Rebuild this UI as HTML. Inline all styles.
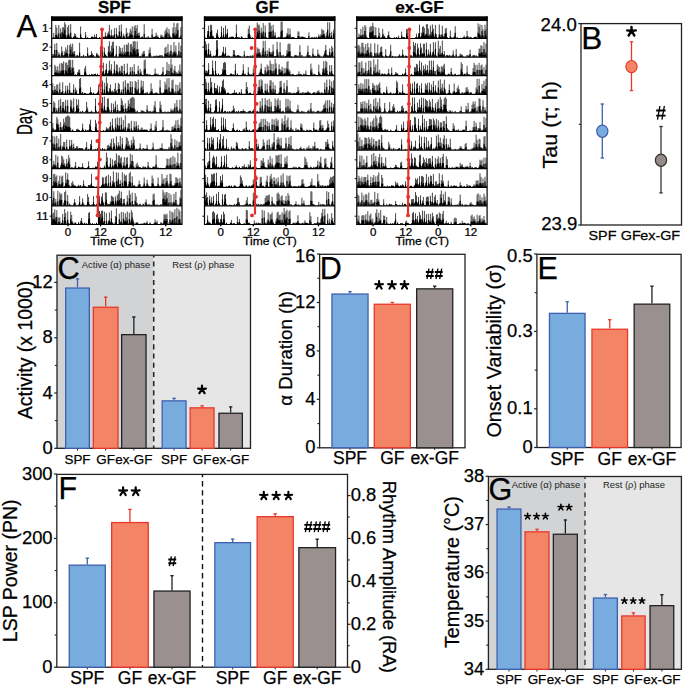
<!DOCTYPE html>
<html><head><meta charset="utf-8"><style>
html,body{margin:0;padding:0;background:#fff;}
svg{display:block;}
text{font-family:"Liberation Sans", sans-serif;stroke:#000;stroke-width:0.25px;paint-order:stroke;}
</style></head><body>
<svg width="685" height="687" viewBox="0 0 685 687"><rect x="0.00" y="0.00" width="685.00" height="687.00" fill="#fff" /><text x="16.60" y="36.80" font-size="30.8" text-anchor="start" >A</text><text transform="translate(32.2,121.6) rotate(-90) scale(0.74,1.04)" font-size="20.5" text-anchor="middle">Day</text><text transform="translate(114.45,13.4) scale(1.08,1)" font-size="15.6" font-weight="bold" text-anchor="middle">SPF</text><rect x="51.10" y="16.30" width="131.50" height="4.70" fill="#000" /><path d="M52.8 38.2m0 0v-.7m1 .7v-5.3m2 5.3v-13.3m1 13.3v-10.7m1 10.7v-1.9m1 1.9v-13.1m1.9 13.1v-9.8m1 9.8v-6m1 6v-10.9m1 10.9v-11m1 11v-16.1m1 16.1v-13.8m1 13.8v-1.5m1 1.5v-11.1m1 11.1v-13.3m1 13.3v-2.3m1 2.3v-14.1m1 14.1v-1.3m2 1.3v-1.7m.9 1.7v-4.8m1 4.8v-4.1m1 4.1v-.8m1 .8v-.8m3 .8v-11.7m1 11.7v-.9m4 .9v-6.2m2 6.2v-.9m3.9 .9v-1.8m1 1.8v-1.6m1 1.6v-.9m1 .9v-3.6m1 3.6v-1.5m1 1.5v-4.2m3 4.2v-1.2m2 1.2v-1.6m1 1.6v-.8m.9 .8v-1.5m1 1.5v-1.3m1 1.3v-5.9m1 5.9v-1.9m1 1.9v-4.8m1 4.8v-6.7m1 6.7v-13.3m1 13.3v-2.6m1 2.6v-8.6m1 8.6v-2.9m1 2.9v-2.7m1 2.7v-10m2 10v-10.4m.9 10.4v-2.9m1 2.9v-2.8m1 2.8v-13m1 13v-2.3m1 2.3v-13.8m1 13.8v-.9m1 .9v-4.5m1 4.5v-2.7m2 2.7v-10.3m1 10.3v-5.6m1 5.6v-1.8m1 1.8v-5.4m1 5.4v-9.4m1 9.4v-7.1m.9 7.1v-11.8m2 11.8v-11.5m1 11.5v-13.1m1 13.1v-10m1 10v-13.2m1 13.2v-5.1m1 5.1v-5.7m2 5.7v-1.4m1 1.4v-1.8m1 1.8v-.7m1 .7v-14m1.9 14v-.9m2 .9v-2m2 2v-.8m2 .8v-9.4m1 9.4v-1.4m1 1.4v-1.3m1 1.3v-1.7m1 1.7v-5.6m1 5.6v-3.3m1 3.3v-1.6m2.9 1.6v-3.6m1 3.6v-3.2m1 3.2v-1.5m2 1.5v-7.1m1 7.1v-8.8m1 8.8v-10.8m1 10.8v-.8m1 .8v-9.2m1 9.2v-2.8m1 2.8v-1.2m2 1.2v-10.6m1 10.6v-15.5m.9 15.5v-5.7m1 5.7v-11m1 11v-14.7m1 14.7v-15.3m1 15.3v-.6m1 .6v-1.3m1 1.3v-11M52.8 56.8m0 0v-2.9m1 2.9v-2.8m1 2.8v-13m1 13v-2.3m1 2.3v-13.8m1 13.8v-.9m1 .9v-4.5m1 4.5v-2.7m1.9 2.7v-10.3m1 10.3v-5.6m1 5.6v-1.8m1 1.8v-5.4m1 5.4v-9.4m1 9.4v-7.1m1 7.1v-11.8m2 11.8v-11.5m1 11.5v-13.1m1 13.1v-10m1 10v-13.2m1 13.2v-5.1m.9 5.1v-5.7m2 5.7v-1.4m1 1.4v-1.8m1 1.8v-.7m1 .7v-14m2 14v-.9m2 .9v-2m2 2v-.8m2 .8v-9.4m1 9.4v-1.4m.9 1.4v-1.3m1 1.3v-1.7m1 1.7v-5.6m1 5.6v-3.3m1 3.3v-1.6m3 1.6v-3.6m1 3.6v-3.2m1 3.2v-1.5m2 1.5v-7.1m1 7.1v-8.8m1 8.8v-10.8m.9 10.8v-.8m1 .8v-9.2m1 9.2v-2.8m1 2.8v-1.2m2 1.2v-10.6m1 10.6v-15.5m1 15.5v-5.7m1 5.7v-11m1 11v-14.7m1 14.7v-15.3m1 15.3v-.6m1 .6v-1.3m1 1.3v-11m2.9 11v-10.6m1 10.6v-9m1 9v-5.4m1 5.4v-9.1m1 9.1v-4.6m1 4.6v-11.9m1 11.9v-5m1 5v-12.4m1 12.4v-11.7m1 11.7v-14.1m1 14.1v-2m1 2v-12.6m1 12.6v-12.9m.9 12.9v-10.3m1 10.3v-15.3m1 15.3v-15.8m1 15.8v-15.3m1 15.3v-7.8m1 7.8v-15.5m1 15.5v-7.8m2 7.8v-1.1m2 1.1v-3.4m1 3.4v-5.5m1 5.5v-5.9m2.9 5.9v-.5m2 .5v-7.1m1 7.1v-9.5m1 9.5v-1.3m3 1.3v-1.1m2 1.1v-1.3m1 1.3v-1.3m1 1.3v-.9m1 .9v-1.2m1 1.2v-1.8m1.9 1.8v-1.7m3 1.7v-9m1 9v-10.1m1 10.1v-4m1 4v-12.7m1 12.7v-1.6m1 1.6v-5.4m1 5.4v-11.8m1 11.8v-2.3m1 2.3v-4.7m1 4.7v-14.8m.9 14.8v-5.8m1 5.8v-11.2m1 11.2v-1.7m1 1.7v-2.4m1 2.4v-14.3m1 14.3v-2.4m1 2.4v-11M52.8 75.4m2 0v-10.6m1 10.6v-9m1 9v-5.4m1 5.4v-9.1m1 9.1v-4.6m1 4.6v-11.9m.9 11.9v-5m1 5v-12.4m1 12.4v-11.7m1 11.7v-14.1m1 14.1v-2m1 2v-12.6m1 12.6v-12.9m1 12.9v-10.3m1 10.3v-15.3m1 15.3v-15.8m1 15.8v-15.3m1 15.3v-7.8m1 7.8v-15.5m1 15.5v-7.8m1.9 7.8v-1.1m2 1.1v-3.4m1 3.4v-5.5m1 5.5v-5.9m3 5.9v-.5m2 .5v-7.1m1 7.1v-9.5m1 9.5v-1.3m2.9 1.3v-1.1m2 1.1v-1.3m1 1.3v-1.3m1 1.3v-.9m1 .9v-1.2m1 1.2v-1.8m2 1.8v-1.7m3 1.7v-9m1 9v-10.1m1 10.1v-4m.9 4v-12.7m1 12.7v-1.6m1 1.6v-5.4m1 5.4v-11.8m1 11.8v-2.3m1 2.3v-4.7m1 4.7v-14.8m1 14.8v-5.8m1 5.8v-11.2m1 11.2v-1.7m1 1.7v-2.4m1 2.4v-14.3m1 14.3v-2.4m1 2.4v-11m.9 11v-10.6m1 10.6v-2.6m1 2.6v-8m1 8v-4.8m1 4.8v-9.6m1 9.6v-9.5m1 9.5v-.8m1 .8v-11.5m1 11.5v-1.4m1 1.4v-2m1 2v-11.8m1 11.8v-.6m1 .6v-1.4m1 1.4v-8.3m1 8.3v-.6m.9 .6v-8.4m1 8.4v-1.1m1 1.1v-11.2m1 11.2v-.8m1 .8v-1.6m1 1.6v-1.3m1 1.3v-9.7m1 9.7v-.7m1 .7v-6.4m1 6.4v-4m3 4v-15m1 15v-16m.9 16v-1.1m1 1.1v-2m2 2v-1.2m1 1.2v-.8m4 .8v-1m1 1v-6.8m1 6.8v-1.9m2 1.9v-1.6m2.9 1.6v-.6m1 .6v-1.9m1 1.9v-8.4m3 8.4v-1.6m1 1.6v-13.4m1 13.4v-1.1m1 1.1v-11.2m1 11.2v-1.3m1 1.3v-16.8m1 16.8v-10.9m1 10.9v-2.2m1 2.2v-5.9m.9 5.9v-9.5m1 9.5v-2.7m1 2.7v-3.5m1 3.5v-2.4m1 2.4v-5.2m1 5.2v-11m1 11v-4M52.8 94.0m0 0v-10.6m1 10.6v-2.6m1 2.6v-8m1 8v-4.8m1 4.8v-9.6m1 9.6v-9.5m1 9.5v-.8m1 .8v-11.5m.9 11.5v-1.4m1 1.4v-2m1 2v-11.8m1 11.8v-.6m1 .6v-1.4m1 1.4v-8.3m1 8.3v-.6m1 .6v-8.4m1 8.4v-1.1m1 1.1v-11.2m1 11.2v-.8m1 .8v-1.6m1 1.6v-1.3m1 1.3v-9.7m.9 9.7v-.7m1 .7v-6.4m1 6.4v-4m3 4v-15m1 15v-16m1 16v-1.1m1 1.1v-2m2 2v-1.2m1 1.2v-.8m3.9 .8v-1m1 1v-6.8m1 6.8v-1.9m2 1.9v-1.6m3 1.6v-.6m1 .6v-1.9m1 1.9v-8.4m3 8.4v-1.6m1 1.6v-13.4m.9 13.4v-1.1m1 1.1v-11.2m1 11.2v-1.3m1 1.3v-16.8m1 16.8v-10.9m1 10.9v-2.2m1 2.2v-5.9m1 5.9v-9.5m1 9.5v-2.7m1 2.7v-3.5m1 3.5v-2.4m1 2.4v-5.2m1 5.2v-11m1 11v-4m.9 4v-1m1 1v-11.2m1 11.2v-9.9m1 9.9v-.7m1 .7v-4.3m1 4.3v-.9m1 .9v-12.6m2 12.6v-13.9m1 13.9v-2.1m1 2.1v-10.6m1 10.6v-10.8m1 10.8v-2.6m1 2.6v-12.9m1 12.9v-1.4m.9 1.4v-12.6m3 12.6v-13.1m1 13.1v-12m1 12v-3.4m1 3.4v-14.3m2 14.3v-1.3m1 1.3v-13.6m1 13.6v-7.8m1 7.8v-13m2 13v-1.3m1.9 1.3v-2m3 2v-1.5m1 1.5v-10.7m1 10.7v-5.2m1 5.2v-.6m1 .6v-.8m1 .8v-.9m1 .9v-1.9m1 1.9v-1m3 1v-14.1m.9 14.1v-1.9m2 1.9v-1.2m1 1.2v-1.9m1 1.9v-12.3m1 12.3v-9.5m1 9.5v-15.6m1 15.6v-3m1 3v-15.9m1 15.9v-2.9m1 2.9v-2.4m1 2.4v-13.8m1 13.8v-14.4m1 14.4v-3m.9 3v-.5m1 .5v-9.4m2 9.4v-9m1 9v-3.7m1 3.7v-11.7m1 11.7v-1M52.8 112.6m0 0v-1m1 1v-11.2m1 11.2v-9.9m1 9.9v-.7m1 .7v-4.3m1 4.3v-.9m1 .9v-12.6m1.9 12.6v-13.9m1 13.9v-2.1m1 2.1v-10.6m1 10.6v-10.8m1 10.8v-2.6m1 2.6v-12.9m1 12.9v-1.4m1 1.4v-12.6m3 12.6v-13.1m1 13.1v-12m1 12v-3.4m1 3.4v-14.3m1.9 14.3v-1.3m1 1.3v-13.6m1 13.6v-7.8m1 7.8v-13m2 13v-1.3m2 1.3v-2m3 2v-1.5m1 1.5v-10.7m1 10.7v-5.2m1 5.2v-.6m.9 .6v-.8m1 .8v-.9m1 .9v-1.9m1 1.9v-1m3 1v-14.1m1 14.1v-1.9m2 1.9v-1.2m1 1.2v-1.9m1 1.9v-12.3m1 12.3v-9.5m1 9.5v-15.6m.9 15.6v-3m1 3v-15.9m1 15.9v-2.9m1 2.9v-2.4m1 2.4v-13.8m1 13.8v-14.4m1 14.4v-3m1 3v-.5m1 .5v-9.4m2 9.4v-9m1 9v-3.7m1 3.7v-11.7m1 11.7v-1m.9 1v-8.1m1 8.1v-2.8m1 2.8v-1.4m1 1.4v-1.8m1 1.8v-14.3m1 14.3v-12m1 12v-7.5m1 7.5v-.7m1 .7v-9.2m1 9.2v-3.6m1 3.6v-4.5m1 4.5v-12.5m1 12.5v-8.9m1 8.9v-14.1m1 14.1v-14.6m.9 14.6v-15.8m1 15.8v-15.5m1 15.5v-14.2m1 14.2v-3m2 3v-1.9m4 1.9v-2.2m1 2.2v-2.6m1 2.6v-1.7m1 1.7v-1.1m1.9 1.1v-.8m1 .8v-7.5m1 7.5v-1.4m2 1.4v-1.8m1 1.8v-.6m1 .6v-1.2m1 1.2v-1.1m1 1.1v-7.2m1 7.2v-11.5m1 11.5v-1.1m4 1.1v-11.3m.9 11.3v-7.8m1 7.8v-1m1 1v-.7m2 .7v-1.2m3 1.2v-1.1m2 1.1v-.8m1 .8v-4m1 4v-2.9m1 2.9v-2.7m1 2.7v-4.1m.9 4.1v-9.3m1 9.3v-1.1m1 1.1v-12.6m1 12.6v-2.9m1 2.9v-1.1m1 1.1v-12.9m1 12.9v-2.6M52.8 131.2m0 0v-8.1m1 8.1v-2.8m1 2.8v-1.4m1 1.4v-1.8m1 1.8v-14.3m1 14.3v-12m1 12v-7.5m1 7.5v-.7m.9 .7v-9.2m1 9.2v-3.6m1 3.6v-4.5m1 4.5v-12.5m1 12.5v-8.9m1 8.9v-14.1m1 14.1v-14.6m1 14.6v-15.8m1 15.8v-15.5m1 15.5v-14.2m1 14.2v-3m2 3v-1.9m3.9 1.9v-2.2m1 2.2v-2.6m1 2.6v-1.7m1 1.7v-1.1m2 1.1v-.8m1 .8v-7.5m1 7.5v-1.4m2 1.4v-1.8m1 1.8v-.6m1 .6v-1.2m1 1.2v-1.1m.9 1.1v-7.2m1 7.2v-11.5m1 11.5v-1.1m4 1.1v-11.3m1 11.3v-7.8m1 7.8v-1m1 1v-.7m2 .7v-1.2m2.9 1.2v-1.1m2 1.1v-.8m1 .8v-4m1 4v-2.9m1 2.9v-2.7m1 2.7v-4.1m1 4.1v-9.3m1 9.3v-1.1m1 1.1v-12.6m1 12.6v-2.9m1 2.9v-1.1m1 1.1v-12.9m1 12.9v-2.6m.9 2.6v-14m1 14v-5.7m1 5.7v-13.3m1 13.3v-1.5m1 1.5v-13.9m1 13.9v-2m1 2v-11.1m1 11.1v-2.5m1 2.5v-15.9m2 15.9v-3.7m1 3.7v-7.9m1 7.9v-7.8m1 7.8v-.6m1 .6v-10.3m.9 10.3v-1.2m1 1.2v-.7m1 .7v-9.9m1 9.9v-3.4m1 3.4v-9.9m1 9.9v-1.8m1 1.8v-6.2m1 6.2v-.9m1 .9v-1.7m1 1.7v-3.6m1 3.6v-3.5m1 3.5v-1.5m1 1.5v-1.9m1 1.9v-1.7m.9 1.7v-1.6m1 1.6v-1.6m3 1.6v-2.3m1 2.3v-7.7m2 7.7v-1m2 1v-5.9m1 5.9v-10m4 10v-.9m1.9 .9v-1.6m1 1.6v-11.1m2 11.1v-1.1m2 1.1v-1.7m2 1.7v-1.2m3 1.2v-4.3m1 4.3v-5m1 5v-3.7m.9 3.7v-6.6m1 6.6v-10.8m1 10.8v-1m1 1v-11.4m1 11.4v-6.6m1 6.6v-.8m1 .8v-13.4M52.8 149.8m0 0v-14m1 14v-5.7m1 5.7v-13.3m1 13.3v-1.5m1 1.5v-13.9m1 13.9v-2m1 2v-11.1m1 11.1v-2.5m.9 2.5v-15.9m2 15.9v-3.7m1 3.7v-7.9m1 7.9v-7.8m1 7.8v-.6m1 .6v-10.3m1 10.3v-1.2m1 1.2v-.7m1 .7v-9.9m1 9.9v-3.4m1 3.4v-9.9m1 9.9v-1.8m1 1.8v-6.2m.9 6.2v-.9m1 .9v-1.7m1 1.7v-3.6m1 3.6v-3.5m1 3.5v-1.5m1 1.5v-1.9m1 1.9v-1.7m1 1.7v-1.6m1 1.6v-1.6m3 1.6v-2.3m1 2.3v-7.7m2 7.7v-1m1.9 1v-5.9m1 5.9v-10m4 10v-.9m2 .9v-1.6m1 1.6v-11.1m2 11.1v-1.1m2 1.1v-1.7m1.9 1.7v-1.2m3 1.2v-4.3m1 4.3v-5m1 5v-3.7m1 3.7v-6.6m1 6.6v-10.8m1 10.8v-1m1 1v-11.4m1 11.4v-6.6m1 6.6v-.8m1 .8v-13.4m.9 13.4v-2.9m1 2.9v-7.6m1 7.6v-4.5m1 4.5v-13.6m1 13.6v-1.6m1 1.6v-12m1 12v-1.2m2 1.2v-3.4m1 3.4v-12.8m1 12.8v-11.7m1 11.7v-9m1 9v-5.1m1 5.1v-2m1 2v-9.6m.9 9.6v-5.4m1 5.4v-13.3m1 13.3v-10.2m2 10.2v-1.2m1 1.2v-.9m2 .9v-1.9m1 1.9v-6.3m2 6.3v-.6m1 .6v-1.9m1 1.9v-1.2m1 1.2v-.9m.9 .9v-1.3m1 1.3v-5m1 5v-.8m4 .8v-1.2m1 1.2v-7.1m1 7.1v-.7m3 .7v-.7m1 .7v-.8m2 .8v-2m.9 2v-1.8m1 1.8v-6.5m1 6.5v-1.1m2 1.1v-1m2 1v-.8m2 .8v-3m1 3v-1.1m1 1.1v-15.7m1 15.7v-11m1 11v-1.8m1 1.8v-2.1m.9 2.1v-10.5m1 10.5v-1.2m1 1.2v-9.1m1 9.1v-3m1 3v-7.6m1 7.6v-8m1 8v-15M52.8 168.4m0 0v-2.9m1 2.9v-7.6m1 7.6v-4.5m1 4.5v-13.6m1 13.6v-1.6m1 1.6v-12m1 12v-1.2m1.9 1.2v-3.4m1 3.4v-12.8m1 12.8v-11.7m1 11.7v-9m1 9v-5.1m1 5.1v-2m1 2v-9.6m1 9.6v-5.4m1 5.4v-13.3m1 13.3v-10.2m2 10.2v-1.2m1 1.2v-.9m1.9 .9v-1.9m1 1.9v-6.3m2 6.3v-.6m1 .6v-1.9m1 1.9v-1.2m1 1.2v-.9m1 .9v-1.3m1 1.3v-5m1 5v-.8m4 .8v-1.2m1 1.2v-7.1m.9 7.1v-.7m3 .7v-.7m1 .7v-.8m2 .8v-2m1 2v-1.8m1 1.8v-6.5m1 6.5v-1.1m2 1.1v-1m2 1v-.8m1.9 .8v-3m1 3v-1.1m1 1.1v-15.7m1 15.7v-11m1 11v-1.8m1 1.8v-2.1m1 2.1v-10.5m1 10.5v-1.2m1 1.2v-9.1m1 9.1v-3m1 3v-7.6m1 7.6v-8m1 8v-15m.9 15v-1.6m1 1.6v-12.9m1 12.9v-13.1m1 13.1v-10.2m1 10.2v-11.6m1 11.6v-1.1m1 1.1v-6.1m1 6.1v-11.3m1 11.3v-2.3m1 2.3v-10.5m1 10.5v-11.4m2 11.4v-1.1m1 1.1v-14.7m1 14.7v-7.5m.9 7.5v-13.6m1 13.6v-6.9m1 6.9v-1.8m2 1.8v-4.2m1 4.2v-5.8m1 5.8v-3.3m1 3.3v-1.4m1 1.4v-1.3m2 1.3v-.8m1 .8v-2.3m1 2.3v-1.2m1 1.2v-1.9m1.9 1.9v-.8m1 .8v-6.6m1 6.6v-1m1 1v-.9m3 .9v-2m1 2v-1.7m1 1.7v-2.5m1 2.5v-13.1m1 13.1v-.8m1 .8v-.9m2.9 .9v-.7m5 .7v-1.9m1 1.9v-9.9m1 9.9v-9.4m1 9.4v-3m1 3v-10m1 10v-11.1m1 11.1v-1.5m1 1.5v-12.4m1 12.4v-.5m.9 .5v-10.9m1 10.9v-.8m1 .8v-6.1m1 6.1v-15.6m1 15.6v-5.1m2 5.1v-14.6M52.8 187.0m0 0v-1.6m1 1.6v-12.9m1 12.9v-13.1m1 13.1v-10.2m1 10.2v-11.6m1 11.6v-1.1m1 1.1v-6.1m1 6.1v-11.3m.9 11.3v-2.3m1 2.3v-10.5m1 10.5v-11.4m2 11.4v-1.1m1 1.1v-14.7m1 14.7v-7.5m1 7.5v-13.6m1 13.6v-6.9m1 6.9v-1.8m2 1.8v-4.2m1 4.2v-5.8m1 5.8v-3.3m.9 3.3v-1.4m1 1.4v-1.3m2 1.3v-.8m1 .8v-2.3m1 2.3v-1.2m1 1.2v-1.9m2 1.9v-.8m1 .8v-6.6m1 6.6v-1m1 1v-.9m3 .9v-2m.9 2v-1.7m1 1.7v-2.5m1 2.5v-13.1m1 13.1v-.8m1 .8v-.9m3 .9v-.7m5 .7v-1.9m1 1.9v-9.9m.9 9.9v-9.4m1 9.4v-3m1 3v-10m1 10v-11.1m1 11.1v-1.5m1 1.5v-12.4m1 12.4v-.5m1 .5v-10.9m1 10.9v-.8m1 .8v-6.1m1 6.1v-15.6m1 15.6v-5.1m2 5.1v-14.6m.9 14.6v-5.7m1 5.7v-14.4m1 14.4v-3.1m1 3.1v-6.7m1 6.7v-.7m1 .7v-14.8m1 14.8v-1.1m1 1.1v-13.1m1 13.1v-11.1m1 11.1v-12m1 12v-.8m1 .8v-2.8m1 2.8v-13.6m1 13.6v-15.2m1 15.2v-.8m.9 .8v-10.7m1 10.7v-.8m1 .8v-2m1 2v-.6m1 .6v-.6m2 .6v-2.2m1 2.2v-6.4m1 6.4v-2.8m3 2.8v-1.3m1 1.3v-9.5m1 9.5v-.9m.9 .9v-1.3m1 1.3v-7.2m1 7.2v-2.3m1 2.3v-.9m2 .9v-1m1 1v-11.5m1 11.5v-8.6m1 8.6v-1.3m1 1.3v-.7m1 .7v-1m1 1v-1.2m1 1.2v-9.5m1 9.5v-1.4m1.9 1.4v-1.4m1 1.4v-13m1 13v-7.1m1 7.1v-8.8m1 8.8v-1.6m1 1.6v-9m1 9v-12.2m1 12.2v-3.6m2 3.6v-13.3m1 13.3v-12.9m1 12.9v-2.3m1 2.3v-1.6m1 1.6v-1.5m.9 1.5v-4.1m1 4.1v-9.9m1 9.9v-9.2m1 9.2v-8.2m1 8.2v-1.9m1 1.9v-9.2m1 9.2v-2.9M52.8 205.6m0 0v-5.7m1 5.7v-14.4m1 14.4v-3.1m1 3.1v-6.7m1 6.7v-.7m1 .7v-14.8m1 14.8v-1.1m1 1.1v-13.1m.9 13.1v-11.1m1 11.1v-12m1 12v-.8m1 .8v-2.8m1 2.8v-13.6m1 13.6v-15.2m1 15.2v-.8m1 .8v-10.7m1 10.7v-.8m1 .8v-2m1 2v-.6m1 .6v-.6m2 .6v-2.2m.9 2.2v-6.4m1 6.4v-2.8m3 2.8v-1.3m1 1.3v-9.5m1 9.5v-.9m1 .9v-1.3m1 1.3v-7.2m1 7.2v-2.3m1 2.3v-.9m2 .9v-1m1 1v-11.5m1 11.5v-8.6m.9 8.6v-1.3m1 1.3v-.7m1 .7v-1m1 1v-1.2m1 1.2v-9.5m1 9.5v-1.4m2 1.4v-1.4m1 1.4v-13m1 13v-7.1m1 7.1v-8.8m1 8.8v-1.6m1 1.6v-9m1 9v-12.2m.9 12.2v-3.6m2 3.6v-13.3m1 13.3v-12.9m1 12.9v-2.3m1 2.3v-1.6m1 1.6v-1.5m1 1.5v-4.1m1 4.1v-9.9m1 9.9v-9.2m1 9.2v-8.2m1 8.2v-1.9m1 1.9v-9.2m1 9.2v-2.9m.9 2.9v-10.3m1 10.3v-11.8m1 11.8v-15m1 15v-7.4m1 7.4v-14m1 14v-1.3m1 1.3v-6.6m1 6.6v-6.8m2 6.8v-1.3m1 1.3v-10.2m1 10.2v-1.4m1 1.4v-15.2m1 15.2v-11.2m1 11.2v-.7m.9 .7v-12.9m1 12.9v-1.4m2 1.4v-12.5m1 12.5v-9.2m1 9.2v-2.8m1 2.8v-.6m1 .6v-1.7m1 1.7v-1.9m3 1.9v-2m2 2v-3.4m.9 3.4v-6.2m1 6.2v-1.3m2 1.3v-1.7m2 1.7v-1m2 1v-11.2m1 11.2v-12.2m1 12.2v-1.5m2 1.5v-1.2m2 1.2v-.7m1.9 .7v-1.6m2 1.6v-15.9m1 15.9v-13.2m1 13.2v-10.4m1 10.4v-13.3m1 13.3v-13.6m1 13.6v-2.9m1 2.9v-12.5m2 12.5v-11.1m1 11.1v-.6m1 .6v-3.7m1 3.7v-11.7m.9 11.7v-2.7m1 2.7v-13.7m1 13.7v-2.1m1 2.1v-.7m1 .7v-.6m1 .6v-8.2m1 8.2v-15.8M52.8 224.2m0 0v-10.3m1 10.3v-11.8m1 11.8v-15m1 15v-7.4m1 7.4v-14m1 14v-1.3m1 1.3v-6.6m1 6.6v-6.8m1.9 6.8v-1.3m1 1.3v-10.2m1 10.2v-1.4m1 1.4v-15.2m1 15.2v-11.2m1 11.2v-.7m1 .7v-12.9m1 12.9v-1.4m2 1.4v-12.5m1 12.5v-9.2m1 9.2v-2.8m1 2.8v-.6m.9 .6v-1.7m1 1.7v-1.9m3 1.9v-2m2 2v-3.4m1 3.4v-6.2m1 6.2v-1.3m2 1.3v-1.7m2 1.7v-1m2 1v-11.2m.9 11.2v-12.2m1 12.2v-1.5m2 1.5v-1.2m2 1.2v-.7m2 .7v-1.6m2 1.6v-15.9m1 15.9v-13.2m1 13.2v-10.4m1 10.4v-13.3m1 13.3v-13.6m.9 13.6v-2.9m1 2.9v-12.5m2 12.5v-11.1m1 11.1v-.6m1 .6v-3.7m1 3.7v-11.7m1 11.7v-2.7m1 2.7v-13.7m1 13.7v-2.1m1 2.1v-.7m1 .7v-.6m1 .6v-8.2m1 8.2v-15.8m2.9 15.8v-10.4m1 10.4v-2.7m1 2.7v-12.2m1 12.2v-1.2m1 1.2v-12.1m1 12.1v-4.4m1 4.4v-10.9m1 10.9v-7m1 7v-12.7m1 12.7v-1m1 1v-11.5m1 11.5v-2.5m1 2.5v-14m.9 14v-12m1 12v-4.7m1 4.7v-1.5m2 1.5v-1.9m1 1.9v-2m1 2v-.9m2 .9v-.6m1 .6v-.6m1 .6v-.7m1 .7v-.6m1 .6v-1.7m1.9 1.7v-1.5m1 1.5v-3.3m3 3.3v-1.8m4 1.8v-.9m1 .9v-4.8m1 4.8v-2.2m1 2.2v-3.5m3.9 3.5v-2m2 2v-1.2m1 1.2v-9.7m1 9.7v-10.3m1 10.3v-9.1m1 9.1v-10.5m1 10.5v-.6m1 .6v-2.1m1 2.1v-13.6m1 13.6v-2m1 2v-12.5m1 12.5v-11.6m1 11.6v-1.1m.9 1.1v-14.9m1 14.9v-2.2m1 2.2v-16.4m1 16.4v-1.3m1 1.3v-15m1 15v-13m1 13v-1.8" stroke="#1a1a1a" stroke-width="0.8" fill="none"/><path d="M52.8 38.2m1 0v-1.3m2 1.3v-3.3m1 3.3v-3.5m1 3.5v-1m1 1v-4.9m1.9 4.9v-4.5m1 4.5v-1.5m1 1.5v-5.7m1 5.7v-4.1m1 4.1v-8.5m1 8.5v-3.1m2 3.1v-2.9m1 2.9v-4.4m1 4.4v-.9m1 .9v-5.5m3 5.5v-1.2m.9 1.2v-2m1 2v-2m1 2v-.5m1 .5v-.5m3 .5v-3.9m1 3.9v-.7m4 .7v-2.8m2 2.8v-.6m3.9 .6v-1.3m1 1.3v-1.1m1 1.1v-.6m1 .6v-.9m2 .9v-1.5m3 1.5v-.8m2 .8v-1.1m1 1.1v-.6m.9 .6v-1.1m1 1.1v-.6m1 .6v-2.1m1 2.1v-.7m1 .7v-1.9m1 1.9v-3.5m1 3.5v-3.8m1 3.8v-1.1m1 1.1v-2.8m1 2.8v-.9m1 .9v-1m1 1v-3.6m2 3.6v-4.1m.9 4.1v-1.1m1 1.1v-1.1m1 1.1v-6.7m1 6.7v-1.1m1 1.1v-6.8m2 6.8v-2m1 2v-1.2m2 1.2v-4.1m1 4.1v-1.3m1 1.3v-.6m1 .6v-2.1m1 2.1v-3.8m1 3.8v-3.7m.9 3.7v-3.1m2 3.1v-2.6m1 2.6v-7.1m1 7.1v-2.2m1 2.2v-4m1 4v-2.1m1 2.1v-2.6m2 2.6v-1m1 1v-1.3m2 1.3v-4.3m1.9 4.3v-.6m2 .6v-1.4m2 1.4v-.5m2 .5v-3.6m1 3.6v-.6m1 .6v-.9m1 .9v-1.2m1 1.2v-2.1m1 2.1v-.9m1 .9v-1.2m2.9 1.2v-1.7m1 1.7v-.9m1 .9v-1.1m2 1.1v-2.8m1 2.8v-4.1m1 4.1v-5.7m2 5.7v-4.6m1 4.6v-1.5m1 1.5v-.8m2 .8v-4.9m1 4.9v-4.1m.9 4.1v-2m1 2v-3.2m1 3.2v-4.7m1 4.7v-8.3m3 8.3v-2.7M52.8 56.8m0 0v-1.1m1 1.1v-1.1m1 1.1v-6.7m1 6.7v-1.1m1 1.1v-6.8m2 6.8v-2m1 2v-1.2m1.9 1.2v-4.1m1 4.1v-1.3m1 1.3v-.6m1 .6v-2.1m1 2.1v-3.8m1 3.8v-3.7m1 3.7v-3.1m2 3.1v-2.6m1 2.6v-7.1m1 7.1v-2.2m1 2.2v-4m1 4v-2.1m.9 2.1v-2.6m2 2.6v-1m1 1v-1.3m2 1.3v-4.3m2 4.3v-.6m2 .6v-1.4m2 1.4v-.5m2 .5v-3.6m1 3.6v-.6m.9 .6v-.9m1 .9v-1.2m1 1.2v-2.1m1 2.1v-.9m1 .9v-1.2m3 1.2v-1.7m1 1.7v-.9m1 .9v-1.1m2 1.1v-2.8m1 2.8v-4.1m1 4.1v-5.7m1.9 5.7v-4.6m1 4.6v-1.5m1 1.5v-.8m2 .8v-4.9m1 4.9v-4.1m1 4.1v-2m1 2v-3.2m1 3.2v-4.7m1 4.7v-8.3m3 8.3v-2.7m2.9 2.7v-2.7m1 2.7v-3.3m1 3.3v-2.3m1 2.3v-2.8m1 2.8v-1.6m1 1.6v-3m1 3v-2m1 2v-4.3m1 4.3v-5m1 5v-5.1m1 5.1v-.7m1 .7v-5.1m1 5.1v-4.1m.9 4.1v-2.4m1 2.4v-7.1m1 7.1v-8.4m1 8.4v-5.5m1 5.5v-2.3m1 2.3v-7.1m1 7.1v-3.8m2 3.8v-.7m2 .7v-1.2m1 1.2v-2.3m1 2.3v-2.7m4.9 2.7v-3m1 3v-3.9m4 3.9v-.7m2 .7v-.9m2 .9v-.7m1 .7v-.8m1 .8v-1.3m1.9 1.3v-1.2m3 1.2v-3.1m1 3.1v-3.4m1 3.4v-1.8m1 1.8v-4.2m1 4.2v-.7m1 .7v-2.6m1 2.6v-6.1m1 6.1v-.9m1 .9v-2.4m1 2.4v-4.8m.9 4.8v-3m1 3v-4.4m2 4.4v-.9m1 .9v-5.9m1 5.9v-.8m1 .8v-4.6M52.8 75.4m2 0v-2.7m1 2.7v-3.3m1 3.3v-2.3m1 2.3v-2.8m1 2.8v-1.6m1 1.6v-3m.9 3v-2m1 2v-4.3m1 4.3v-5m1 5v-5.1m1 5.1v-.7m1 .7v-5.1m1 5.1v-4.1m1 4.1v-2.4m1 2.4v-7.1m1 7.1v-8.4m1 8.4v-5.5m1 5.5v-2.3m1 2.3v-7.1m1 7.1v-3.8m1.9 3.8v-.7m2 .7v-1.2m1 1.2v-2.3m1 2.3v-2.7m5 2.7v-3m1 3v-3.9m3.9 3.9v-.7m2 .7v-.9m2 .9v-.7m1 .7v-.8m1 .8v-1.3m2 1.3v-1.2m3 1.2v-3.1m1 3.1v-3.4m1 3.4v-1.8m.9 1.8v-4.2m1 4.2v-.7m1 .7v-2.6m1 2.6v-6.1m1 6.1v-.9m1 .9v-2.4m1 2.4v-4.8m1 4.8v-3m1 3v-4.4m2 4.4v-.9m1 .9v-5.9m1 5.9v-.8m1 .8v-4.6m.9 4.6v-3.9m1 3.9v-.8m1 .8v-4m1 4v-1.5m1 1.5v-3m1 3v-2.2m2 2.2v-4.4m2 4.4v-1.4m1 1.4v-2.9m3 2.9v-3.1m1.9 3.1v-4.4m2 4.4v-3.7m1 3.7v-.6m1 .6v-1.1m2 1.1v-4.6m2 4.6v-2.6m1 2.6v-1.3m3 1.3v-5.6m1 5.6v-6.6m1.9 6.6v-1.4m2 1.4v-.9m1 .9v-.6m4 .6v-.7m1 .7v-2m1 2v-1.3m2 1.3v-1.1m3.9 1.1v-1.3m1 1.3v-3.6m3 3.6v-1.1m1 1.1v-4.8m2 4.8v-4.3m2 4.3v-7.4m1 7.4v-2.9m1 2.9v-1m1 1v-2.2m.9 2.2v-4.5m1 4.5v-1.2m1 1.2v-1.5m1 1.5v-1.3m1 1.3v-1.3m1 1.3v-2.8m1 2.8v-1.5M52.8 94.0m0 0v-3.9m1 3.9v-.8m1 .8v-4m1 4v-1.5m1 1.5v-3m1 3v-2.2m2 2.2v-4.4m1.9 4.4v-1.4m1 1.4v-2.9m3 2.9v-3.1m2 3.1v-4.4m2 4.4v-3.7m1 3.7v-.6m1 .6v-1.1m2 1.1v-4.6m1.9 4.6v-2.6m1 2.6v-1.3m3 1.3v-5.6m1 5.6v-6.6m2 6.6v-1.4m2 1.4v-.9m1 .9v-.6m3.9 .6v-.7m1 .7v-2m1 2v-1.3m2 1.3v-1.1m4 1.1v-1.3m1 1.3v-3.6m3 3.6v-1.1m1 1.1v-4.8m1.9 4.8v-4.3m2 4.3v-7.4m1 7.4v-2.9m1 2.9v-1m1 1v-2.2m1 2.2v-4.5m1 4.5v-1.2m1 1.2v-1.5m1 1.5v-1.3m1 1.3v-1.3m1 1.3v-2.8m1 2.8v-1.5m.9 1.5v-.7m1 .7v-5.1m1 5.1v-4.9m2 4.9v-2.1m2 2.1v-4.8m2 4.8v-6.7m2 6.7v-4.6m1 4.6v-4.2m1 4.2v-1.1m1 1.1v-6.7m1 6.7v-.5m.9 .5v-6.9m3 6.9v-6.2m1 6.2v-4.3m1 4.3v-1.7m1 1.7v-5.3m2 5.3v-.9m1 .9v-6.5m1 6.5v-3.8m1 3.8v-4.4m2 4.4v-.9m1.9 .9v-1.4m3 1.4v-1m1 1v-3.1m1 3.1v-2m2 2v-.6m1 .6v-.6m1 .6v-.7m1 .7v-.7m3 .7v-6.5m.9 6.5v-.7m2 .7v-.9m1 .9v-1.3m1 1.3v-4.4m1 4.4v-4.2m1 4.2v-4.7m1 4.7v-1.1m1 1.1v-6.4m1 6.4v-1.5m1 1.5v-1.2m1 1.2v-5.6m1 5.6v-5.2m1 5.2v-1.2m1.9 1.2v-2.3m2 2.3v-2.9m1 2.9v-1.2m1 1.2v-5.6m1 5.6v-.5M52.8 112.6m0 0v-.7m1 .7v-5.1m1 5.1v-4.9m2 4.9v-2.1m2 2.1v-4.8m1.9 4.8v-6.7m2 6.7v-4.6m1 4.6v-4.2m1 4.2v-1.1m1 1.1v-6.7m1 6.7v-.5m1 .5v-6.9m3 6.9v-6.2m1 6.2v-4.3m1 4.3v-1.7m1 1.7v-5.3m1.9 5.3v-.9m1 .9v-6.5m1 6.5v-3.8m1 3.8v-4.4m2 4.4v-.9m2 .9v-1.4m3 1.4v-1m1 1v-3.1m1 3.1v-2m1.9 2v-.6m1 .6v-.6m1 .6v-.7m1 .7v-.7m3 .7v-6.5m1 6.5v-.7m2 .7v-.9m1 .9v-1.3m1 1.3v-4.4m1 4.4v-4.2m1 4.2v-4.7m.9 4.7v-1.1m1 1.1v-6.4m1 6.4v-1.5m1 1.5v-1.2m1 1.2v-5.6m1 5.6v-5.2m1 5.2v-1.2m2 1.2v-2.3m2 2.3v-2.9m1 2.9v-1.2m1 1.2v-5.6m1 5.6v-.5m.9 .5v-2.6m1 2.6v-.6m1 .6v-1m1 1v-1.3m1 1.3v-7.7m1 7.7v-6.1m1 6.1v-3.6m2 3.6v-4.2m1 4.2v-1.1m1 1.1v-1.2m1 1.2v-6.4m1 6.4v-2.4m1 2.4v-5.6m1 5.6v-4.6m.9 4.6v-3.9m1 3.9v-4.7m1 4.7v-4m1 4v-.7m2 .7v-1.3m4 1.3v-.8m1 .8v-1m1 1v-1.2m1 1.2v-.8m1.9 .8v-.5m1 .5v-3m1 3v-1m2 1v-1.3m2 1.3v-.8m1 .8v-.8m1 .8v-2.1m1 2.1v-5m1 5v-.7m4 .7v-4.3m.9 4.3v-2.9m1 2.9v-.7m3 .7v-.8m3 .8v-.8m2 .8v-.5m1 .5v-1.4m1 1.4v-1.4m1 1.4v-.8m1 .8v-1m.9 1v-5m2 5v-5.8m1 5.8v-1.5m2 1.5v-3.9m1 3.9v-1M52.8 131.2m0 0v-2.6m1 2.6v-.6m1 .6v-1m1 1v-1.3m1 1.3v-7.7m1 7.7v-6.1m1 6.1v-3.6m1.9 3.6v-4.2m1 4.2v-1.1m1 1.1v-1.2m1 1.2v-6.4m1 6.4v-2.4m1 2.4v-5.6m1 5.6v-4.6m1 4.6v-3.9m1 3.9v-4.7m1 4.7v-4m1 4v-.7m2 .7v-1.3m3.9 1.3v-.8m1 .8v-1m1 1v-1.2m1 1.2v-.8m2 .8v-.5m1 .5v-3m1 3v-1m2 1v-1.3m2 1.3v-.8m1 .8v-.8m.9 .8v-2.1m1 2.1v-5m1 5v-.7m4 .7v-4.3m1 4.3v-2.9m1 2.9v-.7m3 .7v-.8m2.9 .8v-.8m2 .8v-.5m1 .5v-1.4m1 1.4v-1.4m1 1.4v-.8m1 .8v-1m1 1v-5m2 5v-5.8m1 5.8v-1.5m2 1.5v-3.9m1 3.9v-1m.9 1v-6.6m1 6.6v-2.4m1 2.4v-5.3m1 5.3v-1.1m1 1.1v-6.5m1 6.5v-.9m1 .9v-2.7m1 2.7v-.7m1 .7v-4.1m2 4.1v-1.7m1 1.7v-2.8m1 2.8v-2.1m2 2.1v-2.7m.9 2.7v-.5m2 .5v-3.9m1 3.9v-1.2m1 1.2v-5m2 5v-2.7m1 2.7v-.7m1 .7v-1.2m1 1.2v-1.3m1 1.3v-1.2m1 1.2v-1.1m1 1.1v-1.3m1 1.3v-1.2m.9 1.2v-1.1m1 1.1v-1.1m3 1.1v-1m1 1v-2.6m2 2.6v-.7m2 .7v-1.5m1 1.5v-3.9m4 3.9v-.6m1.9 .6v-1.1m1 1.1v-3.9m2 3.9v-.8m2 .8v-1.2m2 1.2v-.8m3 .8v-1.1m1 1.1v-1.6m1 1.6v-1.8m.9 1.8v-3.2m1 3.2v-2.4m2 2.4v-3.1m1 3.1v-3.2m1 3.2v-.6m1 .6v-4.6M52.8 149.8m0 0v-6.6m1 6.6v-2.4m1 2.4v-5.3m1 5.3v-1.1m1 1.1v-6.5m1 6.5v-.9m1 .9v-2.7m1 2.7v-.7m.9 .7v-4.1m2 4.1v-1.7m1 1.7v-2.8m1 2.8v-2.1m2 2.1v-2.7m1 2.7v-.5m2 .5v-3.9m1 3.9v-1.2m1 1.2v-5m2 5v-2.7m.9 2.7v-.7m1 .7v-1.2m1 1.2v-1.3m1 1.3v-1.2m1 1.2v-1.1m1 1.1v-1.3m1 1.3v-1.2m1 1.2v-1.1m1 1.1v-1.1m3 1.1v-1m1 1v-2.6m2 2.6v-.7m1.9 .7v-1.5m1 1.5v-3.9m4 3.9v-.6m2 .6v-1.1m1 1.1v-3.9m2 3.9v-.8m2 .8v-1.2m1.9 1.2v-.8m3 .8v-1.1m1 1.1v-1.6m1 1.6v-1.8m1 1.8v-3.2m1 3.2v-2.4m2 2.4v-3.1m1 3.1v-3.2m1 3.2v-.6m1 .6v-4.6m.9 4.6v-1.3m1 1.3v-3.7m1 3.7v-2.3m1 2.3v-3.2m1 3.2v-.6m1 .6v-5.6m3 5.6v-1.4m1 1.4v-5.5m1 5.5v-3.6m1 3.6v-3.8m1 3.8v-2.8m1 2.8v-1.4m1 1.4v-4.2m.9 4.2v-1.4m1 1.4v-6.8m1 6.8v-4m2 4v-.8m1 .8v-.6m2 .6v-.5m1 .5v-1.9m3 1.9v-1.4m1 1.4v-.8m1 .8v-.6m.9 .6v-.9m1 .9v-1.3m1 1.3v-.6m4 .6v-.8m1 .8v-2.4m5 2.4v-.5m2 .5v-1.4m.9 1.4v-1.3m1 1.3v-1.7m1 1.7v-.8m2 .8v-.7m2 .7v-.5m2 .5v-1.3m1 1.3v-.5m1 .5v-6.7m1 6.7v-3.6m1 3.6v-.6m1 .6v-.8m.9 .8v-4.6m2 4.6v-2.6m1 2.6v-1m1 1v-2.7m1 2.7v-4.3m1 4.3v-3.8M52.8 168.4m0 0v-1.3m1 1.3v-3.7m1 3.7v-2.3m1 2.3v-3.2m1 3.2v-.6m1 .6v-5.6m2.9 5.6v-1.4m1 1.4v-5.5m1 5.5v-3.6m1 3.6v-3.8m1 3.8v-2.8m1 2.8v-1.4m1 1.4v-4.2m1 4.2v-1.4m1 1.4v-6.8m1 6.8v-4m2 4v-.8m1 .8v-.6m1.9 .6v-.5m1 .5v-1.9m3 1.9v-1.4m1 1.4v-.8m1 .8v-.6m1 .6v-.9m1 .9v-1.3m1 1.3v-.6m4 .6v-.8m1 .8v-2.4m4.9 2.4v-.5m2 .5v-1.4m1 1.4v-1.3m1 1.3v-1.7m1 1.7v-.8m2 .8v-.7m2 .7v-.5m1.9 .5v-1.3m1 1.3v-.5m1 .5v-6.7m1 6.7v-3.6m1 3.6v-.6m1 .6v-.8m1 .8v-4.6m2 4.6v-2.6m1 2.6v-1m1 1v-2.7m1 2.7v-4.3m1 4.3v-3.8m.9 3.8v-.9m1 .9v-5.8m1 5.8v-4.3m1 4.3v-5.6m1 5.6v-4m2 4v-2.6m1 2.6v-2.9m1 2.9v-.8m1 .8v-3.6m1 3.6v-4.7m2 4.7v-.8m1 .8v-4m1 4v-3.5m.9 3.5v-7.4m1 7.4v-1.8m1 1.8v-.5m2 .5v-1.1m1 1.1v-2m1 2v-1.2m1 1.2v-1m1 1v-.9m2 .9v-.5m1 .5v-1.1m2 1.1v-1.4m1.9 1.4v-.6m1 .6v-2.7m1 2.7v-.5m1 .5v-.6m3 .6v-1.4m1 1.4v-1.2m1 1.2v-.8m1 .8v-3.8m1 3.8v-.6m1 .6v-.7m7.9 .7v-.7m1 .7v-3.3m1 3.3v-2.4m1 2.4v-.7m1 .7v-3.8m1 3.8v-3.2m2 3.2v-3.8m1.9 3.8v-4.5m1 4.5v-.6m1 .6v-2.4m1 2.4v-3.9m1 3.9v-2.3m2 2.3v-5.5M52.8 187.0m0 0v-.9m1 .9v-5.8m1 5.8v-4.3m1 4.3v-5.6m1 5.6v-4m2 4v-2.6m1 2.6v-2.9m.9 2.9v-.8m1 .8v-3.6m1 3.6v-4.7m2 4.7v-.8m1 .8v-4m1 4v-3.5m1 3.5v-7.4m1 7.4v-1.8m1 1.8v-.5m2 .5v-1.1m1 1.1v-2m1 2v-1.2m.9 1.2v-1m1 1v-.9m2 .9v-.5m1 .5v-1.1m2 1.1v-1.4m2 1.4v-.6m1 .6v-2.7m1 2.7v-.5m1 .5v-.6m3 .6v-1.4m.9 1.4v-1.2m1 1.2v-.8m1 .8v-3.8m1 3.8v-.6m1 .6v-.7m8 .7v-.7m1 .7v-3.3m.9 3.3v-2.4m1 2.4v-.7m1 .7v-3.8m1 3.8v-3.2m2 3.2v-3.8m2 3.8v-4.5m1 4.5v-.6m1 .6v-2.4m1 2.4v-3.9m1 3.9v-2.3m2 2.3v-5.5m.9 5.5v-1.9m1 1.9v-7.8m1 7.8v-1.1m1 1.1v-3m2 3v-4.3m2 4.3v-6.1m1 6.1v-5.2m1 5.2v-5.5m2 5.5v-.6m1 .6v-5.4m1 5.4v-4.8m1.9 4.8v-4.2m1 4.2v-.5m1 .5v-1.4m4 1.4v-.8m1 .8v-3.1m1 3.1v-.8m3 .8v-.9m1 .9v-3.6m1 3.6v-.6m.9 .6v-.9m1 .9v-3.4m1 3.4v-.9m1 .9v-.6m2 .6v-.7m1 .7v-3.8m1 3.8v-3.3m1 3.3v-.9m2 .9v-.7m1 .7v-.8m1 .8v-3.3m1 3.3v-.9m1.9 .9v-1m1 1v-3.4m1 3.4v-3.1m1 3.1v-2.7m1 2.7v-.8m1 .8v-4m1 4v-6m1 6v-1.8m2 1.8v-3.3m1 3.3v-5.9m1 5.9v-.7m1 .7v-1.1m1 1.1v-1.1m.9 1.1v-1.9m1 1.9v-3.6m1 3.6v-4.3m1 4.3v-4.1m2 4.1v-4.9m1 4.9v-.8M52.8 205.6m0 0v-1.9m1 1.9v-7.8m1 7.8v-1.1m1 1.1v-3m2 3v-4.3m2 4.3v-6.1m.9 6.1v-5.2m1 5.2v-5.5m2 5.5v-.6m1 .6v-5.4m1 5.4v-4.8m2 4.8v-4.2m1 4.2v-.5m1 .5v-1.4m4 1.4v-.8m.9 .8v-3.1m1 3.1v-.8m3 .8v-.9m1 .9v-3.6m1 3.6v-.6m1 .6v-.9m1 .9v-3.4m1 3.4v-.9m1 .9v-.6m2 .6v-.7m1 .7v-3.8m1 3.8v-3.3m.9 3.3v-.9m2 .9v-.7m1 .7v-.8m1 .8v-3.3m1 3.3v-.9m2 .9v-1m1 1v-3.4m1 3.4v-3.1m1 3.1v-2.7m1 2.7v-.8m1 .8v-4m1 4v-6m.9 6v-1.8m2 1.8v-3.3m1 3.3v-5.9m1 5.9v-.7m1 .7v-1.1m1 1.1v-1.1m1 1.1v-1.9m1 1.9v-3.6m1 3.6v-4.3m1 4.3v-4.1m2 4.1v-4.9m1 4.9v-.8m.9 .8v-5.1m1 5.1v-4.4m1 4.4v-5.7m1 5.7v-2.9m1 2.9v-7m2 7v-2.3m1 2.3v-2.5m2 2.5v-.9m1 .9v-3.9m2 3.9v-7.3m1 7.3v-3.2m1.9 3.2v-4.5m1 4.5v-1m2 1v-4.9m1 4.9v-2.6m1 2.6v-1.3m3 1.3v-1.3m3 1.3v-1.4m2 1.4v-.9m.9 .9v-3m1 3v-.9m2 .9v-1.2m2 1.2v-.7m2 .7v-4.8m1 4.8v-5.9m3 5.9v-.8m3.9 .8v-1.1m2 1.1v-6.6m1 6.6v-7.1m1 7.1v-3.5m1 3.5v-5.8m1 5.8v-7.4m1 7.4v-1.1m1 1.1v-3.1m2 3.1v-3.2m2 3.2v-1.9m1 1.9v-3.6m.9 3.6v-1.4m1 1.4v-5.7m1 5.7v-.9m3 .9v-1.9m1 1.9v-7.1M52.8 224.2m0 0v-5.1m1 5.1v-4.4m1 4.4v-5.7m1 5.7v-2.9m1 2.9v-7m2 7v-2.3m1 2.3v-2.5m1.9 2.5v-.9m1 .9v-3.9m2 3.9v-7.3m1 7.3v-3.2m2 3.2v-4.5m1 4.5v-1m2 1v-4.9m1 4.9v-2.6m1 2.6v-1.3m2.9 1.3v-1.3m3 1.3v-1.4m2 1.4v-.9m1 .9v-3m1 3v-.9m2 .9v-1.2m2 1.2v-.7m2 .7v-4.8m.9 4.8v-5.9m3 5.9v-.8m4 .8v-1.1m2 1.1v-6.6m1 6.6v-7.1m1 7.1v-3.5m1 3.5v-5.8m1 5.8v-7.4m.9 7.4v-1.1m1 1.1v-3.1m2 3.1v-3.2m2 3.2v-1.9m1 1.9v-3.6m1 3.6v-1.4m1 1.4v-5.7m1 5.7v-.9m3 .9v-1.9m1 1.9v-7.1m2.9 7.1v-5m1 5v-.9m1 .9v-2.7m2 2.7v-5.4m1 5.4v-2.2m1 2.2v-3.3m1 3.3v-2.3m1 2.3v-3.9m2 3.9v-5.3m1 5.3v-1m1 1v-4.2m.9 4.2v-6.6m1 6.6v-2.4m3 2.4v-1.3m1 1.3v-1.4m7 1.4v-1.2m1.9 1.2v-1.1m1 1.1v-1.2m3 1.2v-1.3m4 1.3v-.6m1 .6v-1.9m1 1.9v-1.1m1 1.1v-.9m3.9 .9v-1.4m2 1.4v-.8m1 .8v-3.5m1 3.5v-5.1m1 5.1v-3.2m1 3.2v-5.1m3 5.1v-4.5m1 4.5v-.9m1 .9v-3.4m1 3.4v-4.9m1 4.9v-.8m.9 .8v-6.3m1 6.3v-.8m1 .8v-7.7m1 7.7v-.5m1 .5v-5m1 5v-5m1 5v-.6" stroke="#000" stroke-width="1.15" fill="none"/><line x1="51.70" y1="38.50" x2="182.00" y2="38.50" stroke="#000" stroke-width="1.2" /><line x1="49.50" y1="28.30" x2="51.70" y2="28.30" stroke="#000" stroke-width="0.9" /><text transform="translate(48.30,32.00) scale(1.12,1)" font-size="10.3" text-anchor="end">1</text><line x1="51.70" y1="57.10" x2="182.00" y2="57.10" stroke="#000" stroke-width="1.2" /><line x1="49.50" y1="47.09" x2="51.70" y2="47.09" stroke="#000" stroke-width="0.9" /><text transform="translate(48.30,50.79) scale(1.12,1)" font-size="10.3" text-anchor="end">2</text><line x1="51.70" y1="75.70" x2="182.00" y2="75.70" stroke="#000" stroke-width="1.2" /><line x1="49.50" y1="65.88" x2="51.70" y2="65.88" stroke="#000" stroke-width="0.9" /><text transform="translate(48.30,69.58) scale(1.12,1)" font-size="10.3" text-anchor="end">3</text><line x1="51.70" y1="94.30" x2="182.00" y2="94.30" stroke="#000" stroke-width="1.2" /><line x1="49.50" y1="84.67" x2="51.70" y2="84.67" stroke="#000" stroke-width="0.9" /><text transform="translate(48.30,88.37) scale(1.12,1)" font-size="10.3" text-anchor="end">4</text><line x1="51.70" y1="112.90" x2="182.00" y2="112.90" stroke="#000" stroke-width="1.2" /><line x1="49.50" y1="103.46" x2="51.70" y2="103.46" stroke="#000" stroke-width="0.9" /><text transform="translate(48.30,107.16) scale(1.12,1)" font-size="10.3" text-anchor="end">5</text><line x1="51.70" y1="131.50" x2="182.00" y2="131.50" stroke="#000" stroke-width="1.2" /><line x1="49.50" y1="122.25" x2="51.70" y2="122.25" stroke="#000" stroke-width="0.9" /><text transform="translate(48.30,125.95) scale(1.12,1)" font-size="10.3" text-anchor="end">6</text><line x1="51.70" y1="150.10" x2="182.00" y2="150.10" stroke="#000" stroke-width="1.2" /><line x1="49.50" y1="141.04" x2="51.70" y2="141.04" stroke="#000" stroke-width="0.9" /><text transform="translate(48.30,144.74) scale(1.12,1)" font-size="10.3" text-anchor="end">7</text><line x1="51.70" y1="168.70" x2="182.00" y2="168.70" stroke="#000" stroke-width="1.2" /><line x1="49.50" y1="159.83" x2="51.70" y2="159.83" stroke="#000" stroke-width="0.9" /><text transform="translate(48.30,163.53) scale(1.12,1)" font-size="10.3" text-anchor="end">8</text><line x1="51.70" y1="187.30" x2="182.00" y2="187.30" stroke="#000" stroke-width="1.2" /><line x1="49.50" y1="178.62" x2="51.70" y2="178.62" stroke="#000" stroke-width="0.9" /><text transform="translate(48.30,182.32) scale(1.12,1)" font-size="10.3" text-anchor="end">9</text><line x1="51.70" y1="205.90" x2="182.00" y2="205.90" stroke="#000" stroke-width="1.2" /><line x1="49.50" y1="197.41" x2="51.70" y2="197.41" stroke="#000" stroke-width="0.9" /><text transform="translate(48.30,201.11) scale(1.12,1)" font-size="10.3" text-anchor="end">10</text><line x1="51.70" y1="224.50" x2="182.00" y2="224.50" stroke="#000" stroke-width="1.2" /><line x1="49.50" y1="216.20" x2="51.70" y2="216.20" stroke="#000" stroke-width="0.9" /><text transform="translate(48.30,219.90) scale(1.12,1)" font-size="10.3" text-anchor="end">11</text><line x1="51.70" y1="16.30" x2="51.70" y2="225.00" stroke="#000" stroke-width="1.2" /><line x1="182.00" y1="16.30" x2="182.00" y2="225.00" stroke="#000" stroke-width="1.2" /><line x1="67.99" y1="224.40" x2="67.99" y2="226.30" stroke="#000" stroke-width="1.3" /><text transform="translate(67.99,236.2) scale(1.12,1)" font-size="10.3" text-anchor="middle">0</text><line x1="100.56" y1="224.40" x2="100.56" y2="226.30" stroke="#000" stroke-width="1.3" /><text transform="translate(100.56,236.2) scale(1.12,1)" font-size="10.3" text-anchor="middle">12</text><line x1="133.14" y1="224.40" x2="133.14" y2="226.30" stroke="#000" stroke-width="1.3" /><text transform="translate(133.14,236.2) scale(1.12,1)" font-size="10.3" text-anchor="middle">0</text><line x1="165.71" y1="224.40" x2="165.71" y2="226.30" stroke="#000" stroke-width="1.3" /><text transform="translate(165.71,236.2) scale(1.12,1)" font-size="10.3" text-anchor="middle">12</text><text transform="translate(117.15,244.8) scale(1.17,1)" font-size="10.3" text-anchor="middle">Time (CT)</text><line x1="102.00" y1="29.40" x2="97.60" y2="214.40" stroke="#e62e2a" stroke-width="2.1" /><circle cx="102.00" cy="29.40" r="1.9" fill="#e62e2a"/><circle cx="101.56" cy="48.00" r="1.9" fill="#e62e2a"/><circle cx="101.12" cy="66.60" r="1.9" fill="#e62e2a"/><circle cx="100.17" cy="85.20" r="1.9" fill="#e62e2a"/><circle cx="99.73" cy="103.80" r="1.9" fill="#e62e2a"/><circle cx="99.79" cy="122.40" r="1.9" fill="#e62e2a"/><circle cx="97.35" cy="141.00" r="1.9" fill="#e62e2a"/><circle cx="99.90" cy="159.60" r="1.9" fill="#e62e2a"/><circle cx="96.96" cy="178.20" r="1.9" fill="#e62e2a"/><circle cx="98.02" cy="196.80" r="1.9" fill="#e62e2a"/><circle cx="97.58" cy="215.40" r="1.9" fill="#e62e2a"/><text transform="translate(267.25,13.4) scale(1.08,1)" font-size="15.6" font-weight="bold" text-anchor="middle">GF</text><rect x="203.90" y="16.30" width="131.50" height="4.70" fill="#000" /><path d="M205.6 38.2m0 0v-.7m2 .7v-7.3m1 7.3v-12.6m1 12.6v-2m1 2v-13.5m1 13.5v-13.3m1 13.3v-2.8m.9 2.8v-1.9m3 1.9v-5.3m1 5.3v-8.7m1 8.7v-1.5m2 1.5v-1.5m1 1.5v-11.9m1 11.9v-1.5m1 1.5v-10.3m1 10.3v-1.4m1 1.4v-12.7m1 12.7v-3.7m.9 3.7v-9.2m2 9.2v-1.2m1 1.2v-1.2m1 1.2v-1.7m1 1.7v-1.7m1 1.7v-1.5m2 1.5v-1.1m1 1.1v-13.6m1 13.6v-1.2m1 1.2v-.9m1 .9v-1.2m2 1.2v-1.9m.9 1.9v-1m3 1v-.6m3 .6v-9.6m1 9.6v-12.6m1 12.6v-2.9m2 2.9v-.8m3.9 .8v-2.8m1 2.8v-15.6m1 15.6v-13.5m1 13.5v-13.5m2 13.5v-10.7m1 10.7v-5.4m1 5.4v-15.1m1 15.1v-1.7m1 1.7v-12.8m1 12.8v-1.2m2 1.2v-.5m1 .5v-15.7m.9 15.7v-15.4m1 15.4v-12.5m1 12.5v-2.9m1 2.9v-13.4m1 13.4v-2.2m1 2.2v-6m1 6v-.7m2 .7v-1.3m1 1.3v-.8m1 .8v-1.4m1 1.4v-16.6m1 16.6v-16.6m1 16.6v-.7m1 .7v-1.1m.9 1.1v-1m1 1v-1.4m1 1.4v-5.1m1 5.1v-10m1 10v-2.7m1 2.7v-9.6m1 9.6v-.8m1 .8v-1.3m1 1.3v-1.3m1 1.3v-1m4 1v-6.8m.9 6.8v-6.6m1 6.6v-1.6m1 1.6v-.9m1 .9v-1.8m1 1.8v-1.8m1 1.8v-1.2m1 1.2v-.9m4 .9v-5.9m2 5.9v-.6m1 .6v-1.1m1 1.1v-.8m1.9 .8v-1.4m2 1.4v-1.5m2 1.5v-3.9m1 3.9v-1.9m1 1.9v-3.9m1 3.9v-9.4m1 9.4v-8m1 8v-8m1 8v-4.2m1 4.2v-.7m1 .7v-5.9m.9 5.9v-16m1 16v-2.5m1 2.5v-16m1 16v-1m1 1v-6.5m2 6.5v-8.6M205.6 56.8m0 0v-15.4m1 15.4v-12.5m1 12.5v-2.9m1 2.9v-13.4m1 13.4v-2.2m1 2.2v-6m1 6v-.7m1.9 .7v-1.3m1 1.3v-.8m1 .8v-1.4m1 1.4v-16.6m1 16.6v-16.6m1 16.6v-.7m1 .7v-1.1m1 1.1v-1m1 1v-1.4m1 1.4v-5.1m1 5.1v-10m1 10v-2.7m1 2.7v-9.6m1 9.6v-.8m.9 .8v-1.3m1 1.3v-1.3m1 1.3v-1m4 1v-6.8m1 6.8v-6.6m1 6.6v-1.6m1 1.6v-.9m1 .9v-1.8m1 1.8v-1.8m1 1.8v-1.2m1 1.2v-.9m3.9 .9v-5.9m2 5.9v-.6m1 .6v-1.1m1 1.1v-.8m2 .8v-1.4m2 1.4v-1.5m2 1.5v-3.9m1 3.9v-1.9m.9 1.9v-3.9m1 3.9v-9.4m1 9.4v-8m1 8v-8m1 8v-4.2m1 4.2v-.7m1 .7v-5.9m1 5.9v-16m1 16v-2.5m1 2.5v-16m1 16v-1m1 1v-6.5m2 6.5v-8.6m.9 8.6v-4.9m1 4.9v-4.8m1 4.8v-4.1m1 4.1v-12.3m1 12.3v-.9m1 .9v-.8m1 .8v-1m1 1v-15m1 15v-4.5m2 4.5v-14.5m1 14.5v-1.9m2 1.9v-2m1.9 2v-.6m1 .6v-1.1m1 1.1v-6.6m1 6.6v-12.4m1 12.4v-13.5m1 13.5v-12.7m1 12.7v-.9m4 .9v-1.8m1 1.8v-1.9m1 1.9v-.9m1 .9v-1.4m.9 1.4v-1m1 1v-11.6m2 11.6v-1.9m5 1.9v-2.4m1 2.4v-11.1m1 11.1v-1.5m1 1.5v-1.7m3 1.7v-8.3m.9 8.3v-1.5m1 1.5v-.8m1 .8v-1.1m2 1.1v-7.2m1 7.2v-3.2m1 3.2v-1.5m4 1.5v-2.1m1 2.1v-5.6m1 5.6v-11.8m1 11.8v-2.5m.9 2.5v-1.4m1 1.4v-1.4m1 1.4v-8.4m1 8.4v-2.2m1 2.2v-10.9m1 10.9v-9.2M205.6 75.4m0 0v-4.9m1 4.9v-4.8m1 4.8v-4.1m1 4.1v-12.3m1 12.3v-.9m1 .9v-.8m1 .8v-1m1 1v-15m.9 15v-4.5m2 4.5v-14.5m1 14.5v-1.9m2 1.9v-2m2 2v-.6m1 .6v-1.1m1 1.1v-6.6m1 6.6v-12.4m1 12.4v-13.5m1 13.5v-12.7m1 12.7v-.9m3.9 .9v-1.8m1 1.8v-1.9m1 1.9v-.9m1 .9v-1.4m1 1.4v-1m1 1v-11.6m2 11.6v-1.9m4.9 1.9v-2.4m1 2.4v-11.1m1 11.1v-1.5m1 1.5v-1.7m3 1.7v-8.3m1 8.3v-1.5m1 1.5v-.8m1 .8v-1.1m2 1.1v-7.2m1 7.2v-3.2m1 3.2v-1.5m3.9 1.5v-2.1m1 2.1v-5.6m1 5.6v-11.8m1 11.8v-2.5m1 2.5v-1.4m1 1.4v-1.4m1 1.4v-8.4m1 8.4v-2.2m1 2.2v-10.9m1 10.9v-9.2m1.9 9.2v-15m1 15v-11.6m1 11.6v-2.7m1 2.7v-11.4m1 11.4v-2.9m1 2.9v-16.3m1 16.3v-12m1 12v-1m2 1v-11m1 11v-6m1 6v-5.8m1 5.8v-8.8m1 8.8v-1.2m1 1.2v-7.5m.9 7.5v-1.1m1 1.1v-7.2m1 7.2v-13.3m1 13.3v-14.6m1 14.6v-6.2m1 6.2v-4.5m2 4.5v-1.2m1 1.2v-1.6m4 1.6v-1m1 1v-.8m.9 .8v-4.1m1 4.1v-1.1m1 1.1v-1.7m3 1.7v-1.8m2 1.8v-4.9m5 4.9v-11.8m1 11.8v-7m1 7v-.5m.9 .5v-1.2m1 1.2v-1.6m4 1.6v-10.7m1 10.7v-2m3 2v-7m1 7v-14.2m1 14.2v-4.8m1 4.8v-14.7m1 14.7v-13.5m.9 13.5v-1.4m2 1.4v-10.3m1 10.3v-2.8m1 2.8v-10.2m1 10.2v-1.9M205.6 94.0m0 0v-15m1 15v-11.6m1 11.6v-2.7m1 2.7v-11.4m1 11.4v-2.9m1 2.9v-16.3m1 16.3v-12m1 12v-1m1.9 1v-11m1 11v-6m1 6v-5.8m1 5.8v-8.8m1 8.8v-1.2m1 1.2v-7.5m1 7.5v-1.1m1 1.1v-7.2m1 7.2v-13.3m1 13.3v-14.6m1 14.6v-6.2m1 6.2v-4.5m1.9 4.5v-1.2m1 1.2v-1.6m4 1.6v-1m1 1v-.8m1 .8v-4.1m1 4.1v-1.1m1 1.1v-1.7m3 1.7v-1.8m2 1.8v-4.9m4.9 4.9v-11.8m1 11.8v-7m1 7v-.5m1 .5v-1.2m1 1.2v-1.6m4 1.6v-10.7m1 10.7v-2m2.9 2v-7m1 7v-14.2m1 14.2v-4.8m1 4.8v-14.7m1 14.7v-13.5m1 13.5v-1.4m2 1.4v-10.3m1 10.3v-2.8m1 2.8v-10.2m1 10.2v-1.9m1.9 1.9v-13.7m1 13.7v-13.7m1 13.7v-2.5m1 2.5v-11.9m1 11.9v-1.7m1 1.7v-8.7m1 8.7v-.5m3 .5v-1.9m1 1.9v-12.8m1 12.8v-13.2m1 13.2v-.9m1 .9v-1m1 1v-11.1m.9 11.1v-1m1 1v-4m1 4v-13.9m1 13.9v-.5m1 .5v-1.7m1 1.7v-1.7m2 1.7v-1.2m2 1.2v-1.5m1 1.5v-.7m1 .7v-1.2m1 1.2v-2m1 2v-7m.9 7v-4.1m2 4.1v-1.4m1 1.4v-.6m1 .6v-2m2 2v-1.4m1 1.4v-1.5m1 1.5v-1.6m1 1.6v-3.2m1 3.2v-1.7m1 1.7v-1.3m3 1.3v-1.1m.9 1.1v-1.8m1 1.8v-1.9m2 1.9v-1.6m1 1.6v-3.1m1 3.1v-3.8m1 3.8v-1.6m1 1.6v-.7m1 .7v-1.8m1 1.8v-.9m1 .9v-1.1m1 1.1v-11.4m1 11.4v-2.3m1 2.3v-14.4m.9 14.4v-1.2m1 1.2v-4.2m1 4.2v-14.5m1 14.5v-.7m1 .7v-12.6m1 12.6v-5.8m1 5.8v-13.7M205.6 112.6m0 0v-13.7m1 13.7v-13.7m1 13.7v-2.5m1 2.5v-11.9m1 11.9v-1.7m1 1.7v-8.7m1 8.7v-.5m2.9 .5v-1.9m1 1.9v-12.8m1 12.8v-13.2m1 13.2v-.9m1 .9v-1m1 1v-11.1m1 11.1v-1m1 1v-4m1 4v-13.9m1 13.9v-.5m1 .5v-1.7m1 1.7v-1.7m1.9 1.7v-1.2m2 1.2v-1.5m1 1.5v-.7m1 .7v-1.2m1 1.2v-2m1 2v-7m1 7v-4.1m2 4.1v-1.4m1 1.4v-.6m1 .6v-2m2 2v-1.4m1 1.4v-1.5m.9 1.5v-1.6m1 1.6v-3.2m1 3.2v-1.7m1 1.7v-1.3m3 1.3v-1.1m1 1.1v-1.8m1 1.8v-1.9m2 1.9v-1.6m1 1.6v-3.1m1 3.1v-3.8m1 3.8v-1.6m.9 1.6v-.7m1 .7v-1.8m1 1.8v-.9m1 .9v-1.1m1 1.1v-11.4m1 11.4v-2.3m1 2.3v-14.4m1 14.4v-1.2m1 1.2v-4.2m1 4.2v-14.5m1 14.5v-.7m1 .7v-12.6m1 12.6v-5.8m1 5.8v-13.7m.9 13.7v-2m1 2v-11m1 11v-1.6m1 1.6v-1m1 1v-1.6m1 1.6v-14.2m1 14.2v-4.2m1 4.2v-12.5m1 12.5v-14.4m1 14.4v-4.1m1 4.1v-12.3m1 12.3v-1.1m1 1.1v-1.2m1 1.2v-2m2.9 2v-13.8m1 13.8v-1.7m1 1.7v-13.6m1 13.6v-2.6m1 2.6v-12.1m1 12.1v-1.9m1 1.9v-1.2m1 1.2v-1m4 1v-3.1m1 3.1v-7.8m.9 7.8v-1.6m2 1.6v-.9m1 .9v-1.9m2 1.9v-1.2m4 1.2v-1.9m1 1.9v-3m1 3v-.9m1 .9v-9.7m1 9.7v-1.5m1.9 1.5v-1.7m3 1.7v-1.2m1 1.2v-2m1 2v-1.8m1 1.8v-.6m1 .6v-1.1m1 1.1v-1.9m1 1.9v-3.2m1 3.2v-7.6m1 7.6v-9.1m1 9.1v-12.1m1 12.1v-.9m.9 .9v-12.4m1 12.4v-.6m1 .6v-12.4m2 12.4v-10.1m1 10.1v-1.8m1 1.8v-8.7M205.6 131.2m0 0v-2m1 2v-11m1 11v-1.6m1 1.6v-1m1 1v-1.6m1 1.6v-14.2m1 14.2v-4.2m1 4.2v-12.5m.9 12.5v-14.4m1 14.4v-4.1m1 4.1v-12.3m1 12.3v-1.1m1 1.1v-1.2m1 1.2v-2m3 2v-13.8m1 13.8v-1.7m1 1.7v-13.6m1 13.6v-2.6m1 2.6v-12.1m1 12.1v-1.9m.9 1.9v-1.2m1 1.2v-1m4 1v-3.1m1 3.1v-7.8m1 7.8v-1.6m2 1.6v-.9m1 .9v-1.9m2 1.9v-1.2m3.9 1.2v-1.9m1 1.9v-3m1 3v-.9m1 .9v-9.7m1 9.7v-1.5m2 1.5v-1.7m3 1.7v-1.2m1 1.2v-2m1 2v-1.8m1 1.8v-.6m.9 .6v-1.1m1 1.1v-1.9m1 1.9v-3.2m1 3.2v-7.6m1 7.6v-9.1m1 9.1v-12.1m1 12.1v-.9m1 .9v-12.4m1 12.4v-.6m1 .6v-12.4m2 12.4v-10.1m1 10.1v-1.8m1 1.8v-8.7m.9 8.7v-1.7m2 1.7v-12.1m1 12.1v-.5m1 .5v-11.7m1 11.7v-2.8m1 2.8v-12.9m1 12.9v-10m1 10v-11.6m1 11.6v-.5m2 .5v-1.1m1 1.1v-12.6m1 12.6v-1.3m1 1.3v-10.2m.9 10.2v-15.8m1 15.8v-1.7m1 1.7v-10.9m1 10.9v-13.6m1 13.6v-1.5m1 1.5v-1.4m1 1.4v-10.9m1 10.9v-.8m1 .8v-2.2m3 2.2v-3.3m1 3.3v-1m1 1v-2m.9 2v-1.3m2 1.3v-7.8m1 7.8v-6.7m1 6.7v-1.4m1 1.4v-.9m1 .9v-.6m2 .6v-1.8m1 1.8v-.8m1 .8v-.6m1 .6v-1.5m1 1.5v-1.3m2.9 1.3v-8.7m1 8.7v-1.6m1 1.6v-1.8m1 1.8v-1.8m2 1.8v-1.6m1 1.6v-10.7m1 10.7v-11.1m1 11.1v-2.5m1 2.5v-6.3m1 6.3v-1m1 1v-.6m1 .6v-1.3m1 1.3v-3m.9 3v-10.5m1 10.5v-7.4m2 7.4v-.6m1 .6v-9.6m1 9.6v-1.3m1 1.3v-10.7M205.6 149.8m0 0v-1.7m2 1.7v-12.1m1 12.1v-.5m1 .5v-11.7m1 11.7v-2.8m1 2.8v-12.9m1 12.9v-10m.9 10v-11.6m1 11.6v-.5m2 .5v-1.1m1 1.1v-12.6m1 12.6v-1.3m1 1.3v-10.2m1 10.2v-15.8m1 15.8v-1.7m1 1.7v-10.9m1 10.9v-13.6m1 13.6v-1.5m1 1.5v-1.4m1 1.4v-10.9m.9 10.9v-.8m1 .8v-2.2m3 2.2v-3.3m1 3.3v-1m1 1v-2m1 2v-1.3m2 1.3v-7.8m1 7.8v-6.7m1 6.7v-1.4m1 1.4v-.9m1 .9v-.6m1.9 .6v-1.8m1 1.8v-.8m1 .8v-.6m1 .6v-1.5m1 1.5v-1.3m3 1.3v-8.7m1 8.7v-1.6m1 1.6v-1.8m1 1.8v-1.8m2 1.8v-1.6m1 1.6v-10.7m.9 10.7v-11.1m1 11.1v-2.5m1 2.5v-6.3m1 6.3v-1m1 1v-.6m1 .6v-1.3m1 1.3v-3m1 3v-10.5m1 10.5v-7.4m2 7.4v-.6m1 .6v-9.6m1 9.6v-1.3m1 1.3v-10.7m.9 10.7v-2.9m2 2.9v-5.9m1 5.9v-7.2m1 7.2v-16.5m1 16.5v-.6m2 .6v-10.5m1 10.5v-12.8m1 12.8v-11m1 11v-3.7m1 3.7v-11.9m1 11.9v-1.3m1 1.3v-1.7m1 1.7v-.8m.9 .8v-2m1 2v-12.1m1 12.1v-1.2m1 1.2v-3.3m1 3.3v-12.5m1 12.5v-1.3m1 1.3v-13.8m1 13.8v-1.5m1 1.5v-1.1m1 1.1v-.5m3 .5v-1.1m1 1.1v-.5m1.9 .5v-1.7m1 1.7v-3.2m1 3.2v-1m2 1v-1.8m3 1.8v-2.4m1 2.4v-2.3m1 2.3v-4.2m1 4.2v-1m1 1v-1.8m2 1.8v-4m.9 4v-2.6m1 2.6v-8m1 8v-1m1 1v-1.5m1 1.5v-1.9m3 1.9v-1.2m5 1.2v-8.1m1 8.1v-7.6m.9 7.6v-10.4m1 10.4v-6.1m1 6.1v-1.4m1 1.4v-1m1 1v-.6m1 .6v-8.8m1 8.8v-2.6M205.6 168.4m0 0v-2.9m2 2.9v-5.9m1 5.9v-7.2m1 7.2v-16.5m1 16.5v-.6m2 .6v-10.5m.9 10.5v-12.8m1 12.8v-11m1 11v-3.7m1 3.7v-11.9m1 11.9v-1.3m1 1.3v-1.7m1 1.7v-.8m1 .8v-2m1 2v-12.1m1 12.1v-1.2m1 1.2v-3.3m1 3.3v-12.5m1 12.5v-1.3m1 1.3v-13.8m.9 13.8v-1.5m1 1.5v-1.1m1 1.1v-.5m3 .5v-1.1m1 1.1v-.5m2 .5v-1.7m1 1.7v-3.2m1 3.2v-1m2 1v-1.8m2.9 1.8v-2.4m1 2.4v-2.3m1 2.3v-4.2m1 4.2v-1m1 1v-1.8m2 1.8v-4m1 4v-2.6m1 2.6v-8m1 8v-1m1 1v-1.5m1 1.5v-1.9m2.9 1.9v-1.2m5 1.2v-8.1m1 8.1v-7.6m1 7.6v-10.4m1 10.4v-6.1m1 6.1v-1.4m1 1.4v-1m1 1v-.6m1 .6v-8.8m1 8.8v-2.6m.9 2.6v-12.3m1 12.3v-2.4m1 2.4v-10m1 10v-2.7m2 2.7v-4m1 4v-13.2m1 13.2v-12.4m1 12.4v-13.2m1 13.2v-13.7m1 13.7v-1.5m1 1.5v-14.2m1 14.2v-.6m1 .6v-1.5m1 1.5v-1.4m.9 1.4v-10.9m1 10.9v-6.7m1 6.7v-12.5m4 12.5v-.7m2 .7v-1m1 1v-1.9m2 1.9v-1.6m2.9 1.6v-1.8m1 1.8v-1.3m4 1.3v-1m1 1v-11.6m1 11.6v-9.5m1 9.5v-6.4m1 6.4v-1.4m2 1.4v-.7m1 .7v-1.8m2.9 1.8v-1.6m2 1.6v-1.6m1 1.6v-1.7m1 1.7v-7.7m1 7.7v-1.1m1 1.1v-6.8m1 6.8v-11.6m1 11.6v-1.7m1 1.7v-.7m2 .7v-9.7m1 9.7v-10.2m1 10.2v-1m.9 1v-1.6m3 1.6v-6.5m1 6.5v-11.4m1 11.4v-.6M205.6 187.0m0 0v-12.3m1 12.3v-2.4m1 2.4v-10m1 10v-2.7m2 2.7v-4m1 4v-13.2m1 13.2v-12.4m.9 12.4v-13.2m1 13.2v-13.7m1 13.7v-1.5m1 1.5v-14.2m1 14.2v-.6m1 .6v-1.5m1 1.5v-1.4m1 1.4v-10.9m1 10.9v-6.7m1 6.7v-12.5m4 12.5v-.7m1.9 .7v-1m1 1v-1.9m2 1.9v-1.6m3 1.6v-1.8m1 1.8v-1.3m4 1.3v-1m1 1v-11.6m1 11.6v-9.5m.9 9.5v-6.4m1 6.4v-1.4m2 1.4v-.7m1 .7v-1.8m3 1.8v-1.6m2 1.6v-1.6m1 1.6v-1.7m1 1.7v-7.7m1 7.7v-1.1m1 1.1v-6.8m.9 6.8v-11.6m1 11.6v-1.7m1 1.7v-.7m2 .7v-9.7m1 9.7v-10.2m1 10.2v-1m1 1v-1.6m3 1.6v-6.5m1 6.5v-11.4m1 11.4v-.6m1.9 .6v-10.7m1 10.7v-13.1m1 13.1v-8.6m2 8.6v-10m1 10v-3.1m1 3.1v-8.4m1 8.4v-2.7m1 2.7v-9.7m2 9.7v-2m1 2v-11.7m1 11.7v-1.2m1 1.2v-13.7m1 13.7v-2.5m2.9 2.5v-11.5m1 11.5v-1.1m1 1.1v-10.9m1 10.9v-11.7m1 11.7v-1.8m1 1.8v-.5m2 .5v-1.1m1 1.1v-.7m1 .7v-.8m2 .8v-.6m.9 .6v-1.6m2 1.6v-1.5m1 1.5v-7.3m1 7.3v-7.9m1 7.9v-3.4m5 3.4v-.8m1 .8v-1.3m1 1.3v-5.2m1 5.2v-8.4m1 8.4v-1m.9 1v-1.5m1 1.5v-1.8m3 1.8v-12.9m1 12.9v-6.3m1 6.3v-.6m1 .6v-1.8m2 1.8v-1.9m2 1.9v-1.2m1 1.2v-1.5m1.9 1.5v-1.8m1 1.8v-1.6m1 1.6v-7.7m1 7.7v-10.1m1 10.1v-9.6m1 9.6v-10.5m1 10.5v-11.1M205.6 205.6m0 0v-10.7m1 10.7v-13.1m1 13.1v-8.6m2 8.6v-10m1 10v-3.1m1 3.1v-8.4m1 8.4v-2.7m.9 2.7v-9.7m2 9.7v-2m1 2v-11.7m1 11.7v-1.2m1 1.2v-13.7m1 13.7v-2.5m3 2.5v-11.5m1 11.5v-1.1m1 1.1v-10.9m1 10.9v-11.7m1 11.7v-1.8m.9 1.8v-.5m2 .5v-1.1m1 1.1v-.7m1 .7v-.8m2 .8v-.6m1 .6v-1.6m2 1.6v-1.5m1 1.5v-7.3m1 7.3v-7.9m1 7.9v-3.4m4.9 3.4v-.8m1 .8v-1.3m1 1.3v-5.2m1 5.2v-8.4m1 8.4v-1m1 1v-1.5m1 1.5v-1.8m3 1.8v-12.9m1 12.9v-6.3m1 6.3v-.6m.9 .6v-1.8m2 1.8v-1.9m2 1.9v-1.2m1 1.2v-1.5m2 1.5v-1.8m1 1.8v-1.6m1 1.6v-7.7m1 7.7v-10.1m1 10.1v-9.6m1 9.6v-10.5m1 10.5v-11.1m1.9 11.1v-.9m1 .9v-8.8m1 8.8v-2.5m1 2.5v-2m1 2v-.9m2 .9v-12.2m1 12.2v-13.1m1 13.1v-11.5m1 11.5v-.9m1 .9v-9.2m1 9.2v-10.4m1 10.4v-5.6m1 5.6v-1.8m.9 1.8v-5.1m1 5.1v-9.6m1 9.6v-2.1m1 2.1v-12.5m1 12.5v-10.1m2 10.1v-1.6m4 1.6v-1.5m1 1.5v-4.3m1 4.3v-.5m1 .5v-1m.9 1v-1.2m3 1.2v-7.8m1 7.8v-1.9m1 1.9v-5.1m1 5.1v-.9m3 .9v-.7m1 .7v-.9m2 .9v-14.4m1 14.4v-14m1 14v-1.6m.9 1.6v-1.5m1 1.5v-.5m4 .5v-3.8m2 3.8v-1.8m2 1.8v-1.6m1 1.6v-1.2m1 1.2v-1.1m2 1.1v-14.4m.9 14.4v-1.4m1 1.4v-13.5m1 13.5v-1.7m2 1.7v-3.8m1 3.8v-11.9m1 11.9v-1.8M205.6 224.2m1 0v-.9m1 .9v-8.8m1 8.8v-2.5m1 2.5v-2m1 2v-.9m2 .9v-12.2m.9 12.2v-13.1m1 13.1v-11.5m1 11.5v-.9m1 .9v-9.2m1 9.2v-10.4m1 10.4v-5.6m1 5.6v-1.8m1 1.8v-5.1m1 5.1v-9.6m1 9.6v-2.1m1 2.1v-12.5m1 12.5v-10.1m2 10.1v-1.6m3.9 1.6v-1.5m1 1.5v-4.3m1 4.3v-.5m1 .5v-1m1 1v-1.2m3 1.2v-7.8m1 7.8v-1.9m1 1.9v-5.1m1 5.1v-.9m2.9 .9v-.7m1 .7v-.9m2 .9v-14.4m1 14.4v-14m1 14v-1.6m1 1.6v-1.5m1 1.5v-.5m4 .5v-3.8m1.9 3.8v-1.8m2 1.8v-1.6m1 1.6v-1.2m1 1.2v-1.1m2 1.1v-14.4m1 14.4v-1.4m1 1.4v-13.5m1 13.5v-1.7m2 1.7v-3.8m1 3.8v-11.9m1 11.9v-1.8m.9 1.8v-9.9m1 9.9v-10.1m1 10.1v-11.9m1 11.9v-2.8m1 2.8v-.6m2 .6v-4.3m1 4.3v-11.7m1 11.7v-12.5m1 12.5v-9m1 9v-9.7m1 9.7v-2.3m1 2.3v-11.8m1 11.8v-1.5m1 1.5v-16.2m.9 16.2v-10.5m1 10.5v-12.9m1 12.9v-14.4m1 14.4v-1.4m1 1.4v-12.8m1 12.8v-13.9m3 13.9v-1.1m1 1.1v-1.9m2 1.9v-1.9m1 1.9v-1.9m1 1.9v-9m.9 9v-1.2m1 1.2v-1.1m2 1.1v-.8m1 .8v-1.7m2 1.7v-3.9m1 3.9v-1.9m1 1.9v-1.3m1 1.3v-1.3m2 1.3v-11.9m1 11.9v-8m2.9 8v-.7m1 .7v-1.1m1 1.1v-.9m1 .9v-1.1m1 1.1v-7.3m1 7.3v-1m1 1v-1.8m1 1.8v-5.4m1 5.4v-11.3m1 11.3v-15.3m1 15.3v-3m1 3v-15.4m1 15.4v-.7m1.9 .7v-10.6m1 10.6v-1.1m1 1.1v-5.5m1 5.5v-.7m1 .7v-11m1 11v-6.2m1 6.2v-1.4" stroke="#1a1a1a" stroke-width="0.8" fill="none"/><path d="M205.6 38.2m2 0v-3.8m1 3.8v-7.2m1 7.2v-.8m1 .8v-6.3m1 6.3v-7.6m1 7.6v-1.6m.9 1.6v-1.3m3 1.3v-2.4m1 2.4v-4m1 4v-.6m2 .6v-1.1m1 1.1v-5.9m2 5.9v-3.7m1 3.7v-.5m1 .5v-3.8m1 3.8v-1.3m.9 1.3v-5.3m2 5.3v-.8m1 .8v-.8m1 .8v-1.2m1 1.2v-1.2m1 1.2v-1.1m2 1.1v-.8m1 .8v-4.6m1 4.6v-.8m1 .8v-.6m3 .6v-1.4m.9 1.4v-.7m6 .7v-4m1 4v-4.7m1 4.7v-.9m2 .9v-.6m3.9 .6v-1.3m1 1.3v-6.8m1 6.8v-4.8m1 4.8v-7.8m2 7.8v-5.4m1 5.4v-2.5m1 2.5v-6.8m1 6.8v-.8m1 .8v-5.8m1 5.8v-.7m3 .7v-6.5m.9 6.5v-6.2m1 6.2v-6.8m1 6.8v-.9m1 .9v-7.7m1 7.7v-1.2m1 1.2v-2.9m3 2.9v-.9m1 .9v-.5m1 .5v-1m1 1v-6.8m1 6.8v-8m2 8v-.8m.9 .8v-.7m1 .7v-1m1 1v-2.5m1 2.5v-3.8m1 3.8v-1.3m1 1.3v-3.9m2 3.9v-.9m1 .9v-.9m1 .9v-.7m4 .7v-2m.9 2v-2.2m1 2.2v-.5m1 .5v-.6m1 .6v-1.2m1 1.2v-1.3m1 1.3v-.8m1 .8v-.6m4 .6v-2.3m3 2.3v-.8m1 .8v-.6m1.9 .6v-.9m2 .9v-1m2 1v-1.8m1 1.8v-.9m1 .9v-1.5m1 1.5v-3m1 3v-3.1m1 3.1v-4.4m1 4.4v-2m2 2v-2.4m.9 2.4v-8.5m1 8.5v-1m1 1v-5.3m1 5.3v-.5m1 .5v-2.8m2 2.8v-5M205.6 56.8m0 0v-6.2m1 6.2v-6.8m1 6.8v-.9m1 .9v-7.7m1 7.7v-1.2m1 1.2v-2.9m2.9 2.9v-.9m1 .9v-.5m1 .5v-1m1 1v-6.8m1 6.8v-8m2 8v-.8m1 .8v-.7m1 .7v-1m1 1v-2.5m1 2.5v-3.8m1 3.8v-1.3m1 1.3v-3.9m1.9 3.9v-.9m1 .9v-.9m1 .9v-.7m4 .7v-2m1 2v-2.2m1 2.2v-.5m1 .5v-.6m1 .6v-1.2m1 1.2v-1.3m1 1.3v-.8m1 .8v-.6m3.9 .6v-2.3m3 2.3v-.8m1 .8v-.6m2 .6v-.9m2 .9v-1m2 1v-1.8m1 1.8v-.9m.9 .9v-1.5m1 1.5v-3m1 3v-3.1m1 3.1v-4.4m1 4.4v-2m2 2v-2.4m1 2.4v-8.5m1 8.5v-1m1 1v-5.3m1 5.3v-.5m1 .5v-2.8m2 2.8v-5m.9 5v-2.7m1 2.7v-2.2m1 2.2v-2.4m1 2.4v-5.6m1 5.6v-.6m1 .6v-.6m1 .6v-.7m1 .7v-7.4m1 7.4v-1.5m2 1.5v-4.9m1 4.9v-.7m2 .7v-1.4m2.9 1.4v-.8m1 .8v-2.6m1 2.6v-4.3m1 4.3v-5.5m1 5.5v-5.4m1 5.4v-.6m4 .6v-1.3m1 1.3v-1.4m1 1.4v-.6m2.9 .6v-4.9m2 4.9v-1.3m5 1.3v-1.1m1 1.1v-5m1 5v-1m1 1v-1.2m3 1.2v-3m.9 3v-1m1 1v-.5m1 .5v-.8m2 .8v-2.2m1 2.2v-1.3m1 1.3v-1.1m4 1.1v-1m1 1v-3.4m1 3.4v-6.8m1 6.8v-1.5m.9 1.5v-1m1 1v-1m1 1v-4.9m1 4.9v-1m1 1v-3.7m1 3.7v-5.1M205.6 75.4m0 0v-2.7m1 2.7v-2.2m1 2.2v-2.4m1 2.4v-5.6m1 5.6v-.6m1 .6v-.6m1 .6v-.7m1 .7v-7.4m.9 7.4v-1.5m2 1.5v-4.9m1 4.9v-.7m2 .7v-1.4m3 1.4v-.8m1 .8v-2.6m1 2.6v-4.3m1 4.3v-5.5m1 5.5v-5.4m1 5.4v-.6m3.9 .6v-1.3m1 1.3v-1.4m1 1.4v-.6m3 .6v-4.9m2 4.9v-1.3m4.9 1.3v-1.1m1 1.1v-5m1 5v-1m1 1v-1.2m3 1.2v-3m1 3v-1m1 1v-.5m1 .5v-.8m2 .8v-2.2m1 2.2v-1.3m1 1.3v-1.1m3.9 1.1v-1m1 1v-3.4m1 3.4v-6.8m1 6.8v-1.5m1 1.5v-1m1 1v-1m1 1v-4.9m1 4.9v-1m1 1v-3.7m1 3.7v-5.1m1.9 5.1v-5.1m1 5.1v-5m1 5v-1.2m1 1.2v-4.4m1 4.4v-.9m1 .9v-5.6m1 5.6v-6.8m1 6.8v-.7m2 .7v-6.2m1 6.2v-2.5m1 2.5v-3.4m1 3.4v-4.5m1 4.5v-.6m1 .6v-2.4m.9 2.4v-.8m1 .8v-3m1 3v-6.7m1 6.7v-5.1m1 5.1v-3.2m1 3.2v-1.7m2 1.7v-.8m1 .8v-1.1m4 1.1v-.7m1 .7v-.6m.9 .6v-1.5m1 1.5v-.7m1 .7v-1.2m3 1.2v-1.3m2 1.3v-1.7m5 1.7v-5.1m1 5.1v-3m1.9 3v-.8m1 .8v-1.1m4 1.1v-3.6m1 3.6v-1.4m3 1.4v-3.2m1 3.2v-6.7m1 6.7v-2.4m1 2.4v-7.8m1 7.8v-5m.9 5v-1m2 1v-3.6m1 3.6v-1.2m1 1.2v-4.3m1 4.3v-1.3M205.6 94.0m0 0v-5.1m1 5.1v-5m1 5v-1.2m1 1.2v-4.4m1 4.4v-.9m1 .9v-5.6m1 5.6v-6.8m1 6.8v-.7m1.9 .7v-6.2m1 6.2v-2.5m1 2.5v-3.4m1 3.4v-4.5m1 4.5v-.6m1 .6v-2.4m1 2.4v-.8m1 .8v-3m1 3v-6.7m1 6.7v-5.1m1 5.1v-3.2m1 3.2v-1.7m1.9 1.7v-.8m1 .8v-1.1m4 1.1v-.7m1 .7v-.6m1 .6v-1.5m1 1.5v-.7m1 .7v-1.2m3 1.2v-1.3m2 1.3v-1.7m4.9 1.7v-5.1m1 5.1v-3m2 3v-.8m1 .8v-1.1m4 1.1v-3.6m1 3.6v-1.4m2.9 1.4v-3.2m1 3.2v-6.7m1 6.7v-2.4m1 2.4v-7.8m1 7.8v-5m1 5v-1m2 1v-3.6m1 3.6v-1.2m1 1.2v-4.3m1 4.3v-1.3m1.9 1.3v-8.2m1 8.2v-4.5m1 4.5v-1m1 1v-5.2m1 5.2v-.8m1 .8v-4.3m4 4.3v-1.3m1 1.3v-6.2m1 6.2v-7.1m1 7.1v-.7m1 .7v-.7m1 .7v-5.2m1.9 5.2v-1.8m1 1.8v-7.8m2 7.8v-1.2m1 1.2v-1.2m2 1.2v-.8m2 .8v-1m2 1v-.8m1 .8v-1.4m1 1.4v-2.5m.9 2.5v-1.1m2 1.1v-1m2 1v-1.4m2 1.4v-1m1 1v-1.1m1 1.1v-1.1m1 1.1v-1.6m1 1.6v-1.2m1 1.2v-.9m3 .9v-.8m.9 .8v-1.3m1 1.3v-1.3m2 1.3v-1.2m1 1.2v-1.4m1 1.4v-1.6m1 1.6v-1.1m2 1.1v-1.3m1 1.3v-.6m2 .6v-4.8m1 4.8v-.8m1 .8v-6.9m1.9 6.9v-1.4m1 1.4v-7.9m1 7.9v-.5m1 .5v-6.6m1 6.6v-1.9m1 1.9v-5.6M205.6 112.6m0 0v-8.2m1 8.2v-4.5m1 4.5v-1m1 1v-5.2m1 5.2v-.8m1 .8v-4.3m3.9 4.3v-1.3m1 1.3v-6.2m1 6.2v-7.1m1 7.1v-.7m1 .7v-.7m1 .7v-5.2m2 5.2v-1.8m1 1.8v-7.8m2 7.8v-1.2m1 1.2v-1.2m1.9 1.2v-.8m2 .8v-1m2 1v-.8m1 .8v-1.4m1 1.4v-2.5m1 2.5v-1.1m2 1.1v-1m2 1v-1.4m2 1.4v-1m1 1v-1.1m.9 1.1v-1.1m1 1.1v-1.6m1 1.6v-1.2m1 1.2v-.9m3 .9v-.8m1 .8v-1.3m1 1.3v-1.3m2 1.3v-1.2m1 1.2v-1.4m1 1.4v-1.6m1 1.6v-1.1m1.9 1.1v-1.3m1 1.3v-.6m2 .6v-4.8m1 4.8v-.8m1 .8v-6.9m2 6.9v-1.4m1 1.4v-7.9m1 7.9v-.5m1 .5v-6.6m1 6.6v-1.9m1 1.9v-5.6m.9 5.6v-1.1m1 1.1v-6m1 6v-.8m1 .8v-.7m1 .7v-1.1m1 1.1v-6.5m1 6.5v-2.1m1 2.1v-5.7m1 5.7v-7.7m1 7.7v-2.4m1 2.4v-4m1 4v-.6m1 .6v-.8m1 .8v-1.4m2.9 1.4v-5m1 5v-1m1 1v-6.2m1 6.2v-1.1m1 1.1v-4.1m1 4.1v-1.3m1 1.3v-.8m1 .8v-.7m4 .7v-1.3m1 1.3v-3.1m.9 3.1v-1.2m2 1.2v-.6m1 .6v-1.3m2 1.3v-.9m4 .9v-1.4m1 1.4v-1.3m2 1.3v-3.8m1 3.8v-1.1m1.9 1.1v-1.2m3 1.2v-.8m1 .8v-1.4m1 1.4v-1.3m2 1.3v-.8m1 .8v-.9m1 .9v-1.5m1 1.5v-3.6m1 3.6v-4.3m1 4.3v-4.5m1.9 4.5v-4.2m2 4.2v-6.2m2 6.2v-5m1 5v-.8m1 .8v-5M205.6 131.2m0 0v-1.1m1 1.1v-6m1 6v-.8m1 .8v-.7m1 .7v-1.1m1 1.1v-6.5m1 6.5v-2.1m1 2.1v-5.7m.9 5.7v-7.7m1 7.7v-2.4m1 2.4v-4m1 4v-.6m1 .6v-.8m1 .8v-1.4m3 1.4v-5m1 5v-1m1 1v-6.2m1 6.2v-1.1m1 1.1v-4.1m1 4.1v-1.3m.9 1.3v-.8m1 .8v-.7m4 .7v-1.3m1 1.3v-3.1m1 3.1v-1.2m2 1.2v-.6m1 .6v-1.3m2 1.3v-.9m3.9 .9v-1.4m1 1.4v-1.3m2 1.3v-3.8m1 3.8v-1.1m2 1.1v-1.2m3 1.2v-.8m1 .8v-1.4m1 1.4v-1.3m1.9 1.3v-.8m1 .8v-.9m1 .9v-1.5m1 1.5v-3.6m1 3.6v-4.3m1 4.3v-4.5m2 4.5v-4.2m2 4.2v-6.2m2 6.2v-5m1 5v-.8m1 .8v-5m.9 5v-1.2m2 1.2v-6.5m2 6.5v-6.4m1 6.4v-1.1m1 1.1v-5.2m1 5.2v-5.5m1 5.5v-4.4m3 4.4v-.8m1 .8v-7.6m1 7.6v-.7m1 .7v-5.8m.9 5.8v-6.9m1 6.9v-1m1 1v-3.4m1 3.4v-4.5m1 4.5v-1.1m1 1.1v-1m1 1v-3.4m1 3.4v-.6m1 .6v-.9m3 .9v-1.4m2 1.4v-1.4m.9 1.4v-.9m2 .9v-3.9m1 3.9v-3.2m1 3.2v-.5m1 .5v-.6m3 .6v-1.3m1 1.3v-.6m2 .6v-1.1m1 1.1v-.9m2.9 .9v-3.3m1 3.3v-.6m1 .6v-1.2m1 1.2v-1.2m2 1.2v-.5m1 .5v-3.2m1 3.2v-5.8m1 5.8v-1.5m1 1.5v-3.5m1 3.5v-.7m2 .7v-.9m1 .9v-1.6m.9 1.6v-3.7m1 3.7v-3.5m3 3.5v-5.1m2 5.1v-4.8M205.6 149.8m0 0v-1.2m2 1.2v-6.5m2 6.5v-6.4m1 6.4v-1.1m1 1.1v-5.2m1 5.2v-5.5m.9 5.5v-4.4m3 4.4v-.8m1 .8v-7.6m1 7.6v-.7m1 .7v-5.8m1 5.8v-6.9m1 6.9v-1m1 1v-3.4m1 3.4v-4.5m1 4.5v-1.1m1 1.1v-1m1 1v-3.4m.9 3.4v-.6m1 .6v-.9m3 .9v-1.4m2 1.4v-1.4m1 1.4v-.9m2 .9v-3.9m1 3.9v-3.2m1 3.2v-.5m1 .5v-.6m2.9 .6v-1.3m1 1.3v-.6m2 .6v-1.1m1 1.1v-.9m3 .9v-3.3m1 3.3v-.6m1 .6v-1.2m1 1.2v-1.2m2 1.2v-.5m1 .5v-3.2m.9 3.2v-5.8m1 5.8v-1.5m1 1.5v-3.5m1 3.5v-.7m2 .7v-.9m1 .9v-1.6m1 1.6v-3.7m1 3.7v-3.5m3 3.5v-5.1m2 5.1v-4.8m.9 4.8v-1m2 1v-2.4m1 2.4v-3.6m1 3.6v-7.6m3 7.6v-4.8m1 4.8v-6.5m1 6.5v-5.1m1 5.1v-1.9m1 1.9v-4.3m1 4.3v-.9m1 .9v-1.2m1 1.2v-.5m.9 .5v-1.4m1 1.4v-6.4m2 6.4v-1.6m1 1.6v-5.8m1 5.8v-.7m1 .7v-4.4m2 4.4v-.8m4 .8v-.8m2.9 .8v-1.2m1 1.2v-1.4m1 1.4v-.7m2 .7v-1.3m3 1.3v-.8m1 .8v-.9m1 .9v-1.2m1 1.2v-.7m1 .7v-1.3m2 1.3v-1.3m.9 1.3v-.9m1 .9v-3.6m1 3.6v-.7m1 .7v-1m1 1v-1.4m3 1.4v-.9m5 .9v-2.7m1 2.7v-2.5m.9 2.5v-5.3m1 5.3v-2.2m1 2.2v-1m1 1v-.7m2 .7v-4m1 4v-1.5M205.6 168.4m0 0v-1m2 1v-2.4m1 2.4v-3.6m1 3.6v-7.6m3 7.6v-4.8m.9 4.8v-6.5m1 6.5v-5.1m1 5.1v-1.9m1 1.9v-4.3m1 4.3v-.9m1 .9v-1.2m1 1.2v-.5m1 .5v-1.4m1 1.4v-6.4m2 6.4v-1.6m1 1.6v-5.8m1 5.8v-.7m1 .7v-4.4m1.9 4.4v-.8m4 .8v-.8m3 .8v-1.2m1 1.2v-1.4m1 1.4v-.7m2 .7v-1.3m2.9 1.3v-.8m1 .8v-.9m1 .9v-1.2m1 1.2v-.7m1 .7v-1.3m2 1.3v-1.3m1 1.3v-.9m1 .9v-3.6m1 3.6v-.7m1 .7v-1m1 1v-1.4m2.9 1.4v-.9m5 .9v-2.7m1 2.7v-2.5m1 2.5v-5.3m1 5.3v-2.2m1 2.2v-1m1 1v-.7m2 .7v-4m1 4v-1.5m.9 1.5v-5.3m1 5.3v-.9m1 .9v-4m1 4v-1.4m2 1.4v-2.3m1 2.3v-4.8m1 4.8v-5.8m1 5.8v-5.6m1 5.6v-5.4m1 5.4v-1.1m1 1.1v-4.6m2 4.6v-1.1m1 1.1v-1m.9 1v-4.4m1 4.4v-3.9m1 3.9v-4.6m6 4.6v-.7m1 .7v-.8m2 .8v-1.1m2.9 1.1v-1.3m1 1.3v-.9m4 .9v-.7m1 .7v-3.2m1 3.2v-3.5m1 3.5v-3.1m1 3.1v-1m3 1v-1.3m2.9 1.3v-1.1m2 1.1v-1.1m1 1.1v-1.2m1 1.2v-3.1m2 3.1v-2.3m1 2.3v-5.3m1 5.3v-1m1 1v-.5m2 .5v-3m1 3v-4.7m1 4.7v-.7m.9 .7v-1.1m3 1.1v-2.1m1 2.1v-5.1M205.6 187.0m0 0v-5.3m1 5.3v-.9m1 .9v-4m1 4v-1.4m2 1.4v-2.3m1 2.3v-4.8m1 4.8v-5.8m.9 5.8v-5.6m1 5.6v-5.4m1 5.4v-1.1m1 1.1v-4.6m2 4.6v-1.1m1 1.1v-1m1 1v-4.4m1 4.4v-3.9m1 3.9v-4.6m5.9 4.6v-.7m1 .7v-.8m2 .8v-1.1m3 1.1v-1.3m1 1.3v-.9m4 .9v-.7m1 .7v-3.2m1 3.2v-3.5m.9 3.5v-3.1m1 3.1v-1m3 1v-1.3m3 1.3v-1.1m2 1.1v-1.1m1 1.1v-1.2m1 1.2v-3.1m2 3.1v-2.3m.9 2.3v-5.3m1 5.3v-1m1 1v-.5m2 .5v-3m1 3v-4.7m1 4.7v-.7m1 .7v-1.1m3 1.1v-2.1m1 2.1v-5.1m2.9 5.1v-5.1m1 5.1v-7.6m1 7.6v-2.9m2 2.9v-5.9m1 5.9v-1.4m1 1.4v-2.8m1 2.8v-.9m1 .9v-4.7m2 4.7v-1.4m1 1.4v-4.6m1 4.6v-.6m1 .6v-4.5m1 4.5v-1.3m2.9 1.3v-6m1 6v-.6m1 .6v-3.5m1 3.5v-6.3m1 6.3v-.7m3 .7v-.7m2 .7v-.6m2.9 .6v-1.1m2 1.1v-1.1m1 1.1v-2.2m1 2.2v-3.2m1 3.2v-1m5 1v-.6m1 .6v-.9m1 .9v-2m1 2v-2.2m1 2.2v-.7m.9 .7v-1m1 1v-1.3m3 1.3v-5.1m1 5.1v-2.7m2 2.7v-1.3m2 1.3v-1.4m2 1.4v-.8m1 .8v-1m1.9 1v-1.2m1 1.2v-1.1m1 1.1v-2.6m1 2.6v-3.5m1 3.5v-3.7m1 3.7v-5.4m1 5.4v-4M205.6 205.6m0 0v-5.1m1 5.1v-7.6m1 7.6v-2.9m2 2.9v-5.9m1 5.9v-1.4m1 1.4v-2.8m1 2.8v-.9m.9 .9v-4.7m2 4.7v-1.4m1 1.4v-4.6m1 4.6v-.6m1 .6v-4.5m1 4.5v-1.3m3 1.3v-6m1 6v-.6m1 .6v-3.5m1 3.5v-6.3m1 6.3v-.7m2.9 .7v-.7m2 .7v-.6m3 .6v-1.1m2 1.1v-1.1m1 1.1v-2.2m1 2.2v-3.2m1 3.2v-1m4.9 1v-.6m1 .6v-.9m1 .9v-2m1 2v-2.2m1 2.2v-.7m1 .7v-1m1 1v-1.3m3 1.3v-5.1m1 5.1v-2.7m1.9 2.7v-1.3m2 1.3v-1.4m2 1.4v-.8m1 .8v-1m2 1v-1.2m1 1.2v-1.1m1 1.1v-2.6m1 2.6v-3.5m1 3.5v-3.7m1 3.7v-5.4m1 5.4v-4m1.9 4v-.6m1 .6v-4.5m1 4.5v-.9m1 .9v-1.4m1 1.4v-.6m2 .6v-4.4m1 4.4v-4.7m1 4.7v-6m1 6v-.5m1 .5v-5m1 5v-3.9m1 3.9v-1.9m1 1.9v-1.3m.9 1.3v-1.7m1 1.7v-4.6m1 4.6v-1.2m1 1.2v-5.3m1 5.3v-4.7m2 4.7v-1.1m4 1.1v-1m1 1v-1.5m2 1.5v-.7m.9 .7v-.8m3 .8v-2m1 2v-.5m1 .5v-2.1m1 2.1v-.6m4 .6v-.6m2 .6v-4.8m1 4.8v-4.5m1 4.5v-1.1m.9 1.1v-1m5 1v-1m2 1v-1.2m2 1.2v-1.1m1 1.1v-.8m1 .8v-.7m2 .7v-5.9m1.9 5.9v-6.7m1 6.7v-.9m2 .9v-1.6m1 1.6v-4.7m1 4.7v-.6M205.6 224.2m1 0v-.6m1 .6v-4.5m1 4.5v-.9m1 .9v-1.4m1 1.4v-.6m2 .6v-4.4m.9 4.4v-4.7m1 4.7v-6m1 6v-.5m1 .5v-5m1 5v-3.9m1 3.9v-1.9m1 1.9v-1.3m1 1.3v-1.7m1 1.7v-4.6m1 4.6v-1.2m1 1.2v-5.3m1 5.3v-4.7m2 4.7v-1.1m3.9 1.1v-1m1 1v-1.5m2 1.5v-.7m1 .7v-.8m3 .8v-2m1 2v-.5m1 .5v-2.1m1 2.1v-.6m3.9 .6v-.6m2 .6v-4.8m1 4.8v-4.5m1 4.5v-1.1m1 1.1v-1m5 1v-1m1.9 1v-1.2m2 1.2v-1.1m1 1.1v-.8m1 .8v-.7m2 .7v-5.9m2 5.9v-6.7m1 6.7v-.9m2 .9v-1.6m1 1.6v-4.7m1 4.7v-.6m.9 .6v-3m1 3v-4.8m1 4.8v-4.9m1 4.9v-1.2m3 1.2v-2.1m1 2.1v-6m1 6v-4.6m1 4.6v-3.4m1 3.4v-4.3m1 4.3v-1.2m1 1.2v-4.4m1 4.4v-1.1m1 1.1v-9.7m.9 9.7v-3.7m1 3.7v-5.4m1 5.4v-6.8m1 6.8v-.6m1 .6v-5.2m1 5.2v-5.4m3 5.4v-.7m1 .7v-1.3m2 1.3v-1.3m1 1.3v-1.3m1 1.3v-3.2m.9 3.2v-.9m1 .9v-.8m2 .8v-.6m1 .6v-1.2m2 1.2v-1.4m1 1.4v-1.3m1 1.3v-.9m1 .9v-.9m2 .9v-4.1m1 4.1v-2.3m3.9 2.3v-.8m1 .8v-.6m1 .6v-.8m1 .8v-2.1m1 2.1v-.7m1 .7v-1.3m1 1.3v-1.5m1 1.5v-6.6m1 6.6v-8m1 8v-1.5m1 1.5v-8.7m2.9 8.7v-3.9m2 3.9v-1.8m2 1.8v-4.2m1 4.2v-2.9m1 2.9v-1" stroke="#000" stroke-width="1.15" fill="none"/><line x1="204.50" y1="38.50" x2="334.80" y2="38.50" stroke="#000" stroke-width="1.2" /><line x1="202.30" y1="28.30" x2="204.50" y2="28.30" stroke="#000" stroke-width="0.9" /><line x1="204.50" y1="57.10" x2="334.80" y2="57.10" stroke="#000" stroke-width="1.2" /><line x1="202.30" y1="47.09" x2="204.50" y2="47.09" stroke="#000" stroke-width="0.9" /><line x1="204.50" y1="75.70" x2="334.80" y2="75.70" stroke="#000" stroke-width="1.2" /><line x1="202.30" y1="65.88" x2="204.50" y2="65.88" stroke="#000" stroke-width="0.9" /><line x1="204.50" y1="94.30" x2="334.80" y2="94.30" stroke="#000" stroke-width="1.2" /><line x1="202.30" y1="84.67" x2="204.50" y2="84.67" stroke="#000" stroke-width="0.9" /><line x1="204.50" y1="112.90" x2="334.80" y2="112.90" stroke="#000" stroke-width="1.2" /><line x1="202.30" y1="103.46" x2="204.50" y2="103.46" stroke="#000" stroke-width="0.9" /><line x1="204.50" y1="131.50" x2="334.80" y2="131.50" stroke="#000" stroke-width="1.2" /><line x1="202.30" y1="122.25" x2="204.50" y2="122.25" stroke="#000" stroke-width="0.9" /><line x1="204.50" y1="150.10" x2="334.80" y2="150.10" stroke="#000" stroke-width="1.2" /><line x1="202.30" y1="141.04" x2="204.50" y2="141.04" stroke="#000" stroke-width="0.9" /><line x1="204.50" y1="168.70" x2="334.80" y2="168.70" stroke="#000" stroke-width="1.2" /><line x1="202.30" y1="159.83" x2="204.50" y2="159.83" stroke="#000" stroke-width="0.9" /><line x1="204.50" y1="187.30" x2="334.80" y2="187.30" stroke="#000" stroke-width="1.2" /><line x1="202.30" y1="178.62" x2="204.50" y2="178.62" stroke="#000" stroke-width="0.9" /><line x1="204.50" y1="205.90" x2="334.80" y2="205.90" stroke="#000" stroke-width="1.2" /><line x1="202.30" y1="197.41" x2="204.50" y2="197.41" stroke="#000" stroke-width="0.9" /><line x1="204.50" y1="224.50" x2="334.80" y2="224.50" stroke="#000" stroke-width="1.2" /><line x1="202.30" y1="216.20" x2="204.50" y2="216.20" stroke="#000" stroke-width="0.9" /><line x1="204.50" y1="16.30" x2="204.50" y2="225.00" stroke="#000" stroke-width="1.2" /><line x1="334.80" y1="16.30" x2="334.80" y2="225.00" stroke="#000" stroke-width="1.2" /><line x1="220.79" y1="224.40" x2="220.79" y2="226.30" stroke="#000" stroke-width="1.3" /><text transform="translate(220.79,236.2) scale(1.12,1)" font-size="10.3" text-anchor="middle">0</text><line x1="253.36" y1="224.40" x2="253.36" y2="226.30" stroke="#000" stroke-width="1.3" /><text transform="translate(253.36,236.2) scale(1.12,1)" font-size="10.3" text-anchor="middle">12</text><line x1="285.94" y1="224.40" x2="285.94" y2="226.30" stroke="#000" stroke-width="1.3" /><text transform="translate(285.94,236.2) scale(1.12,1)" font-size="10.3" text-anchor="middle">0</text><line x1="318.51" y1="224.40" x2="318.51" y2="226.30" stroke="#000" stroke-width="1.3" /><text transform="translate(318.51,236.2) scale(1.12,1)" font-size="10.3" text-anchor="middle">12</text><text transform="translate(269.95,244.8) scale(1.17,1)" font-size="10.3" text-anchor="middle">Time (CT)</text><line x1="255.20" y1="29.40" x2="255.00" y2="214.40" stroke="#e62e2a" stroke-width="2.1" /><circle cx="255.20" cy="29.40" r="1.9" fill="#e62e2a"/><circle cx="251.58" cy="48.00" r="1.9" fill="#e62e2a"/><circle cx="255.16" cy="66.60" r="1.9" fill="#e62e2a"/><circle cx="255.14" cy="85.20" r="1.9" fill="#e62e2a"/><circle cx="256.62" cy="103.80" r="1.9" fill="#e62e2a"/><circle cx="255.10" cy="122.40" r="1.9" fill="#e62e2a"/><circle cx="255.58" cy="141.00" r="1.9" fill="#e62e2a"/><circle cx="255.56" cy="159.60" r="1.9" fill="#e62e2a"/><circle cx="256.04" cy="178.20" r="1.9" fill="#e62e2a"/><circle cx="256.02" cy="196.80" r="1.9" fill="#e62e2a"/><circle cx="252.00" cy="215.40" r="1.9" fill="#e62e2a"/><text transform="translate(419.55,13.4) scale(1.1,1)" font-size="15.6" font-weight="bold" text-anchor="middle">ex-GF</text><rect x="356.20" y="16.30" width="131.50" height="4.70" fill="#000" /><path d="M357.9 38.2m0 0v-.9m1 .9v-4.7m1 4.7v-3.2m1 3.2v-9.3m1 9.3v-3m1 3v-11.6m1 11.6v-3.9m1 3.9v-13.2m.9 13.2v-11.5m1 11.5v-1.3m3 1.3v-10.9m1 10.9v-12.1m1 12.1v-11.9m1 11.9v-15.4m1 15.4v-11.7m1 11.7v-2.9m1 2.9v-10.9m1 10.9v-1.2m1 1.2v-.9m1 .9v-10.2m.9 10.2v-5.4m2 5.4v-.9m1 .9v-9.4m1 9.4v-4.5m1 4.5v-2m3 2v-2.8m1 2.8v-6.8m1 6.8v-1m1 1v-.7m3 .7v-.5m.9 .5v-.9m2 .9v-1.2m2 1.2v-2.6m3 2.6v-6.6m1 6.6v-1.5m1 1.5v-1.2m1 1.2v-1.1m2 1.1v-9.3m1 9.3v-9.1m7.9 9.1v-1.2m1 1.2v-4.5m1 4.5v-.9m1 .9v-4.9m1 4.9v-13.6m1 13.6v-1.4m1 1.4v-5.6m1 5.6v-11.3m.9 11.3v-12m1 12v-10.1m1 10.1v-4.1m1 4.1v-13.9m1 13.9v-14.1m1 14.1v-9.6m1 9.6v-3.8m1 3.8v-12.7m1 12.7v-5.9m1 5.9v-13.8m1 13.8v-9.5m1 9.5v-1.8m1 1.8v-13.3m1 13.3v-4.1m1.9 4.1v-.8m1 .8v-13.7m1 13.7v-3m1 3v-4.2m1 4.2v-12.4m1 12.4v-2m1 2v-4.2m1 4.2v-9.6m1 9.6v-10.3m1 10.3v-1.1m3 1.1v-7.6m.9 7.6v-.9m1 .9v-.6m1 .6v-.6m1 .6v-2.4m1 2.4v-12m2 12v-1m3 1v-.6m3 .6v-1.1m1 1.1v-2.7m1 2.7v-.7m.9 .7v-1.1m1 1.1v-7.3m1 7.3v-1.9m2 1.9v-1.3m1 1.3v-1m3 1v-1.1m1 1.1v-1.5m1 1.5v-1.6m2 1.6v-14.8m1 14.8v-11.2m.9 11.2v-13.8m1 13.8v-2.2m1 2.2v-13.2m1 13.2v-9.1m1 9.1v-1.9m1 1.9v-13.5m1 13.5v-9.3M357.9 56.8m0 0v-11.3m1 11.3v-12m1 12v-10.1m1 10.1v-4.1m1 4.1v-13.9m1 13.9v-14.1m1 14.1v-9.6m1 9.6v-3.8m.9 3.8v-12.7m1 12.7v-5.9m1 5.9v-13.8m1 13.8v-9.5m1 9.5v-1.8m1 1.8v-13.3m1 13.3v-4.1m2 4.1v-.8m1 .8v-13.7m1 13.7v-3m1 3v-4.2m1 4.2v-12.4m1 12.4v-2m.9 2v-4.2m1 4.2v-9.6m1 9.6v-10.3m1 10.3v-1.1m3 1.1v-7.6m1 7.6v-.9m1 .9v-.6m1 .6v-.6m1 .6v-2.4m1 2.4v-12m2 12v-1m2.9 1v-.6m3 .6v-1.1m1 1.1v-2.7m1 2.7v-.7m1 .7v-1.1m1 1.1v-7.3m1 7.3v-1.9m2 1.9v-1.3m1 1.3v-1m2.9 1v-1.1m1 1.1v-1.5m1 1.5v-1.6m2 1.6v-14.8m1 14.8v-11.2m1 11.2v-13.8m1 13.8v-2.2m1 2.2v-13.2m1 13.2v-9.1m1 9.1v-1.9m1 1.9v-13.5m1 13.5v-9.3m1 9.3v-3.7m.9 3.7v-13m1 13v-13m1 13v-.7m1 .7v-14.1m1 14.1v-1.4m1 1.4v-7.2m1 7.2v-2.3m1 2.3v-13m1 13v-1.5m1 1.5v-4.5m1 4.5v-14.6m1 14.6v-2.6m1 2.6v-14.6m1 14.6v-1.3m1.9 1.3v-16.1m1 16.1v-8.2m1 8.2v-10.9m1 10.9v-3.5m1 3.5v-16.2m1 16.2v-2.5m1 2.5v-5.7m2 5.7v-1.6m1 1.6v-2m1 2v-1m1 1v-1.9m1 1.9v-1.3m.9 1.3v-.8m1 .8v-1.9m1 1.9v-6.4m1 6.4v-1.1m2 1.1v-7.9m3 7.9v-.9m1 .9v-3.2m1 3.2v-2.8m1 2.8v-2m1 2v-.6m3.9 .6v-1.8m1 1.8v-.7m1 .7v-2m1 2v-7.1m3 7.1v-1.6m1 1.6v-2m2 2v-1.6m1 1.6v-.5m2 .5v-8.2m.9 8.2v-8m1 8v-11.6m1 11.6v-10.8m1 10.8v-4.3m1 4.3v-14.7m1 14.7v-5.4m1 5.4v-13M357.9 75.4m0 0v-3.7m1 3.7v-13m1 13v-13m1 13v-.7m1 .7v-14.1m1 14.1v-1.4m1 1.4v-7.2m1 7.2v-2.3m.9 2.3v-13m1 13v-1.5m1 1.5v-4.5m1 4.5v-14.6m1 14.6v-2.6m1 2.6v-14.6m1 14.6v-1.3m2 1.3v-16.1m1 16.1v-8.2m1 8.2v-10.9m1 10.9v-3.5m1 3.5v-16.2m1 16.2v-2.5m.9 2.5v-5.7m2 5.7v-1.6m1 1.6v-2m1 2v-1m1 1v-1.9m1 1.9v-1.3m1 1.3v-.8m1 .8v-1.9m1 1.9v-6.4m1 6.4v-1.1m2 1.1v-7.9m2.9 7.9v-.9m1 .9v-3.2m1 3.2v-2.8m1 2.8v-2m1 2v-.6m4 .6v-1.8m1 1.8v-.7m1 .7v-2m1 2v-7.1m2.9 7.1v-1.6m1 1.6v-2m2 2v-1.6m1 1.6v-.5m2 .5v-8.2m1 8.2v-8m1 8v-11.6m1 11.6v-10.8m1 10.8v-4.3m1 4.3v-14.7m1 14.7v-5.4m1 5.4v-13m1.9 13v-9.8m1 9.8v-6.5m1 6.5v-11m1 11v-5.1m1 5.1v-10.2m1 10.2v-2.6m1 2.6v-14.8m1 14.8v-5.6m1 5.6v-14.9m1 14.9v-4.9m1 4.9v-14.8m1 14.8v-4.5m1 4.5v-4.4m1.9 4.4v-11.1m1 11.1v-9.4m1 9.4v-8.3m1 8.3v-3.9m1 3.9v-9.2m1 9.2v-8.2m1 8.2v-10m1 10v-11.6m1 11.6v-1.4m1 1.4v-.5m2 .5v-1.9m1 1.9v-1.4m1 1.4v-.7m.9 .7v-7.4m1 7.4v-1.2m2 1.2v-.8m1 .8v-1.9m3 1.9v-.9m2 .9v-1.2m1 1.2v-13.3m1 13.3v-11.5m2 11.5v-1.9m1 1.9v-1.7m.9 1.7v-1.1m1 1.1v-9.7m1 9.7v-1.1m1 1.1v-1.2m4 1.2v-7.3m1 7.3v-12.5m1 12.5v-10.5m1 10.5v-1.7m1 1.7v-10.6m1 10.6v-.6m1 .6v-12.6m.9 12.6v-.7m1 .7v-10.1m1 10.1v-10.9m1 10.9v-1.7m1 1.7v-8.3m1 8.3v-.7m1 .7v-10.6M357.9 94.0m1 0v-9.8m1 9.8v-6.5m1 6.5v-11m1 11v-5.1m1 5.1v-10.2m1 10.2v-2.6m1 2.6v-14.8m.9 14.8v-5.6m1 5.6v-14.9m1 14.9v-4.9m1 4.9v-14.8m1 14.8v-4.5m1 4.5v-4.4m2 4.4v-11.1m1 11.1v-9.4m1 9.4v-8.3m1 8.3v-3.9m1 3.9v-9.2m1 9.2v-8.2m1 8.2v-10m.9 10v-11.6m1 11.6v-1.4m1 1.4v-.5m2 .5v-1.9m1 1.9v-1.4m1 1.4v-.7m1 .7v-7.4m1 7.4v-1.2m2 1.2v-.8m1 .8v-1.9m3 1.9v-.9m1.9 .9v-1.2m1 1.2v-13.3m1 13.3v-11.5m2 11.5v-1.9m1 1.9v-1.7m1 1.7v-1.1m1 1.1v-9.7m1 9.7v-1.1m1 1.1v-1.2m3.9 1.2v-7.3m1 7.3v-12.5m1 12.5v-10.5m1 10.5v-1.7m1 1.7v-10.6m1 10.6v-.6m1 .6v-12.6m1 12.6v-.7m1 .7v-10.1m1 10.1v-10.9m1 10.9v-1.7m1 1.7v-8.3m1 8.3v-.7m1 .7v-10.6m1 10.6v-1.4m.9 1.4v-1.3m1 1.3v-1.2m1 1.2v-10.6m1 10.6v-8.6m1 8.6v-11.1m1 11.1v-2.1m1 2.1v-11.5m1 11.5v-2.9m1 2.9v-9.6m1 9.6v-1.8m1 1.8v-13m1 13v-2.3m1 2.3v-8.8m1 8.8v-2.3m.9 2.3v-1.3m1 1.3v-13.4m1 13.4v-.6m1 .6v-14.6m1 14.6v-6.5m1 6.5v-10.4m1 10.4v-2.7m1 2.7v-14.3m1 14.3v-4.8m2 4.8v-.6m1 .6v-1.1m1 1.1v-9.7m1 9.7v-1.4m2.9 1.4v-2m1 2v-10.5m1 10.5v-1.4m1 1.4v-2m1 2v-6.2m1 6.2v-8.4m1 8.4v-5.1m1 5.1v-.6m2 .6v-1.9m1 1.9v-.6m1 .6v-1.5m1 1.5v-1.2m.9 1.2v-6.3m1 6.3v-7m1 7v-4.7m2 4.7v-1.7m1 1.7v-1.9m5 1.9v-6.6m1 6.6v-15.2m1 15.2v-1.6m1 1.6v-15.1m.9 15.1v-1.8m1 1.8v-.6m1 .6v-10m1 10v-5.3m1 5.3v-13.3m1 13.3v-5.2m1 5.2v-15.1M357.9 112.6m0 0v-1.4m1 1.4v-1.3m1 1.3v-1.2m1 1.2v-10.6m1 10.6v-8.6m1 8.6v-11.1m1 11.1v-2.1m1 2.1v-11.5m.9 11.5v-2.9m1 2.9v-9.6m1 9.6v-1.8m1 1.8v-13m1 13v-2.3m1 2.3v-8.8m1 8.8v-2.3m1 2.3v-1.3m1 1.3v-13.4m1 13.4v-.6m1 .6v-14.6m1 14.6v-6.5m1 6.5v-10.4m1 10.4v-2.7m.9 2.7v-14.3m1 14.3v-4.8m2 4.8v-.6m1 .6v-1.1m1 1.1v-9.7m1 9.7v-1.4m3 1.4v-2m1 2v-10.5m1 10.5v-1.4m1 1.4v-2m1 2v-6.2m1 6.2v-8.4m.9 8.4v-5.1m1 5.1v-.6m2 .6v-1.9m1 1.9v-.6m1 .6v-1.5m1 1.5v-1.2m1 1.2v-6.3m1 6.3v-7m1 7v-4.7m2 4.7v-1.7m1 1.7v-1.9m4.9 1.9v-6.6m1 6.6v-15.2m1 15.2v-1.6m1 1.6v-15.1m1 15.1v-1.8m1 1.8v-.6m1 .6v-10m1 10v-5.3m1 5.3v-13.3m1 13.3v-5.2m1 5.2v-15.1m1 15.1v-1.4m.9 1.4v-14.5m1 14.5v-.6m1 .6v-13.8m1 13.8v-12.5m1 12.5v-11.6m1 11.6v-6.4m1 6.4v-12.9m1 12.9v-10.7m1 10.7v-3m1 3v-13.8m1 13.8v-4.7m1 4.7v-1.8m1 1.8v-9.3m1 9.3v-.8m.9 .8v-10.6m1 10.6v-13.1m1 13.1v-4.6m1 4.6v-15.8m1 15.8v-13.1m1 13.1v-3m1 3v-8.2m1 8.2v-14.2m1 14.2v-15.8m1 15.8v-14.1m1 14.1v-1.4m1 1.4v-.8m1 .8v-2.1m1 2.1v-2.4m.9 2.4v-.9m1 .9v-1.8m3 1.8v-1.5m5 1.5v-1.8m1 1.8v-6.2m2 6.2v-.6m2.9 .6v-6.6m1 6.6v-1.9m1 1.9v-9.7m2 9.7v-1m1 1v-1.4m1 1.4v-8m1 8v-11.1m1 11.1v-8.5m1 8.5v-11.2m1 11.2v-.9m1 .9v-6m2 6v-14.4m.9 14.4v-13.7m1 13.7v-3m2 3v-12.4m1 12.4v-1.2m1 1.2v-5.3m1 5.3v-1.7M357.9 131.2m0 0v-1.4m1 1.4v-14.5m1 14.5v-.6m1 .6v-13.8m1 13.8v-12.5m1 12.5v-11.6m1 11.6v-6.4m1 6.4v-12.9m.9 12.9v-10.7m1 10.7v-3m1 3v-13.8m1 13.8v-4.7m1 4.7v-1.8m1 1.8v-9.3m1 9.3v-.8m1 .8v-10.6m1 10.6v-13.1m1 13.1v-4.6m1 4.6v-15.8m1 15.8v-13.1m1 13.1v-3m1 3v-8.2m.9 8.2v-14.2m1 14.2v-15.8m1 15.8v-14.1m1 14.1v-1.4m1 1.4v-.8m1 .8v-2.1m1 2.1v-2.4m1 2.4v-.9m1 .9v-1.8m3 1.8v-1.5m4.9 1.5v-1.8m1 1.8v-6.2m2 6.2v-.6m3 .6v-6.6m1 6.6v-1.9m1 1.9v-9.7m2 9.7v-1m1 1v-1.4m1 1.4v-8m.9 8v-11.1m1 11.1v-8.5m1 8.5v-11.2m1 11.2v-.9m1 .9v-6m2 6v-14.4m1 14.4v-13.7m1 13.7v-3m2 3v-12.4m1 12.4v-1.2m1 1.2v-5.3m1 5.3v-1.7m1 1.7v-16.4m.9 16.4v-1m1 1v-12.5m1 12.5v-.9m1 .9v-10m1 10v-2.3m1 2.3v-5.2m1 5.2v-12.4m1 12.4v-12m1 12v-11.7m1 11.7v-1.8m1 1.8v-12.8m1 12.8v-10.7m1 10.7v-6.6m1 6.6v-12.3m.9 12.3v-3.1m1 3.1v-10.9m1 10.9v-1.4m1 1.4v-8.8m1 8.8v-8.8m1 8.8v-1.4m1 1.4v-10.3m1 10.3v-10.1m1 10.1v-.9m1 .9v-14.8m1 14.8v-3.2m1 3.2v-1.7m1 1.7v-.7m1.9 .7v-.6m2 .6v-7.9m1 7.9v-5.4m2 5.4v-1.3m2 1.3v-1.9m2 1.9v-.9m2 .9v-.8m1 .8v-1.6m1 1.6v-1.9m1.9 1.9v-10.5m4 10.5v-.9m2 .9v-.6m1 .6v-4.2m1 4.2v-10.3m1 10.3v-1.7m1 1.7v-8.5m1 8.5v-.5m1 .5v-3.1m1 3.1v-3.3m.9 3.3v-9.3m1 9.3v-1.4m1 1.4v-1.1m1 1.1v-1.7m1 1.7v-14.4m1 14.4v-2.7m1 2.7v-13.1M357.9 149.8m0 0v-16.4m1 16.4v-1m1 1v-12.5m1 12.5v-.9m1 .9v-10m1 10v-2.3m1 2.3v-5.2m1 5.2v-12.4m.9 12.4v-12m1 12v-11.7m1 11.7v-1.8m1 1.8v-12.8m1 12.8v-10.7m1 10.7v-6.6m1 6.6v-12.3m1 12.3v-3.1m1 3.1v-10.9m1 10.9v-1.4m1 1.4v-8.8m1 8.8v-8.8m1 8.8v-1.4m1 1.4v-10.3m.9 10.3v-10.1m1 10.1v-.9m1 .9v-14.8m1 14.8v-3.2m1 3.2v-1.7m1 1.7v-.7m2 .7v-.6m2 .6v-7.9m1 7.9v-5.4m2 5.4v-1.3m2 1.3v-1.9m1.9 1.9v-.9m2 .9v-.8m1 .8v-1.6m1 1.6v-1.9m2 1.9v-10.5m4 10.5v-.9m2 .9v-.6m.9 .6v-4.2m1 4.2v-10.3m1 10.3v-1.7m1 1.7v-8.5m1 8.5v-.5m1 .5v-3.1m1 3.1v-3.3m1 3.3v-9.3m1 9.3v-1.4m1 1.4v-1.1m1 1.1v-1.7m1 1.7v-14.4m1 14.4v-2.7m1 2.7v-13.1m1 13.1v-1.8m1.9 1.8v-13.1m1 13.1v-1.1m1 1.1v-12.6m1 12.6v-2m1 2v-9m1 9v-3.5m1 3.5v-5.3m1 5.3v-12.5m1 12.5v-.8m1 .8v-1.6m1 1.6v-1m1 1v-2.5m1 2.5v-14.1m.9 14.1v-2.3m1 2.3v-15.4m1 15.4v-7.6m1 7.6v-12.2m1 12.2v-7m1 7v-1.7m1 1.7v-11.1m1 11.1v-14.5m1 14.5v-1m1 1v-11.3m1 11.3v-2.2m1 2.2v-5.3m1 5.3v-2.7m1 2.7v-11m.9 11v-1.3m4 1.3v-1m3 1v-.6m1 .6v-1.2m1 1.2v-3.7m1 3.7v-3.2m1 3.2v-1m1 1v-.9m1 .9v-.5m1 .5v-5.8m.9 5.8v-6.8m6 6.8v-1.4m1 1.4v-1.6m1 1.6v-7.2m1 7.2v-2.9m1 2.9v-15m1 15v-9.9m1 9.9v-2.7m1 2.7v-11.2m.9 11.2v-10.4m1 10.4v-2.9m1 2.9v-1.9m1 1.9v-1.2m1 1.2v-13.2m1 13.2v-13.7m1 13.7v-2.4M357.9 168.4m0 0v-1.8m2 1.8v-13.1m1 13.1v-1.1m1 1.1v-12.6m1 12.6v-2m1 2v-9m1 9v-3.5m.9 3.5v-5.3m1 5.3v-12.5m1 12.5v-.8m1 .8v-1.6m1 1.6v-1m1 1v-2.5m1 2.5v-14.1m1 14.1v-2.3m1 2.3v-15.4m1 15.4v-7.6m1 7.6v-12.2m1 12.2v-7m1 7v-1.7m1 1.7v-11.1m.9 11.1v-14.5m1 14.5v-1m1 1v-11.3m1 11.3v-2.2m1 2.2v-5.3m1 5.3v-2.7m1 2.7v-11m1 11v-1.3m4 1.3v-1m3 1v-.6m.9 .6v-1.2m1 1.2v-3.7m1 3.7v-3.2m1 3.2v-1m1 1v-.9m1 .9v-.5m1 .5v-5.8m1 5.8v-6.8m6 6.8v-1.4m.9 1.4v-1.6m1 1.6v-7.2m1 7.2v-2.9m1 2.9v-15m1 15v-9.9m1 9.9v-2.7m1 2.7v-11.2m1 11.2v-10.4m1 10.4v-2.9m1 2.9v-1.9m1 1.9v-1.2m1 1.2v-13.2m1 13.2v-13.7m1 13.7v-2.4m1 2.4v-4.9m.9 4.9v-11.2m1 11.2v-8.9m1 8.9v-6.3m1 6.3v-10.3m1 10.3v-5.2m1 5.2v-9.6m1 9.6v-10.2m1 10.2v-10m1 10v-3.8m1 3.8v-12.5m1 12.5v-2m1 2v-.6m1 .6v-10.3m1 10.3v-2.1m.9 2.1v-9.4m1 9.4v-12m1 12v-4.9m1 4.9v-10.5m1 10.5v-2.8m1 2.8v-11.7m1 11.7v-14.6m1 14.6v-.9m2 .9v-12m1 12v-9.1m2 9.1v-.9m1.9 .9v-.7m1 .7v-1.5m2 1.5v-1m2 1v-1.9m1 1.9v-1.6m1 1.6v-1.2m2 1.2v-5.5m1 5.5v-3.6m1 3.6v-4.3m1 4.3v-1.5m1 1.5v-.6m1 .6v-1.9m.9 1.9v-1.5m1 1.5v-2.8m1 2.8v-1.7m2 1.7v-5.7m2 5.7v-1.6m3 1.6v-1.4m1 1.4v-1.2m3 1.2v-1.7m.9 1.7v-8.7m1 8.7v-7.3m1 7.3v-8.8m1 8.8v-2.7m1 2.7v-10.8m1 10.8v-1.6m1 1.6v-10.9M357.9 187.0m0 0v-4.9m1 4.9v-11.2m1 11.2v-8.9m1 8.9v-6.3m1 6.3v-10.3m1 10.3v-5.2m1 5.2v-9.6m1 9.6v-10.2m.9 10.2v-10m1 10v-3.8m1 3.8v-12.5m1 12.5v-2m1 2v-.6m1 .6v-10.3m1 10.3v-2.1m1 2.1v-9.4m1 9.4v-12m1 12v-4.9m1 4.9v-10.5m1 10.5v-2.8m1 2.8v-11.7m1 11.7v-14.6m.9 14.6v-.9m2 .9v-12m1 12v-9.1m2 9.1v-.9m2 .9v-.7m1 .7v-1.5m2 1.5v-1m2 1v-1.9m1 1.9v-1.6m1 1.6v-1.2m1.9 1.2v-5.5m1 5.5v-3.6m1 3.6v-4.3m1 4.3v-1.5m1 1.5v-.6m1 .6v-1.9m1 1.9v-1.5m1 1.5v-2.8m1 2.8v-1.7m2 1.7v-5.7m2 5.7v-1.6m2.9 1.6v-1.4m1 1.4v-1.2m3 1.2v-1.7m1 1.7v-8.7m1 8.7v-7.3m1 7.3v-8.8m1 8.8v-2.7m1 2.7v-10.8m1 10.8v-1.6m1 1.6v-10.9m1 10.9v-11.2m.9 11.2v-9.9m1 9.9v-1.1m1 1.1v-3.9m1 3.9v-13m1 13v-1.3m1 1.3v-10.2m1 10.2v-3.1m1 3.1v-11.6m1 11.6v-11m1 11v-3.1m1 3.1v-13m1 13v-1.2m1 1.2v-5.4m1 5.4v-5.9m.9 5.9v-3m1 3v-3.1m1 3.1v-13.7m2 13.7v-6.8m1 6.8v-12.4m1 12.4v-6.1m1 6.1v-.8m1 .8v-.7m1 .7v-.5m2 .5v-6.4m2.9 6.4v-1.8m2 1.8v-1m1 1v-1.9m1 1.9v-1.1m1 1.1v-1.3m4 1.3v-4.7m1 4.7v-1.7m1 1.7v-.5m2 .5v-1m2.9 1v-3m2 3v-1.8m1 1.8v-1.5m3 1.5v-.9m1 .9v-2.8m1 2.8v-.8m1 .8v-6.4m1 6.4v-6.3m1 6.3v-6.7m1 6.7v-2.9m.9 2.9v-13.6m1 13.6v-10.1m1 10.1v-3m1 3v-8.6m1 8.6v-1.1m1 1.1v-10.2m1 10.2v-1.9M357.9 205.6m0 0v-11.2m1 11.2v-9.9m1 9.9v-1.1m1 1.1v-3.9m1 3.9v-13m1 13v-1.3m1 1.3v-10.2m1 10.2v-3.1m.9 3.1v-11.6m1 11.6v-11m1 11v-3.1m1 3.1v-13m1 13v-1.2m1 1.2v-5.4m1 5.4v-5.9m1 5.9v-3m1 3v-3.1m1 3.1v-13.7m2 13.7v-6.8m1 6.8v-12.4m1 12.4v-6.1m.9 6.1v-.8m1 .8v-.7m1 .7v-.5m2 .5v-6.4m3 6.4v-1.8m2 1.8v-1m1 1v-1.9m1 1.9v-1.1m1 1.1v-1.3m3.9 1.3v-4.7m1 4.7v-1.7m1 1.7v-.5m2 .5v-1m3 1v-3m2 3v-1.8m1 1.8v-1.5m2.9 1.5v-.9m1 .9v-2.8m1 2.8v-.8m1 .8v-6.4m1 6.4v-6.3m1 6.3v-6.7m1 6.7v-2.9m1 2.9v-13.6m1 13.6v-10.1m1 10.1v-3m1 3v-8.6m1 8.6v-1.1m1 1.1v-10.2m1 10.2v-1.9m1 1.9v-4.9m.9 4.9v-8.7m1 8.7v-.8m1 .8v-.7m1 .7v-8.5m1 8.5v-9.2m1 9.2v-8.8m1 8.8v-.5m1 .5v-9.9m1 9.9v-3.8m1 3.8v-12.9m1 12.9v-2.7m1 2.7v-8.8m1 8.8v-10.7m1 10.7v-2.7m.9 2.7v-5.6m2 5.6v-1.9m1 1.9v-11.2m1 11.2v-15m1 15v-2.8m1 2.8v-11.5m1 11.5v-5.6m1 5.6v-14m1 14v-1m1 1v-1.4m1 1.4v-8.8m1 8.8v-8.3m1.9 8.3v-7.2m1 7.2v-.6m1 .6v-.7m2 .7v-1m2 1v-1.2m2 1.2v-3m1 3v-11m2 11v-1.9m3 1.9v-1.1m.9 1.1v-.9m1 .9v-1m3 1v-2.8m1 2.8v-3.5m1 3.5v-1.3m1 1.3v-1.1m3 1.1v-1m1 1v-11m1 11v-12.3m1 12.3v-3.6m.9 3.6v-10.9m1 10.9v-5.1m1 5.1v-8.3m1 8.3v-2m1 2v-12m1 12v-9m1 9v-5.4M357.9 224.2m0 0v-4.9m1 4.9v-8.7m1 8.7v-.8m1 .8v-.7m1 .7v-8.5m1 8.5v-9.2m1 9.2v-8.8m1 8.8v-.5m.9 .5v-9.9m1 9.9v-3.8m1 3.8v-12.9m1 12.9v-2.7m1 2.7v-8.8m1 8.8v-10.7m1 10.7v-2.7m1 2.7v-5.6m2 5.6v-1.9m1 1.9v-11.2m1 11.2v-15m1 15v-2.8m1 2.8v-11.5m.9 11.5v-5.6m1 5.6v-14m1 14v-1m1 1v-1.4m1 1.4v-8.8m1 8.8v-8.3m2 8.3v-7.2m1 7.2v-.6m1 .6v-.7m2 .7v-1m2 1v-1.2m1.9 1.2v-3m1 3v-11m2 11v-1.9m3 1.9v-1.1m1 1.1v-.9m1 .9v-1m3 1v-2.8m1 2.8v-3.5m1 3.5v-1.3m.9 1.3v-1.1m3 1.1v-1m1 1v-11m1 11v-12.3m1 12.3v-3.6m1 3.6v-10.9m1 10.9v-5.1m1 5.1v-8.3m1 8.3v-2m1 2v-12m1 12v-9m1 9v-5.4m1 5.4v-13.6m.9 13.6v-2.6m1 2.6v-13.3m1 13.3v-2.2m1 2.2v-10.1m1 10.1v-1.2m1 1.2v-10.4m1 10.4v-3.8m1 3.8v-10.4m1 10.4v-3.5m1 3.5v-11.5m1 11.5v-8m1 8v-1.9m2 1.9v-9.5m.9 9.5v-10.2m1 10.2v-6.4m1 6.4v-11.8m1 11.8v-10.7m1 10.7v-4.3m1 4.3v-10.4m1 10.4v-13.3m1 13.3v-.8m1 .8v-.8m1 .8v-3.4m1 3.4v-1.1m1 1.1v-1.7m2.9 1.7v-2.4m3 2.4v-5.8m1 5.8v-6.5m1 6.5v-6m3 6v-.6m1 .6v-1.3m2 1.3v-3.4m1 3.4v-1.1m1 1.1v-1.6m1 1.6v-1.2m1.9 1.2v-.8m1 .8v-.9m1 .9v-.7m2 .7v-8.5m1 8.5v-9.6m1 9.6v-5.7m1 5.7v-7.8m1 7.8v-5.1m1 5.1v-1m1 1v-9.5m1 9.5v-3m1 3v-8.3m.9 8.3v-9.2m1 9.2v-2.2m1 2.2v-6m1 6v-4.3m1 4.3v-8.2m1 8.2v-2.8m1 2.8v-.9" stroke="#1a1a1a" stroke-width="0.8" fill="none"/><path d="M357.9 38.2m0 0v-.6m1 .6v-1m1 1v-1.2m1 1.2v-2.9m1 2.9v-1.5m1 1.5v-3.4m1 3.4v-.9m1 .9v-7.2m.9 7.2v-3m1 3v-.7m3 .7v-5.7m1 5.7v-5.9m1 5.9v-5.9m1 5.9v-7.3m1 7.3v-2.8m1 2.8v-1.4m1 1.4v-2.9m3 2.9v-2.5m.9 2.5v-1.5m2 1.5v-.6m1 .6v-3.4m1 3.4v-1.4m1 1.4v-1.4m3 1.4v-1m1 1v-3.3m1 3.3v-.7m4.9 .7v-.6m2 .6v-.9m2 .9v-.7m3 .7v-2.5m1 2.5v-.6m1 .6v-.9m1 .9v-.8m2 .8v-4.6m1 4.6v-2.3m8.9 2.3v-1.3m2 1.3v-2m1 2v-5m1 5v-.6m1 .6v-1.9m1 1.9v-4m.9 4v-5.6m1 5.6v-2.7m1 2.7v-2.2m1 2.2v-4.4m1 4.4v-3.5m1 3.5v-2.3m1 2.3v-1m1 1v-3m1 3v-2.7m1 2.7v-6.9m1 6.9v-4m1 4v-.9m1 .9v-4.8m1 4.8v-1.3m1.9 1.3v-.6m1 .6v-3.7m1 3.7v-.9m1 .9v-1.3m1 1.3v-3.2m1 3.2v-.7m1 .7v-1.4m1 1.4v-4.9m1 4.9v-5m1 5v-.7m3 .7v-1.9m.9 1.9v-.7m3 .7v-1.1m1 1.1v-5.5m2 5.5v-.7m6 .7v-.8m1 .8v-1.2m1.9 1.2v-.8m1 .8v-2.2m1 2.2v-.8m2 .8v-.9m1 .9v-.7m3 .7v-.7m1 .7v-1.1m1 1.1v-1.1m2 1.1v-5.4m1 5.4v-4.5m.9 4.5v-3.3m1 3.3v-.6m1 .6v-7m1 7v-2.8m2 2.8v-7.3m1 7.3v-2.6M357.9 56.8m0 0v-4m1 4v-5.6m1 5.6v-2.7m1 2.7v-2.2m1 2.2v-4.4m1 4.4v-3.5m1 3.5v-2.3m1 2.3v-1m.9 1v-3m1 3v-2.7m1 2.7v-6.9m1 6.9v-4m1 4v-.9m1 .9v-4.8m1 4.8v-1.3m2 1.3v-.6m1 .6v-3.7m1 3.7v-.9m1 .9v-1.3m1 1.3v-3.2m1 3.2v-.7m.9 .7v-1.4m1 1.4v-4.9m1 4.9v-5m1 5v-.7m3 .7v-1.9m1 1.9v-.7m3 .7v-1.1m1 1.1v-5.5m2 5.5v-.7m5.9 .7v-.8m1 .8v-1.2m2 1.2v-.8m1 .8v-2.2m1 2.2v-.8m2 .8v-.9m1 .9v-.7m2.9 .7v-.7m1 .7v-1.1m1 1.1v-1.1m2 1.1v-5.4m1 5.4v-4.5m1 4.5v-3.3m1 3.3v-.6m1 .6v-7m1 7v-2.8m2 2.8v-7.3m1 7.3v-2.6m1 2.6v-2m.9 2v-3.1m1 3.1v-3.6m2 3.6v-7.2m1 7.2v-1m1 1v-3m1 3v-1.1m1 1.1v-4.7m1 4.7v-.5m1 .5v-2.2m1 2.2v-5.4m1 5.4v-.7m1 .7v-7.8m1 7.8v-.9m1.9 .9v-4.2m1 4.2v-1.9m1 1.9v-2.5m1 2.5v-1.7m1 1.7v-4m1 4v-1.4m1 1.4v-2.3m2 2.3v-1.1m1 1.1v-1.4m1 1.4v-.7m1 .7v-1.3m1.9 1.3v-.6m1 .6v-.6m1 .6v-2.2m1 2.2v-.8m2 .8v-2.4m3 2.4v-.6m1 .6v-1.4m1 1.4v-1m1 1v-1.4m4.9 1.4v-1.3m2 1.3v-1.4m1 1.4v-2.8m3 2.8v-1.1m1 1.1v-1.4m2 1.4v-1.1m3 1.1v-3.5m.9 3.5v-2.9m1 2.9v-3.8m1 3.8v-4.7m1 4.7v-1.7m1 1.7v-7.9m1 7.9v-1.9m1 1.9v-3.6M357.9 75.4m0 0v-2m1 2v-3.1m1 3.1v-3.6m2 3.6v-7.2m1 7.2v-1m1 1v-3m1 3v-1.1m.9 1.1v-4.7m1 4.7v-.5m1 .5v-2.2m1 2.2v-5.4m1 5.4v-.7m1 .7v-7.8m1 7.8v-.9m2 .9v-4.2m1 4.2v-1.9m1 1.9v-2.5m1 2.5v-1.7m1 1.7v-4m1 4v-1.4m.9 1.4v-2.3m2 2.3v-1.1m1 1.1v-1.4m1 1.4v-.7m1 .7v-1.3m2 1.3v-.6m1 .6v-.6m1 .6v-2.2m1 2.2v-.8m2 .8v-2.4m2.9 2.4v-.6m1 .6v-1.4m1 1.4v-1m1 1v-1.4m5 1.4v-1.3m2 1.3v-1.4m1 1.4v-2.8m2.9 2.8v-1.1m1 1.1v-1.4m2 1.4v-1.1m3 1.1v-3.5m1 3.5v-2.9m1 2.9v-3.8m1 3.8v-4.7m1 4.7v-1.7m1 1.7v-7.9m1 7.9v-1.9m1 1.9v-3.6m1.9 3.6v-4.9m1 4.9v-2.7m1 2.7v-4.5m1 4.5v-2.7m1 2.7v-5.3m1 5.3v-1.3m1 1.3v-5.2m1 5.2v-1.6m1 1.6v-5.5m1 5.5v-1.4m1 1.4v-7.9m1 7.9v-1.5m1 1.5v-1.2m1.9 1.2v-5.9m1 5.9v-3.9m1 3.9v-3.4m1 3.4v-1.4m1 1.4v-2.6m1 2.6v-4m1 4v-2.8m1 2.8v-6.2m1 6.2v-.5m3 .5v-1.4m1 1.4v-1m1.9 1v-3.4m1 3.4v-.8m2 .8v-.6m1 .6v-1.3m3 1.3v-.6m2 .6v-.8m1 .8v-6.1m1 6.1v-3.5m2 3.5v-1.3m1 1.3v-.8m1.9 .8v-3m1 3v-.8m1 .8v-.8m4 .8v-2.9m1 2.9v-3.7m1 3.7v-3.3m2 3.3v-5.6m2 5.6v-5.4m1.9 5.4v-5.1m1 5.1v-5.9m1 5.9v-.9m1 .9v-2m2 2v-5.5M357.9 94.0m1 0v-4.9m1 4.9v-2.7m1 2.7v-4.5m1 4.5v-2.7m1 2.7v-5.3m1 5.3v-1.3m1 1.3v-5.2m.9 5.2v-1.6m1 1.6v-5.5m1 5.5v-1.4m1 1.4v-7.9m1 7.9v-1.5m1 1.5v-1.2m2 1.2v-5.9m1 5.9v-3.9m1 3.9v-3.4m1 3.4v-1.4m1 1.4v-2.6m1 2.6v-4m1 4v-2.8m.9 2.8v-6.2m1 6.2v-.5m3 .5v-1.4m1 1.4v-1m2 1v-3.4m1 3.4v-.8m2 .8v-.6m1 .6v-1.3m3 1.3v-.6m1.9 .6v-.8m1 .8v-6.1m1 6.1v-3.5m2 3.5v-1.3m1 1.3v-.8m2 .8v-3m1 3v-.8m1 .8v-.8m3.9 .8v-2.9m1 2.9v-3.7m1 3.7v-3.3m2 3.3v-5.6m2 5.6v-5.4m2 5.4v-5.1m1 5.1v-5.9m1 5.9v-.9m1 .9v-2m2 2v-5.5m1 5.5v-.5m.9 .5v-.9m1 .9v-.9m1 .9v-4.2m1 4.2v-4.1m1 4.1v-4m2 4v-4.8m1 4.8v-1.1m1 1.1v-4m1 4v-.6m1 .6v-7.1m1 7.1v-.8m1 .8v-3.7m1 3.7v-1m.9 1v-.9m1 .9v-6.4m2 6.4v-4.4m1 4.4v-2.1m1 2.1v-3.7m1 3.7v-1.1m1 1.1v-6.2m1 6.2v-1.3m3 1.3v-.8m1 .8v-4.1m1 4.1v-1m2.9 1v-1.4m1 1.4v-2.9m1 2.9v-1m1 1v-1.4m1 1.4v-1.9m1 1.9v-4.2m1 4.2v-1.4m3 1.4v-1.3m2 1.3v-1.1m1 1.1v-.8m.9 .8v-2.5m1 2.5v-2.2m1 2.2v-1.9m2 1.9v-1.2m1 1.2v-1.3m5 1.3v-1.8m1 1.8v-4.4m1 4.4v-.6m1 .6v-8.3m.9 8.3v-1m2 1v-3m1 3v-2.8m1 2.8v-5.2m1 5.2v-2.6m1 2.6v-7.9M357.9 112.6m0 0v-.5m1 .5v-.9m1 .9v-.9m1 .9v-4.2m1 4.2v-4.1m1 4.1v-4m2 4v-4.8m.9 4.8v-1.1m1 1.1v-4m1 4v-.6m1 .6v-7.1m1 7.1v-.8m1 .8v-3.7m1 3.7v-1m1 1v-.9m1 .9v-6.4m2 6.4v-4.4m1 4.4v-2.1m1 2.1v-3.7m1 3.7v-1.1m.9 1.1v-6.2m1 6.2v-1.3m3 1.3v-.8m1 .8v-4.1m1 4.1v-1m3 1v-1.4m1 1.4v-2.9m1 2.9v-1m1 1v-1.4m1 1.4v-1.9m1 1.9v-4.2m.9 4.2v-1.4m3 1.4v-1.3m2 1.3v-1.1m1 1.1v-.8m1 .8v-2.5m1 2.5v-2.2m1 2.2v-1.9m2 1.9v-1.2m1 1.2v-1.3m4.9 1.3v-1.8m1 1.8v-4.4m1 4.4v-.6m1 .6v-8.3m1 8.3v-1m2 1v-3m1 3v-2.8m1 2.8v-5.2m1 5.2v-2.6m1 2.6v-7.9m1.9 7.9v-4.5m2 4.5v-6.3m1 6.3v-5.8m1 5.8v-4.9m1 4.9v-3.5m1 3.5v-5.8m1 5.8v-5.6m1 5.6v-1.6m1 1.6v-5.7m1 5.7v-2m1 2v-1.2m1 1.2v-5.1m1.9 5.1v-3.6m1 3.6v-4.4m1 4.4v-1.4m1 1.4v-3.7m1 3.7v-5.8m1 5.8v-1.1m1 1.1v-3.2m1 3.2v-7.7m1 7.7v-7.8m1 7.8v-3.5m1 3.5v-1m1 1v-.6m1 .6v-.7m1 .7v-1.2m.9 1.2v-.7m1 .7v-.7m3 .7v-1m5 1v-1.3m1 1.3v-1.7m4.9 1.7v-3.1m1 3.1v-.9m1 .9v-3.4m2 3.4v-.7m1 .7v-1m1 1v-3.7m1 3.7v-3.6m1 3.6v-3.4m1 3.4v-4.6m2 4.6v-2.1m2 2.1v-6m.9 6v-6.9m1 6.9v-1.4m2 1.4v-6m2 6v-2.7m1 2.7v-1.2M357.9 131.2m1 0v-4.5m2 4.5v-6.3m1 6.3v-5.8m1 5.8v-4.9m1 4.9v-3.5m1 3.5v-5.8m.9 5.8v-5.6m1 5.6v-1.6m1 1.6v-5.7m1 5.7v-2m1 2v-1.2m1 1.2v-5.1m2 5.1v-3.6m1 3.6v-4.4m1 4.4v-1.4m1 1.4v-3.7m1 3.7v-5.8m1 5.8v-1.1m1 1.1v-3.2m.9 3.2v-7.7m1 7.7v-7.8m1 7.8v-3.5m1 3.5v-1m1 1v-.6m1 .6v-.7m1 .7v-1.2m1 1.2v-.7m1 .7v-.7m3 .7v-1m4.9 1v-1.3m1 1.3v-1.7m5 1.7v-3.1m1 3.1v-.9m1 .9v-3.4m2 3.4v-.7m1 .7v-1m1 1v-3.7m.9 3.7v-3.6m1 3.6v-3.4m1 3.4v-4.6m2 4.6v-2.1m2 2.1v-6m1 6v-6.9m1 6.9v-1.4m2 1.4v-6m2 6v-2.7m1 2.7v-1.2m1 1.2v-8.1m1.9 8.1v-3.6m2 3.6v-3.9m1 3.9v-.7m1 .7v-2.1m1 2.1v-5.2m1 5.2v-5.3m1 5.3v-6.2m1 6.2v-1.2m1 1.2v-6.1m1 6.1v-4.6m1 4.6v-1.7m1 1.7v-3.7m.9 3.7v-.7m1 .7v-5.3m1 5.3v-.6m1 .6v-3.4m1 3.4v-3.6m2 3.6v-4.6m1 4.6v-3.3m2 3.3v-7.1m1 7.1v-1.1m1 1.1v-1.2m4.9 1.2v-2.4m1 2.4v-2.2m2 2.2v-.9m2 .9v-1.4m4 1.4v-.6m1 .6v-1.1m1 1.1v-1.3m1.9 1.3v-5m4 5v-.6m3 .6v-1.2m1 1.2v-3.9m1 3.9v-.7m1 .7v-4.6m2 4.6v-1.2m1 1.2v-1.8m.9 1.8v-2.6m2 2.6v-.8m1 .8v-.7m1 .7v-6.3m1 6.3v-1.4m1 1.4v-3.6M357.9 149.8m0 0v-8.1m2 8.1v-3.6m2 3.6v-3.9m1 3.9v-.7m1 .7v-2.1m1 2.1v-5.2m.9 5.2v-5.3m1 5.3v-6.2m1 6.2v-1.2m1 1.2v-6.1m1 6.1v-4.6m1 4.6v-1.7m1 1.7v-3.7m1 3.7v-.7m1 .7v-5.3m1 5.3v-.6m1 .6v-3.4m1 3.4v-3.6m2 3.6v-4.6m.9 4.6v-3.3m2 3.3v-7.1m1 7.1v-1.1m1 1.1v-1.2m5 1.2v-2.4m1 2.4v-2.2m2 2.2v-.9m2 .9v-1.4m3.9 1.4v-.6m1 .6v-1.1m1 1.1v-1.3m2 1.3v-5m4 5v-.6m2.9 .6v-1.2m1 1.2v-3.9m1 3.9v-.7m1 .7v-4.6m2 4.6v-1.2m1 1.2v-1.8m1 1.8v-2.6m2 2.6v-.8m1 .8v-.7m1 .7v-6.3m1 6.3v-1.4m1 1.4v-3.6m1 3.6v-.6m1.9 .6v-6.7m2 6.7v-3.1m1 3.1v-1.1m1 1.1v-3.1m1 3.1v-1m1 1v-1.3m1 1.3v-6m2 6v-1.1m1 1.1v-.7m1 .7v-1.2m1 1.2v-3.6m.9 3.6v-.8m1 .8v-6.8m1 6.8v-3.6m1 3.6v-4.1m1 4.1v-2.4m1 2.4v-1.2m1 1.2v-5.9m1 5.9v-4.2m2 4.2v-5.6m1 5.6v-.8m1 .8v-2.2m1 2.2v-1.3m1 1.3v-2.6m4.9 2.6v-.7m4 .7v-.9m1 .9v-1.5m1 1.5v-1.5m1 1.5v-.7m1 .7v-.7m2 .7v-1.7m.9 1.7v-3m6 3v-1m1 1v-1.1m1 1.1v-2.2m1 2.2v-1.2m1 1.2v-5.5m1 5.5v-3.1m1 3.1v-.9m1 .9v-5.5m.9 5.5v-2.5m1 2.5v-1.5m1 1.5v-1.3m1 1.3v-.8m1 .8v-6.1m1 6.1v-3.3m1 3.3v-.5M357.9 168.4m0 0v-.6m2 .6v-6.7m2 6.7v-3.1m1 3.1v-1.1m1 1.1v-3.1m1 3.1v-1m.9 1v-1.3m1 1.3v-6m2 6v-1.1m1 1.1v-.7m1 .7v-1.2m1 1.2v-3.6m1 3.6v-.8m1 .8v-6.8m1 6.8v-3.6m1 3.6v-4.1m1 4.1v-2.4m1 2.4v-1.2m1 1.2v-5.9m.9 5.9v-4.2m2 4.2v-5.6m1 5.6v-.8m1 .8v-2.2m1 2.2v-1.3m1 1.3v-2.6m5 2.6v-.7m3.9 .7v-.9m1 .9v-1.5m1 1.5v-1.5m1 1.5v-.7m1 .7v-.7m2 .7v-1.7m1 1.7v-3m6 3v-1m.9 1v-1.1m1 1.1v-2.2m1 2.2v-1.2m1 1.2v-5.5m1 5.5v-3.1m1 3.1v-.9m1 .9v-5.5m1 5.5v-2.5m1 2.5v-1.5m1 1.5v-1.3m1 1.3v-.8m1 .8v-6.1m1 6.1v-3.3m1 3.3v-.5m1 .5v-2.6m.9 2.6v-5.5m1 5.5v-2.2m1 2.2v-1.6m1 1.6v-5m1 5v-2.8m1 2.8v-2.7m1 2.7v-4.5m1 4.5v-5.5m1 5.5v-1.5m1 1.5v-6.9m1 6.9v-1.4m2 1.4v-4.1m1 4.1v-1m.9 1v-4.3m1 4.3v-5.1m1 5.1v-1.8m1 1.8v-5.6m1 5.6v-1m1 1v-5.1m1 5.1v-5.5m3 5.5v-3.4m1 3.4v-3.2m2 3.2v-.6m2.9 .6v-.6m2 .6v-.7m2 .7v-1.3m1 1.3v-1.1m1 1.1v-.8m2 .8v-1.8m1 1.8v-1.6m1 1.6v-2.2m1 2.2v-1.1m2 1.1v-1.3m.9 1.3v-1m1 1v-1.4m1 1.4v-1.2m2 1.2v-2.3m2 2.3v-1.1m3 1.1v-1m1 1v-.8m3 .8v-1.2m.9 1.2v-3.6m1 3.6v-3.2m1 3.2v-2.4m1 2.4v-1.4m1 1.4v-4.3m2 4.3v-4.9M357.9 187.0m0 0v-2.6m1 2.6v-5.5m1 5.5v-2.2m1 2.2v-1.6m1 1.6v-5m1 5v-2.8m1 2.8v-2.7m1 2.7v-4.5m.9 4.5v-5.5m1 5.5v-1.5m1 1.5v-6.9m1 6.9v-1.4m2 1.4v-4.1m1 4.1v-1m1 1v-4.3m1 4.3v-5.1m1 5.1v-1.8m1 1.8v-5.6m1 5.6v-1m1 1v-5.1m1 5.1v-5.5m2.9 5.5v-3.4m1 3.4v-3.2m2 3.2v-.6m3 .6v-.6m2 .6v-.7m2 .7v-1.3m1 1.3v-1.1m1 1.1v-.8m1.9 .8v-1.8m1 1.8v-1.6m1 1.6v-2.2m1 2.2v-1.1m2 1.1v-1.3m1 1.3v-1m1 1v-1.4m1 1.4v-1.2m2 1.2v-2.3m2 2.3v-1.1m2.9 1.1v-1m1 1v-.8m3 .8v-1.2m1 1.2v-3.6m1 3.6v-3.2m1 3.2v-2.4m1 2.4v-1.4m1 1.4v-4.3m2 4.3v-4.9m1 4.9v-2.6m.9 2.6v-3.9m2 3.9v-2m1 2v-5.4m1 5.4v-.6m1 .6v-3.7m1 3.7v-1.6m1 1.6v-5.2m1 5.2v-5.4m1 5.4v-.7m1 .7v-3.1m1 3.1v-.9m1 .9v-1.2m1 1.2v-1.4m.9 1.4v-1.6m1 1.6v-1m1 1v-3.7m2 3.7v-3m1 3v-4.4m1 4.4v-3.3m5 3.3v-2.2m2.9 2.2v-.7m2 .7v-.7m1 .7v-1.3m1 1.3v-.8m1 .8v-.9m4 .9v-1.3m1 1.3v-1.2m3 1.2v-.7m2.9 .7v-1.2m2 1.2v-1.3m1 1.3v-1.1m3 1.1v-.6m1 .6v-1.4m2 1.4v-2.2m1 2.2v-2.9m1 2.9v-1.5m1 1.5v-1.4m.9 1.4v-4m1 4v-3.8m1 3.8v-1.3m1 1.3v-4.1m2 4.1v-5.4m1 5.4v-.5M357.9 205.6m0 0v-2.6m1 2.6v-3.9m2 3.9v-2m1 2v-5.4m1 5.4v-.6m1 .6v-3.7m1 3.7v-1.6m.9 1.6v-5.2m1 5.2v-5.4m1 5.4v-.7m1 .7v-3.1m1 3.1v-.9m1 .9v-1.2m1 1.2v-1.4m1 1.4v-1.6m1 1.6v-1m1 1v-3.7m2 3.7v-3m1 3v-4.4m1 4.4v-3.3m4.9 3.3v-2.2m3 2.2v-.7m2 .7v-.7m1 .7v-1.3m1 1.3v-.8m1 .8v-.9m3.9 .9v-1.3m1 1.3v-1.2m3 1.2v-.7m3 .7v-1.2m2 1.2v-1.3m1 1.3v-1.1m2.9 1.1v-.6m1 .6v-1.4m2 1.4v-2.2m1 2.2v-2.9m1 2.9v-1.5m1 1.5v-1.4m1 1.4v-4m1 4v-3.8m1 3.8v-1.3m1 1.3v-4.1m2 4.1v-5.4m1 5.4v-.5m1 .5v-2.6m.9 2.6v-2.4m1 2.4v-.6m2 .6v-4m1 4v-4.3m1 4.3v-3.7m2 3.7v-4.7m1 4.7v-1.6m1 1.6v-3.6m1 3.6v-1.3m1 1.3v-3.1m1 3.1v-4.8m1 4.8v-1.3m.9 1.3v-2m2 2v-1.3m1 1.3v-2.8m1 2.8v-7.5m1 7.5v-1.1m1 1.1v-2.8m1 2.8v-3.1m1 3.1v-4m1 4v-.7m1 .7v-.5m1 .5v-4.1m1 4.1v-4.2m1.9 4.2v-2m4 2v-.7m2 .7v-.8m2 .8v-1.2m1 1.2v-4.8m2 4.8v-1.3m3 1.3v-.8m.9 .8v-.6m1 .6v-.7m3 .7v-1.3m1 1.3v-1.2m1 1.2v-.9m1 .9v-.7m3 .7v-.7m1 .7v-4.1m1 4.1v-4.2m1 4.2v-1.3m.9 1.3v-5.3m1 5.3v-1.3m1 1.3v-3.4m1 3.4v-.9m1 .9v-4.4m1 4.4v-4.7m1 4.7v-2.3M357.9 224.2m0 0v-2.6m1 2.6v-2.4m1 2.4v-.6m2 .6v-4m1 4v-4.3m1 4.3v-3.7m1.9 3.7v-4.7m1 4.7v-1.6m1 1.6v-3.6m1 3.6v-1.3m1 1.3v-3.1m1 3.1v-4.8m1 4.8v-1.3m1 1.3v-2m2 2v-1.3m1 1.3v-2.8m1 2.8v-7.5m1 7.5v-1.1m1 1.1v-2.8m.9 2.8v-3.1m1 3.1v-4m1 4v-.7m1 .7v-.5m1 .5v-4.1m1 4.1v-4.2m2 4.2v-2m4 2v-.7m2 .7v-.8m1.9 .8v-1.2m1 1.2v-4.8m2 4.8v-1.3m3 1.3v-.8m1 .8v-.6m1 .6v-.7m3 .7v-1.3m1 1.3v-1.2m1 1.2v-.9m.9 .9v-.7m3 .7v-.7m1 .7v-4.1m1 4.1v-4.2m1 4.2v-1.3m1 1.3v-5.3m1 5.3v-1.3m1 1.3v-3.4m1 3.4v-.9m1 .9v-4.4m1 4.4v-4.7m1 4.7v-2.3m1 2.3v-4.2m.9 4.2v-.9m1 .9v-5.9m1 5.9v-1m1 1v-3m2 3v-4.3m1 4.3v-1.9m1 1.9v-2.3m1 2.3v-1.3m1 1.3v-5.9m1 5.9v-3.4m1 3.4v-.7m2 .7v-2.8m.9 2.8v-5.2m1 5.2v-3.4m1 3.4v-5.9m1 5.9v-4.8m1 4.8v-2.2m1 2.2v-4m1 4v-5.4m2 5.4v-.6m1 .6v-1.4m2 1.4v-1.2m2.9 1.2v-1m3 1v-1.5m1 1.5v-2.4m1 2.4v-1.9m4 1.9v-.9m2 .9v-.9m1 .9v-.8m1 .8v-1.1m1 1.1v-.8m1.9 .8v-.5m1 .5v-.6m3 .6v-2.8m1 2.8v-2.8m1 2.8v-2.3m1 2.3v-3.6m1 3.6v-2.7m1 2.7v-.7m1 .7v-2.5m1 2.5v-1m1 1v-3.3m.9 3.3v-5m1 5v-1.1m1 1.1v-2.8m1 2.8v-2.1m1 2.1v-4.2m1 4.2v-1.3m1 1.3v-.6" stroke="#000" stroke-width="1.15" fill="none"/><line x1="356.80" y1="38.50" x2="487.10" y2="38.50" stroke="#000" stroke-width="1.2" /><line x1="354.60" y1="28.30" x2="356.80" y2="28.30" stroke="#000" stroke-width="0.9" /><line x1="356.80" y1="57.10" x2="487.10" y2="57.10" stroke="#000" stroke-width="1.2" /><line x1="354.60" y1="47.09" x2="356.80" y2="47.09" stroke="#000" stroke-width="0.9" /><line x1="356.80" y1="75.70" x2="487.10" y2="75.70" stroke="#000" stroke-width="1.2" /><line x1="354.60" y1="65.88" x2="356.80" y2="65.88" stroke="#000" stroke-width="0.9" /><line x1="356.80" y1="94.30" x2="487.10" y2="94.30" stroke="#000" stroke-width="1.2" /><line x1="354.60" y1="84.67" x2="356.80" y2="84.67" stroke="#000" stroke-width="0.9" /><line x1="356.80" y1="112.90" x2="487.10" y2="112.90" stroke="#000" stroke-width="1.2" /><line x1="354.60" y1="103.46" x2="356.80" y2="103.46" stroke="#000" stroke-width="0.9" /><line x1="356.80" y1="131.50" x2="487.10" y2="131.50" stroke="#000" stroke-width="1.2" /><line x1="354.60" y1="122.25" x2="356.80" y2="122.25" stroke="#000" stroke-width="0.9" /><line x1="356.80" y1="150.10" x2="487.10" y2="150.10" stroke="#000" stroke-width="1.2" /><line x1="354.60" y1="141.04" x2="356.80" y2="141.04" stroke="#000" stroke-width="0.9" /><line x1="356.80" y1="168.70" x2="487.10" y2="168.70" stroke="#000" stroke-width="1.2" /><line x1="354.60" y1="159.83" x2="356.80" y2="159.83" stroke="#000" stroke-width="0.9" /><line x1="356.80" y1="187.30" x2="487.10" y2="187.30" stroke="#000" stroke-width="1.2" /><line x1="354.60" y1="178.62" x2="356.80" y2="178.62" stroke="#000" stroke-width="0.9" /><line x1="356.80" y1="205.90" x2="487.10" y2="205.90" stroke="#000" stroke-width="1.2" /><line x1="354.60" y1="197.41" x2="356.80" y2="197.41" stroke="#000" stroke-width="0.9" /><line x1="356.80" y1="224.50" x2="487.10" y2="224.50" stroke="#000" stroke-width="1.2" /><line x1="354.60" y1="216.20" x2="356.80" y2="216.20" stroke="#000" stroke-width="0.9" /><line x1="356.80" y1="16.30" x2="356.80" y2="225.00" stroke="#000" stroke-width="1.2" /><line x1="487.10" y1="16.30" x2="487.10" y2="225.00" stroke="#000" stroke-width="1.2" /><line x1="373.09" y1="224.40" x2="373.09" y2="226.30" stroke="#000" stroke-width="1.3" /><text transform="translate(373.09,236.2) scale(1.12,1)" font-size="10.3" text-anchor="middle">0</text><line x1="405.66" y1="224.40" x2="405.66" y2="226.30" stroke="#000" stroke-width="1.3" /><text transform="translate(405.66,236.2) scale(1.12,1)" font-size="10.3" text-anchor="middle">12</text><line x1="438.24" y1="224.40" x2="438.24" y2="226.30" stroke="#000" stroke-width="1.3" /><text transform="translate(438.24,236.2) scale(1.12,1)" font-size="10.3" text-anchor="middle">0</text><line x1="470.81" y1="224.40" x2="470.81" y2="226.30" stroke="#000" stroke-width="1.3" /><text transform="translate(470.81,236.2) scale(1.12,1)" font-size="10.3" text-anchor="middle">12</text><text transform="translate(422.25,244.8) scale(1.17,1)" font-size="10.3" text-anchor="middle">Time (CT)</text><line x1="409.40" y1="29.40" x2="408.00" y2="214.40" stroke="#e62e2a" stroke-width="2.1" /><circle cx="409.40" cy="29.40" r="1.9" fill="#e62e2a"/><circle cx="409.26" cy="48.00" r="1.9" fill="#e62e2a"/><circle cx="409.12" cy="66.60" r="1.9" fill="#e62e2a"/><circle cx="408.98" cy="85.20" r="1.9" fill="#e62e2a"/><circle cx="408.84" cy="103.80" r="1.9" fill="#e62e2a"/><circle cx="408.70" cy="122.40" r="1.9" fill="#e62e2a"/><circle cx="408.56" cy="141.00" r="1.9" fill="#e62e2a"/><circle cx="408.41" cy="159.60" r="1.9" fill="#e62e2a"/><circle cx="408.27" cy="178.20" r="1.9" fill="#e62e2a"/><circle cx="408.13" cy="196.80" r="1.9" fill="#e62e2a"/><circle cx="407.99" cy="215.40" r="1.9" fill="#e62e2a"/><rect x="581.00" y="23.60" width="100.50" height="201.40" fill="none" stroke="#222" stroke-width="1.3" /><line x1="578.20" y1="23.60" x2="581.00" y2="23.60" stroke="#222" stroke-width="1.2" /><line x1="578.20" y1="225.00" x2="581.00" y2="225.00" stroke="#222" stroke-width="1.2" /><line x1="578.80" y1="124.30" x2="581.00" y2="124.30" stroke="#222" stroke-width="1.1" /><text x="576.80" y="30.80" font-size="18.6" text-anchor="end" >24.0</text><text x="577.40" y="229.80" font-size="18.6" text-anchor="end" >23.9</text><text x="581.20" y="48.60" font-size="31.5" text-anchor="start" >B</text><text transform="translate(556.60,124.80) rotate(-90) scale(1.05,1.0)" font-size="20.5" text-anchor="middle">Tau (τ; h)</text><line x1="602.30" y1="104.00" x2="602.30" y2="158.00" stroke="#3f60b0" stroke-width="1.3" /><line x1="600.60" y1="104.00" x2="604.00" y2="104.00" stroke="#3f60b0" stroke-width="1.3" /><line x1="600.60" y1="158.00" x2="604.00" y2="158.00" stroke="#3f60b0" stroke-width="1.3" /><ellipse cx="602.3" cy="131.2" rx="5.6" ry="6.1" fill="#79acde" stroke="#3f60b0" stroke-width="1.2"/><line x1="631.50" y1="41.80" x2="631.50" y2="90.60" stroke="#e8382c" stroke-width="1.3" /><line x1="629.80" y1="41.80" x2="633.20" y2="41.80" stroke="#e8382c" stroke-width="1.3" /><line x1="629.80" y1="90.60" x2="633.20" y2="90.60" stroke="#e8382c" stroke-width="1.3" /><ellipse cx="631.5" cy="66.6" rx="5.6" ry="6.1" fill="#f48466" stroke="#e8382c" stroke-width="1.2"/><line x1="661.00" y1="126.50" x2="661.00" y2="192.90" stroke="#333" stroke-width="1.3" /><line x1="659.30" y1="126.50" x2="662.70" y2="126.50" stroke="#333" stroke-width="1.3" /><line x1="659.30" y1="192.90" x2="662.70" y2="192.90" stroke="#333" stroke-width="1.3" /><ellipse cx="661" cy="160.2" rx="5.6" ry="6.1" fill="#948b89" stroke="#333" stroke-width="1.2"/><path d="M631.50 30.97L631.50 27.01M631.50 30.97L635.79 30.42M631.50 30.97L634.36 35.48M631.50 30.97L628.64 35.48M631.50 30.97L627.21 30.42" stroke="#000" stroke-width="2.42" stroke-linecap="round" fill="none"/><path d="M659.88 106.00L657.53 119.70M664.37 106.00L661.92 119.70" stroke="#000" stroke-width="1.35" fill="none"/><path d="M656.20 110.50H665.60M656.20 115.64H665.60" stroke="#000" stroke-width="1.9" fill="none"/><text transform="translate(602.50,239.60) scale(1.08,1)" font-size="13.3" text-anchor="middle">SPF</text><text transform="translate(630.80,239.60) scale(1.08,1)" font-size="13.3" text-anchor="middle">GF</text><text transform="translate(660.20,239.60) scale(1.08,1)" font-size="13.3" text-anchor="middle">ex-GF</text><rect x="57.00" y="255.20" width="96.50" height="193.10" fill="#d2d3d5" /><rect x="153.50" y="255.20" width="97.00" height="193.10" fill="#e6e6e6" /><line x1="153.70" y1="255.50" x2="153.70" y2="448.00" stroke="#222" stroke-width="1.5" stroke-dasharray="5.1,4.1" stroke-dashoffset="3.2"/><rect x="57.00" y="255.20" width="193.50" height="193.10" fill="none" stroke="#222" stroke-width="1.3" /><line x1="54.20" y1="448.30" x2="57.00" y2="448.30" stroke="#222" stroke-width="1.2" /><text x="52.80" y="453.90" font-size="18.4" text-anchor="end" >0</text><line x1="54.20" y1="393.02" x2="57.00" y2="393.02" stroke="#222" stroke-width="1.2" /><text x="52.80" y="398.62" font-size="18.4" text-anchor="end" >4</text><line x1="54.20" y1="337.74" x2="57.00" y2="337.74" stroke="#222" stroke-width="1.2" /><text x="52.80" y="343.34" font-size="18.4" text-anchor="end" >8</text><line x1="54.20" y1="282.46" x2="57.00" y2="282.46" stroke="#222" stroke-width="1.2" /><text x="52.80" y="288.06" font-size="18.4" text-anchor="end" >12</text><line x1="54.80" y1="420.66" x2="57.00" y2="420.66" stroke="#222" stroke-width="1.1" /><line x1="54.80" y1="365.38" x2="57.00" y2="365.38" stroke="#222" stroke-width="1.1" /><line x1="54.80" y1="310.10" x2="57.00" y2="310.10" stroke="#222" stroke-width="1.1" /><text x="57.50" y="278.90" font-size="30.8" text-anchor="start" >C</text><text x="81.80" y="267.80" font-size="9.45" text-anchor="start" fill="#222" style="stroke:none">Active (α) phase</text><text x="172.20" y="267.70" font-size="9.45" text-anchor="start" fill="#222" style="stroke:none">Rest (ρ) phase</text><line x1="77.50" y1="448.30" x2="77.50" y2="450.50" stroke="#222" stroke-width="1.0" /><line x1="77.50" y1="287.40" x2="77.50" y2="278.50" stroke="#3f60b0" stroke-width="1.3" /><line x1="75.80" y1="278.90" x2="79.20" y2="278.90" stroke="#3f60b0" stroke-width="1.3" /><rect x="65.65" y="288.05" width="23.70" height="160.25" fill="#79acde" stroke="#3f60b0" stroke-width="1.3" /><line x1="105.65" y1="448.30" x2="105.65" y2="450.50" stroke="#222" stroke-width="1.0" /><line x1="105.65" y1="306.60" x2="105.65" y2="296.80" stroke="#e8382c" stroke-width="1.3" /><line x1="103.95" y1="297.20" x2="107.35" y2="297.20" stroke="#e8382c" stroke-width="1.3" /><rect x="93.35" y="307.25" width="24.60" height="141.05" fill="#f48466" stroke="#e8382c" stroke-width="1.3" /><line x1="133.85" y1="448.30" x2="133.85" y2="450.50" stroke="#222" stroke-width="1.0" /><line x1="133.85" y1="334.00" x2="133.85" y2="316.60" stroke="#222222" stroke-width="1.3" /><line x1="132.15" y1="317.00" x2="135.55" y2="317.00" stroke="#222222" stroke-width="1.3" /><rect x="121.65" y="334.65" width="24.40" height="113.65" fill="#9a908f" stroke="#222222" stroke-width="1.3" /><line x1="174.10" y1="448.30" x2="174.10" y2="450.50" stroke="#222" stroke-width="1.0" /><line x1="174.10" y1="400.20" x2="174.10" y2="397.90" stroke="#3f60b0" stroke-width="1.3" /><line x1="172.40" y1="398.30" x2="175.80" y2="398.30" stroke="#3f60b0" stroke-width="1.3" /><rect x="162.15" y="400.85" width="23.90" height="47.45" fill="#79acde" stroke="#3f60b0" stroke-width="1.3" /><line x1="202.10" y1="448.30" x2="202.10" y2="450.50" stroke="#222" stroke-width="1.0" /><line x1="202.10" y1="407.20" x2="202.10" y2="405.40" stroke="#e8382c" stroke-width="1.3" /><line x1="200.40" y1="405.80" x2="203.80" y2="405.80" stroke="#e8382c" stroke-width="1.3" /><rect x="190.15" y="407.85" width="23.90" height="40.45" fill="#f48466" stroke="#e8382c" stroke-width="1.3" /><line x1="230.65" y1="448.30" x2="230.65" y2="450.50" stroke="#222" stroke-width="1.0" /><line x1="230.65" y1="412.60" x2="230.65" y2="406.50" stroke="#222222" stroke-width="1.3" /><line x1="228.95" y1="406.90" x2="232.35" y2="406.90" stroke="#222222" stroke-width="1.3" /><rect x="218.95" y="413.25" width="23.40" height="35.05" fill="#9a908f" stroke="#222222" stroke-width="1.3" /><path d="M202.00 389.10L202.00 385.50M202.00 389.10L205.90 388.60M202.00 389.10L204.60 393.20M202.00 389.10L199.40 393.20M202.00 389.10L198.10 388.60" stroke="#000" stroke-width="2.20" stroke-linecap="round" fill="none"/><text x="77.50" y="464.40" font-size="13.4" text-anchor="middle" >SPF</text><text x="105.60" y="464.40" font-size="13.4" text-anchor="middle" >GF</text><text x="133.80" y="464.40" font-size="13.4" text-anchor="middle" >ex-GF</text><text x="174.10" y="464.40" font-size="13.4" text-anchor="middle" >SPF</text><text x="202.10" y="464.40" font-size="13.4" text-anchor="middle" >GF</text><text x="230.60" y="464.40" font-size="13.4" text-anchor="middle" >ex-GF</text><text transform="translate(32.40,350.00) rotate(-90)" font-size="19.45" text-anchor="middle">Activity (x 1000)</text><rect x="319.60" y="254.30" width="145.40" height="193.50" fill="none" stroke="#222" stroke-width="1.3" /><line x1="316.80" y1="447.80" x2="319.60" y2="447.80" stroke="#222" stroke-width="1.2" /><text x="315.40" y="453.40" font-size="18.4" text-anchor="end" >0</text><line x1="316.80" y1="399.36" x2="319.60" y2="399.36" stroke="#222" stroke-width="1.2" /><text x="315.40" y="404.96" font-size="18.4" text-anchor="end" >4</text><line x1="316.80" y1="350.92" x2="319.60" y2="350.92" stroke="#222" stroke-width="1.2" /><text x="315.40" y="356.52" font-size="18.4" text-anchor="end" >8</text><line x1="316.80" y1="302.48" x2="319.60" y2="302.48" stroke="#222" stroke-width="1.2" /><text x="315.40" y="308.08" font-size="18.4" text-anchor="end" >12</text><line x1="316.80" y1="254.04" x2="319.60" y2="254.04" stroke="#222" stroke-width="1.2" /><text x="315.40" y="262.04" font-size="18.4" text-anchor="end" >16</text><line x1="317.40" y1="423.58" x2="319.60" y2="423.58" stroke="#222" stroke-width="1.1" /><line x1="317.40" y1="375.14" x2="319.60" y2="375.14" stroke="#222" stroke-width="1.1" /><line x1="317.40" y1="326.70" x2="319.60" y2="326.70" stroke="#222" stroke-width="1.1" /><line x1="317.40" y1="278.26" x2="319.60" y2="278.26" stroke="#222" stroke-width="1.1" /><text x="319.70" y="278.80" font-size="30.5" text-anchor="start" >D</text><line x1="350.00" y1="447.80" x2="350.00" y2="450.00" stroke="#222" stroke-width="1.0" /><line x1="350.00" y1="293.40" x2="350.00" y2="291.20" stroke="#3f60b0" stroke-width="1.3" /><line x1="348.30" y1="291.60" x2="351.70" y2="291.60" stroke="#3f60b0" stroke-width="1.3" /><rect x="331.95" y="294.05" width="36.10" height="153.75" fill="#79acde" stroke="#3f60b0" stroke-width="1.3" /><line x1="392.30" y1="447.80" x2="392.30" y2="450.00" stroke="#222" stroke-width="1.0" /><line x1="392.30" y1="303.60" x2="392.30" y2="302.00" stroke="#e8382c" stroke-width="1.3" /><line x1="390.60" y1="302.40" x2="394.00" y2="302.40" stroke="#e8382c" stroke-width="1.3" /><rect x="374.25" y="304.25" width="36.10" height="143.55" fill="#f48466" stroke="#e8382c" stroke-width="1.3" /><line x1="434.70" y1="447.80" x2="434.70" y2="450.00" stroke="#222" stroke-width="1.0" /><line x1="434.70" y1="288.20" x2="434.70" y2="285.80" stroke="#222222" stroke-width="1.3" /><line x1="433.00" y1="286.20" x2="436.40" y2="286.20" stroke="#222222" stroke-width="1.3" /><rect x="416.65" y="288.85" width="36.10" height="158.95" fill="#9a908f" stroke="#222222" stroke-width="1.3" /><path d="M379.10 284.56L379.10 281.07M379.10 284.56L382.88 284.07M379.10 284.56L381.62 288.54M379.10 284.56L376.58 288.54M379.10 284.56L375.32 284.07" stroke="#000" stroke-width="2.13" stroke-linecap="round" fill="none"/><path d="M392.00 284.56L392.00 281.07M392.00 284.56L395.78 284.07M392.00 284.56L394.52 288.54M392.00 284.56L389.48 288.54M392.00 284.56L388.22 284.07" stroke="#000" stroke-width="2.13" stroke-linecap="round" fill="none"/><path d="M404.50 284.56L404.50 281.07M404.50 284.56L408.28 284.07M404.50 284.56L407.02 288.54M404.50 284.56L401.98 288.54M404.50 284.56L400.72 284.07" stroke="#000" stroke-width="2.13" stroke-linecap="round" fill="none"/><path d="M428.94 268.70L426.96 279.00M432.72 268.70L430.66 279.00M437.94 268.70L435.96 279.00M441.72 268.70L439.66 279.00" stroke="#000" stroke-width="1.35" fill="none"/><path d="M425.90 272.04H433.70M425.90 276.00H433.70M434.90 272.04H442.70M434.90 276.00H442.70" stroke="#000" stroke-width="1.9" fill="none"/><text x="350.00" y="464.00" font-size="17.5" text-anchor="middle" >SPF</text><text x="392.30" y="464.00" font-size="17.5" text-anchor="middle" >GF</text><text x="434.70" y="464.00" font-size="17.5" text-anchor="middle" >ex-GF</text><text transform="translate(292.00,348.40) rotate(-90)" font-size="18.7" text-anchor="middle">α Duration (h)</text><rect x="536.90" y="254.30" width="144.20" height="193.20" fill="none" stroke="#222" stroke-width="1.3" /><line x1="534.10" y1="447.50" x2="536.90" y2="447.50" stroke="#222" stroke-width="1.2" /><text x="532.70" y="453.10" font-size="18.4" text-anchor="end" >0</text><line x1="534.10" y1="408.80" x2="536.90" y2="408.80" stroke="#222" stroke-width="1.2" /><text x="532.70" y="414.40" font-size="18.4" text-anchor="end" >0.1</text><line x1="534.10" y1="331.40" x2="536.90" y2="331.40" stroke="#222" stroke-width="1.2" /><text x="532.70" y="337.00" font-size="18.4" text-anchor="end" >0.3</text><line x1="534.10" y1="254.00" x2="536.90" y2="254.00" stroke="#222" stroke-width="1.2" /><text x="532.70" y="262.00" font-size="18.4" text-anchor="end" >0.5</text><line x1="534.70" y1="370.10" x2="536.90" y2="370.10" stroke="#222" stroke-width="1.1" /><line x1="534.70" y1="292.70" x2="536.90" y2="292.70" stroke="#222" stroke-width="1.1" /><text x="537.50" y="278.80" font-size="30.5" text-anchor="start" >E</text><line x1="567.25" y1="447.50" x2="567.25" y2="449.70" stroke="#222" stroke-width="1.0" /><line x1="567.25" y1="312.70" x2="567.25" y2="301.40" stroke="#3f60b0" stroke-width="1.3" /><line x1="565.55" y1="301.80" x2="568.95" y2="301.80" stroke="#3f60b0" stroke-width="1.3" /><rect x="549.45" y="313.35" width="35.60" height="134.15" fill="#79acde" stroke="#3f60b0" stroke-width="1.3" /><line x1="609.75" y1="447.50" x2="609.75" y2="449.70" stroke="#222" stroke-width="1.0" /><line x1="609.75" y1="328.60" x2="609.75" y2="319.30" stroke="#e8382c" stroke-width="1.3" /><line x1="608.05" y1="319.70" x2="611.45" y2="319.70" stroke="#e8382c" stroke-width="1.3" /><rect x="591.95" y="329.25" width="35.60" height="118.25" fill="#f48466" stroke="#e8382c" stroke-width="1.3" /><line x1="651.95" y1="447.50" x2="651.95" y2="449.70" stroke="#222" stroke-width="1.0" /><line x1="651.95" y1="303.50" x2="651.95" y2="285.80" stroke="#222222" stroke-width="1.3" /><line x1="650.25" y1="286.20" x2="653.65" y2="286.20" stroke="#222222" stroke-width="1.3" /><rect x="634.15" y="304.15" width="35.60" height="143.35" fill="#9a908f" stroke="#222222" stroke-width="1.3" /><text x="567.20" y="465.20" font-size="17.5" text-anchor="middle" >SPF</text><text x="609.70" y="465.20" font-size="17.5" text-anchor="middle" >GF</text><text x="652.00" y="465.20" font-size="17.5" text-anchor="middle" >ex-GF</text><text transform="translate(501.30,350.80) rotate(-90)" font-size="19.8" text-anchor="middle">Onset Variability (σ)</text><rect x="56.80" y="474.40" width="290.70" height="192.80" fill="none" stroke="#222" stroke-width="1.3" /><line x1="202.50" y1="474.80" x2="202.50" y2="667.00" stroke="#111" stroke-width="1.4" stroke-dasharray="5.3,3.9" stroke-dashoffset="2.9"/><line x1="54.00" y1="667.20" x2="56.80" y2="667.20" stroke="#222" stroke-width="1.2" /><text x="52.60" y="672.80" font-size="18.4" text-anchor="end" >0</text><line x1="54.00" y1="602.80" x2="56.80" y2="602.80" stroke="#222" stroke-width="1.2" /><text x="52.60" y="608.40" font-size="18.4" text-anchor="end" >100</text><line x1="54.00" y1="538.40" x2="56.80" y2="538.40" stroke="#222" stroke-width="1.2" /><text x="52.60" y="544.00" font-size="18.4" text-anchor="end" >200</text><line x1="54.00" y1="474.00" x2="56.80" y2="474.00" stroke="#222" stroke-width="1.2" /><text x="52.60" y="479.60" font-size="18.4" text-anchor="end" >300</text><line x1="54.60" y1="635.00" x2="56.80" y2="635.00" stroke="#222" stroke-width="1.1" /><line x1="54.60" y1="570.60" x2="56.80" y2="570.60" stroke="#222" stroke-width="1.1" /><line x1="54.60" y1="506.20" x2="56.80" y2="506.20" stroke="#222" stroke-width="1.1" /><line x1="347.50" y1="667.20" x2="350.50" y2="667.20" stroke="#222" stroke-width="1.2" /><text x="350.70" y="672.80" font-size="18.4" text-anchor="start" >0</text><line x1="347.50" y1="624.30" x2="350.50" y2="624.30" stroke="#222" stroke-width="1.2" /><text x="350.70" y="629.90" font-size="18.4" text-anchor="start" >0.2</text><line x1="347.50" y1="581.40" x2="350.50" y2="581.40" stroke="#222" stroke-width="1.2" /><text x="350.70" y="587.00" font-size="18.4" text-anchor="start" >0.4</text><line x1="347.50" y1="538.50" x2="350.50" y2="538.50" stroke="#222" stroke-width="1.2" /><text x="350.70" y="544.10" font-size="18.4" text-anchor="start" >0.6</text><line x1="347.50" y1="495.60" x2="350.50" y2="495.60" stroke="#222" stroke-width="1.2" /><text x="350.70" y="501.20" font-size="18.4" text-anchor="start" >0.8</text><line x1="347.50" y1="645.75" x2="349.70" y2="645.75" stroke="#222" stroke-width="1.1" /><line x1="347.50" y1="602.85" x2="349.70" y2="602.85" stroke="#222" stroke-width="1.1" /><line x1="347.50" y1="559.95" x2="349.70" y2="559.95" stroke="#222" stroke-width="1.1" /><line x1="347.50" y1="517.05" x2="349.70" y2="517.05" stroke="#222" stroke-width="1.1" /><text x="58.60" y="499.10" font-size="30.5" text-anchor="start" >F</text><line x1="87.30" y1="667.20" x2="87.30" y2="669.40" stroke="#222" stroke-width="1.0" /><line x1="87.30" y1="564.50" x2="87.30" y2="557.80" stroke="#3f60b0" stroke-width="1.3" /><line x1="85.60" y1="558.20" x2="89.00" y2="558.20" stroke="#3f60b0" stroke-width="1.3" /><rect x="69.25" y="565.15" width="36.10" height="102.05" fill="#79acde" stroke="#3f60b0" stroke-width="1.3" /><line x1="129.95" y1="667.20" x2="129.95" y2="669.40" stroke="#222" stroke-width="1.0" /><line x1="129.95" y1="521.90" x2="129.95" y2="509.00" stroke="#e8382c" stroke-width="1.3" /><line x1="128.25" y1="509.40" x2="131.65" y2="509.40" stroke="#e8382c" stroke-width="1.3" /><rect x="111.65" y="522.55" width="36.60" height="144.65" fill="#f48466" stroke="#e8382c" stroke-width="1.3" /><line x1="172.00" y1="667.20" x2="172.00" y2="669.40" stroke="#222" stroke-width="1.0" /><line x1="172.00" y1="590.40" x2="172.00" y2="575.30" stroke="#222222" stroke-width="1.3" /><line x1="170.30" y1="575.70" x2="173.70" y2="575.70" stroke="#222222" stroke-width="1.3" /><rect x="153.95" y="591.05" width="36.10" height="76.15" fill="#9a908f" stroke="#222222" stroke-width="1.3" /><line x1="232.70" y1="667.20" x2="232.70" y2="669.40" stroke="#222" stroke-width="1.0" /><line x1="232.70" y1="542.00" x2="232.70" y2="538.80" stroke="#3f60b0" stroke-width="1.3" /><line x1="231.00" y1="539.20" x2="234.40" y2="539.20" stroke="#3f60b0" stroke-width="1.3" /><rect x="214.85" y="542.65" width="35.70" height="124.55" fill="#79acde" stroke="#3f60b0" stroke-width="1.3" /><line x1="275.20" y1="667.20" x2="275.20" y2="669.40" stroke="#222" stroke-width="1.0" /><line x1="275.20" y1="516.00" x2="275.20" y2="513.40" stroke="#e8382c" stroke-width="1.3" /><line x1="273.50" y1="513.80" x2="276.90" y2="513.80" stroke="#e8382c" stroke-width="1.3" /><rect x="257.15" y="516.65" width="36.10" height="150.55" fill="#f48466" stroke="#e8382c" stroke-width="1.3" /><line x1="317.20" y1="667.20" x2="317.20" y2="669.40" stroke="#222" stroke-width="1.0" /><line x1="317.20" y1="547.00" x2="317.20" y2="538.80" stroke="#222222" stroke-width="1.3" /><line x1="315.50" y1="539.20" x2="318.90" y2="539.20" stroke="#222222" stroke-width="1.3" /><rect x="298.85" y="547.65" width="36.70" height="119.55" fill="#9a908f" stroke="#222222" stroke-width="1.3" /><path d="M123.10 490.90L123.10 487.30M123.10 490.90L127.00 490.40M123.10 490.90L125.70 495.00M123.10 490.90L120.50 495.00M123.10 490.90L119.20 490.40" stroke="#000" stroke-width="2.20" stroke-linecap="round" fill="none"/><path d="M135.70 490.90L135.70 487.30M135.70 490.90L139.60 490.40M135.70 490.90L138.30 495.00M135.70 490.90L133.10 495.00M135.70 490.90L131.80 490.40" stroke="#000" stroke-width="2.20" stroke-linecap="round" fill="none"/><path d="M171.38 556.30L169.38 566.10M175.21 556.30L173.12 566.10" stroke="#000" stroke-width="1.35" fill="none"/><path d="M168.30 559.47H176.20M168.30 563.25H176.20" stroke="#000" stroke-width="1.9" fill="none"/><path d="M263.80 495.26L263.80 491.84M263.80 495.26L267.50 494.79M263.80 495.26L266.27 499.16M263.80 495.26L261.33 499.16M263.80 495.26L260.10 494.79" stroke="#000" stroke-width="2.09" stroke-linecap="round" fill="none"/><path d="M276.20 495.26L276.20 491.84M276.20 495.26L279.90 494.79M276.20 495.26L278.67 499.16M276.20 495.26L273.73 499.16M276.20 495.26L272.50 494.79" stroke="#000" stroke-width="2.09" stroke-linecap="round" fill="none"/><path d="M288.40 495.26L288.40 491.84M288.40 495.26L292.10 494.79M288.40 495.26L290.87 499.16M288.40 495.26L285.93 499.16M288.40 495.26L284.69 494.79" stroke="#000" stroke-width="2.09" stroke-linecap="round" fill="none"/><path d="M307.46 521.40L305.41 532.20M311.38 521.40L309.24 532.20M316.36 521.40L314.31 532.20M320.28 521.40L318.14 532.20M325.26 521.40L323.21 532.20M329.18 521.40L327.04 532.20" stroke="#000" stroke-width="1.35" fill="none"/><path d="M304.30 524.91H312.40M304.30 529.04H312.40M313.20 524.91H321.30M313.20 529.04H321.30M322.10 524.91H330.20M322.10 529.04H330.20" stroke="#000" stroke-width="1.9" fill="none"/><text x="87.30" y="684.00" font-size="17.5" text-anchor="middle" >SPF</text><text x="130.00" y="684.00" font-size="17.5" text-anchor="middle" >GF</text><text x="172.00" y="684.00" font-size="17.5" text-anchor="middle" >ex-GF</text><text x="232.70" y="684.00" font-size="17.5" text-anchor="middle" >SPF</text><text x="275.20" y="684.00" font-size="17.5" text-anchor="middle" >GF</text><text x="317.20" y="684.00" font-size="17.5" text-anchor="middle" >ex-GF</text><text transform="translate(17.20,570.80) rotate(-90)" font-size="19.5" text-anchor="middle">LSP Power (PN)</text><text transform="translate(383.20,576.70) rotate(90)" font-size="18.4" text-anchor="middle">Rhythm Amplitude (RA)</text><rect x="488.30" y="476.30" width="96.70" height="193.00" fill="#d2d3d5" /><rect x="585.00" y="476.30" width="96.40" height="193.00" fill="#e6e6e6" /><line x1="585.00" y1="476.90" x2="585.00" y2="669.00" stroke="#444" stroke-width="1.5" stroke-dasharray="5.1,4.2" stroke-dashoffset="3.1"/><rect x="488.40" y="476.50" width="193.00" height="192.80" fill="none" stroke="#222" stroke-width="1.3" /><line x1="485.60" y1="669.30" x2="488.40" y2="669.30" stroke="#222" stroke-width="1.2" /><text x="484.20" y="674.90" font-size="18.4" text-anchor="end" >34</text><line x1="485.60" y1="621.05" x2="488.40" y2="621.05" stroke="#222" stroke-width="1.2" /><text x="484.20" y="626.65" font-size="18.4" text-anchor="end" >35</text><line x1="485.60" y1="572.80" x2="488.40" y2="572.80" stroke="#222" stroke-width="1.2" /><text x="484.20" y="578.40" font-size="18.4" text-anchor="end" >36</text><line x1="485.60" y1="524.55" x2="488.40" y2="524.55" stroke="#222" stroke-width="1.2" /><text x="484.20" y="530.15" font-size="18.4" text-anchor="end" >37</text><line x1="485.60" y1="476.30" x2="488.40" y2="476.30" stroke="#222" stroke-width="1.2" /><text x="484.20" y="481.90" font-size="18.4" text-anchor="end" >38</text><line x1="486.20" y1="645.17" x2="488.40" y2="645.17" stroke="#222" stroke-width="1.1" /><line x1="486.20" y1="596.92" x2="488.40" y2="596.92" stroke="#222" stroke-width="1.1" /><line x1="486.20" y1="548.67" x2="488.40" y2="548.67" stroke="#222" stroke-width="1.1" /><line x1="486.20" y1="500.42" x2="488.40" y2="500.42" stroke="#222" stroke-width="1.1" /><text x="488.60" y="499.50" font-size="30.5" text-anchor="start" >G</text><text x="511.80" y="488.20" font-size="9.45" text-anchor="start" fill="#222" style="stroke:none">Active (α) phase</text><text x="602.90" y="487.80" font-size="9.45" text-anchor="start" fill="#222" style="stroke:none">Rest (ρ) phase</text><line x1="509.00" y1="669.30" x2="509.00" y2="671.50" stroke="#222" stroke-width="1.0" /><line x1="509.00" y1="508.40" x2="509.00" y2="506.70" stroke="#3f60b0" stroke-width="1.3" /><line x1="507.30" y1="507.10" x2="510.70" y2="507.10" stroke="#3f60b0" stroke-width="1.3" /><rect x="497.05" y="509.05" width="23.90" height="160.25" fill="#79acde" stroke="#3f60b0" stroke-width="1.3" /><line x1="537.00" y1="669.30" x2="537.00" y2="671.50" stroke="#222" stroke-width="1.0" /><line x1="537.00" y1="531.20" x2="537.00" y2="528.90" stroke="#e8382c" stroke-width="1.3" /><line x1="535.30" y1="529.30" x2="538.70" y2="529.30" stroke="#e8382c" stroke-width="1.3" /><rect x="525.05" y="531.85" width="23.90" height="137.45" fill="#f48466" stroke="#e8382c" stroke-width="1.3" /><line x1="565.35" y1="669.30" x2="565.35" y2="671.50" stroke="#222" stroke-width="1.0" /><line x1="565.35" y1="533.60" x2="565.35" y2="519.60" stroke="#222222" stroke-width="1.3" /><line x1="563.65" y1="520.00" x2="567.05" y2="520.00" stroke="#222222" stroke-width="1.3" /><rect x="553.35" y="534.25" width="24.00" height="135.05" fill="#9a908f" stroke="#222222" stroke-width="1.3" /><line x1="605.40" y1="669.30" x2="605.40" y2="671.50" stroke="#222" stroke-width="1.0" /><line x1="605.40" y1="597.40" x2="605.40" y2="594.10" stroke="#3f60b0" stroke-width="1.3" /><line x1="603.70" y1="594.50" x2="607.10" y2="594.50" stroke="#3f60b0" stroke-width="1.3" /><rect x="593.45" y="598.05" width="23.90" height="71.25" fill="#79acde" stroke="#3f60b0" stroke-width="1.3" /><line x1="633.45" y1="669.30" x2="633.45" y2="671.50" stroke="#222" stroke-width="1.0" /><line x1="633.45" y1="615.30" x2="633.45" y2="612.50" stroke="#e8382c" stroke-width="1.3" /><line x1="631.75" y1="612.90" x2="635.15" y2="612.90" stroke="#e8382c" stroke-width="1.3" /><rect x="621.75" y="615.95" width="23.40" height="53.35" fill="#f48466" stroke="#e8382c" stroke-width="1.3" /><line x1="661.90" y1="669.30" x2="661.90" y2="671.50" stroke="#222" stroke-width="1.0" /><line x1="661.90" y1="605.00" x2="661.90" y2="594.30" stroke="#222222" stroke-width="1.3" /><line x1="660.20" y1="594.70" x2="663.60" y2="594.70" stroke="#222222" stroke-width="1.3" /><rect x="650.05" y="605.65" width="23.70" height="63.65" fill="#9a908f" stroke="#222222" stroke-width="1.3" /><path d="M527.60 515.93L527.60 513.30M527.60 515.93L530.45 515.57M527.60 515.93L529.50 518.92M527.60 515.93L525.70 518.92M527.60 515.93L524.75 515.57" stroke="#000" stroke-width="1.61" stroke-linecap="round" fill="none"/><path d="M536.60 515.93L536.60 513.30M536.60 515.93L539.45 515.57M536.60 515.93L538.50 518.92M536.60 515.93L534.70 518.92M536.60 515.93L533.75 515.57" stroke="#000" stroke-width="1.61" stroke-linecap="round" fill="none"/><path d="M545.40 515.93L545.40 513.30M545.40 515.93L548.25 515.57M545.40 515.93L547.30 518.92M545.40 515.93L543.50 518.92M545.40 515.93L542.55 515.57" stroke="#000" stroke-width="1.61" stroke-linecap="round" fill="none"/><path d="M560.90 506.83L560.90 504.20M560.90 506.83L563.75 506.47M560.90 506.83L562.80 509.82M560.90 506.83L559.00 509.82M560.90 506.83L558.05 506.47" stroke="#000" stroke-width="1.61" stroke-linecap="round" fill="none"/><path d="M569.00 506.83L569.00 504.20M569.00 506.83L571.85 506.47M569.00 506.83L570.90 509.82M569.00 506.83L567.10 509.82M569.00 506.83L566.15 506.47" stroke="#000" stroke-width="1.61" stroke-linecap="round" fill="none"/><path d="M624.40 600.28L624.40 597.69M624.40 600.28L627.21 599.92M624.40 600.28L626.27 603.24M624.40 600.28L622.53 603.24M624.40 600.28L621.59 599.92" stroke="#000" stroke-width="1.58" stroke-linecap="round" fill="none"/><path d="M633.20 600.28L633.20 597.69M633.20 600.28L636.01 599.92M633.20 600.28L635.07 603.24M633.20 600.28L631.33 603.24M633.20 600.28L630.39 599.92" stroke="#000" stroke-width="1.58" stroke-linecap="round" fill="none"/><path d="M642.00 600.28L642.00 597.69M642.00 600.28L644.81 599.92M642.00 600.28L643.87 603.24M642.00 600.28L640.13 603.24M642.00 600.28L639.19 599.92" stroke="#000" stroke-width="1.58" stroke-linecap="round" fill="none"/><text x="509.00" y="683.80" font-size="13.4" text-anchor="middle" >SPF</text><text x="537.00" y="683.80" font-size="13.4" text-anchor="middle" >GF</text><text x="565.30" y="683.80" font-size="13.4" text-anchor="middle" >ex-GF</text><text x="605.40" y="683.80" font-size="13.4" text-anchor="middle" >SPF</text><text x="633.40" y="683.80" font-size="13.4" text-anchor="middle" >GF</text><text x="661.90" y="683.80" font-size="13.4" text-anchor="middle" >ex-GF</text><text transform="translate(458.50,572.10) rotate(-90)" font-size="19.8" text-anchor="middle">Temperature (°C)</text></svg>
</body></html>
